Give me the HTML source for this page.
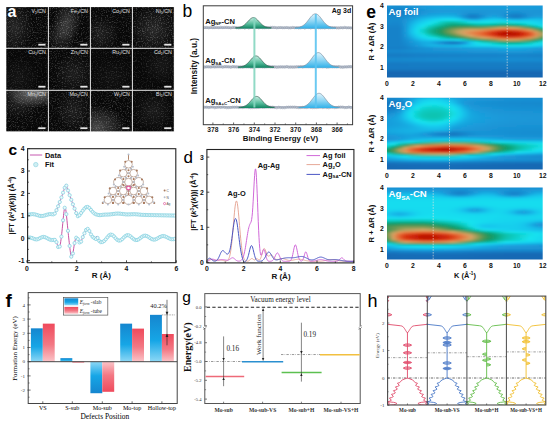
<!DOCTYPE html>
<html><head><meta charset="utf-8"><style>
html,body{margin:0;padding:0;background:#fff;width:550px;height:425px;overflow:hidden}
svg{display:block}
</style></head><body>
<svg width="550" height="425" viewBox="0 0 550 425">
<defs><filter id="nz" x="0" y="0" width="100%" height="100%"><feTurbulence type="fractalNoise" baseFrequency="0.8" numOctaves="2" seed="11"/><feColorMatrix type="matrix" values="0 0 0 0 1  0 0 0 0 1  0 0 0 0 1  3.5 0 0 0 -1.75"/><feGaussianBlur stdDeviation="0.3"/></filter><radialGradient id="hz"><stop offset="0" stop-color="#fff" stop-opacity="1"/><stop offset="1" stop-color="#fff" stop-opacity="0"/></radialGradient><linearGradient id="gg" x1="0" y1="0" x2="0" y2="1"><stop offset="0" stop-color="#c8ece2"/><stop offset="0.55" stop-color="#5cbfa0"/><stop offset="1" stop-color="#0e8460"/></linearGradient><linearGradient id="bg" x1="0" y1="0" x2="0" y2="1"><stop offset="0" stop-color="#e0f4fc"/><stop offset="0.5" stop-color="#8fd6f4"/><stop offset="1" stop-color="#30b0e8"/></linearGradient><clipPath id="cc"><rect x="27.6" y="148.7" width="148.20" height="114.00"/></clipPath><clipPath id="cd"><rect x="206.9" y="149.5" width="147.00" height="113.40"/></clipPath><filter id="eb" x="-5%" y="-5%" width="110%" height="110%"><feGaussianBlur stdDeviation="1.4 1.0"/></filter><clipPath id="ec0"><rect x="387.0" y="5.6" width="155.70" height="71.9"/></clipPath><linearGradient id="e0_0" gradientUnits="userSpaceOnUse" x1="381.8" x2="547.9" y1="0" y2="0"><stop offset="0.000" stop-color="#198fd2"/><stop offset="0.036" stop-color="#198dd1"/><stop offset="0.071" stop-color="#198dd0"/><stop offset="0.107" stop-color="#198cd0"/><stop offset="0.143" stop-color="#198dd1"/><stop offset="0.179" stop-color="#198fd2"/><stop offset="0.214" stop-color="#1991d3"/><stop offset="0.250" stop-color="#1992d4"/><stop offset="0.286" stop-color="#1a93d5"/><stop offset="0.321" stop-color="#1a94d5"/><stop offset="0.357" stop-color="#1a94d6"/><stop offset="0.393" stop-color="#1a94d6"/><stop offset="0.429" stop-color="#1a94d6"/><stop offset="0.464" stop-color="#1a94d5"/><stop offset="0.500" stop-color="#1a93d5"/><stop offset="0.536" stop-color="#1993d5"/><stop offset="0.571" stop-color="#1993d5"/><stop offset="0.607" stop-color="#1992d4"/><stop offset="0.643" stop-color="#1992d4"/><stop offset="0.679" stop-color="#1992d4"/><stop offset="0.714" stop-color="#1992d4"/><stop offset="0.750" stop-color="#1992d4"/><stop offset="0.786" stop-color="#1992d4"/><stop offset="0.821" stop-color="#1992d4"/><stop offset="0.857" stop-color="#1992d4"/><stop offset="0.893" stop-color="#1992d4"/><stop offset="0.929" stop-color="#1992d4"/><stop offset="0.964" stop-color="#1991d4"/><stop offset="1.000" stop-color="#1991d4"/></linearGradient><linearGradient id="e0_1" gradientUnits="userSpaceOnUse" x1="381.8" x2="547.9" y1="0" y2="0"><stop offset="0.000" stop-color="#1a93d5"/><stop offset="0.036" stop-color="#1991d4"/><stop offset="0.071" stop-color="#198fd2"/><stop offset="0.107" stop-color="#198ed2"/><stop offset="0.143" stop-color="#1990d3"/><stop offset="0.179" stop-color="#1a93d5"/><stop offset="0.214" stop-color="#1a96d7"/><stop offset="0.250" stop-color="#1a98d9"/><stop offset="0.286" stop-color="#1a9ada"/><stop offset="0.321" stop-color="#1a9cdb"/><stop offset="0.357" stop-color="#1a9cdb"/><stop offset="0.393" stop-color="#199ddb"/><stop offset="0.429" stop-color="#199ddb"/><stop offset="0.464" stop-color="#1a9cdb"/><stop offset="0.500" stop-color="#1a9bdb"/><stop offset="0.536" stop-color="#1a9bda"/><stop offset="0.571" stop-color="#1a9ada"/><stop offset="0.607" stop-color="#1a9ada"/><stop offset="0.643" stop-color="#1a99da"/><stop offset="0.679" stop-color="#1a99da"/><stop offset="0.714" stop-color="#1a9ada"/><stop offset="0.750" stop-color="#1a9ada"/><stop offset="0.786" stop-color="#1a9ada"/><stop offset="0.821" stop-color="#1a99da"/><stop offset="0.857" stop-color="#1a99d9"/><stop offset="0.893" stop-color="#1a99d9"/><stop offset="0.929" stop-color="#1a99d9"/><stop offset="0.964" stop-color="#1a98d9"/><stop offset="1.000" stop-color="#1a98d9"/></linearGradient><linearGradient id="e0_2" gradientUnits="userSpaceOnUse" x1="381.8" x2="547.9" y1="0" y2="0"><stop offset="0.000" stop-color="#1a94d6"/><stop offset="0.036" stop-color="#1990d3"/><stop offset="0.071" stop-color="#198dd1"/><stop offset="0.107" stop-color="#198cd0"/><stop offset="0.143" stop-color="#198ed2"/><stop offset="0.179" stop-color="#1993d5"/><stop offset="0.214" stop-color="#1a97d8"/><stop offset="0.250" stop-color="#1a9cdb"/><stop offset="0.286" stop-color="#19a0dd"/><stop offset="0.321" stop-color="#18a3de"/><stop offset="0.357" stop-color="#18a4de"/><stop offset="0.393" stop-color="#18a4de"/><stop offset="0.429" stop-color="#18a4de"/><stop offset="0.464" stop-color="#18a4de"/><stop offset="0.500" stop-color="#18a3de"/><stop offset="0.536" stop-color="#18a2dd"/><stop offset="0.571" stop-color="#19a1dd"/><stop offset="0.607" stop-color="#19a1dd"/><stop offset="0.643" stop-color="#19a0dd"/><stop offset="0.679" stop-color="#19a0dd"/><stop offset="0.714" stop-color="#19a1dd"/><stop offset="0.750" stop-color="#19a1dd"/><stop offset="0.786" stop-color="#19a0dd"/><stop offset="0.821" stop-color="#19a0dd"/><stop offset="0.857" stop-color="#19a0dc"/><stop offset="0.893" stop-color="#199fdc"/><stop offset="0.929" stop-color="#199edc"/><stop offset="0.964" stop-color="#199ddb"/><stop offset="1.000" stop-color="#199ddb"/></linearGradient><linearGradient id="e0_3" gradientUnits="userSpaceOnUse" x1="381.8" x2="547.9" y1="0" y2="0"><stop offset="0.000" stop-color="#1989ce"/><stop offset="0.036" stop-color="#1884ca"/><stop offset="0.071" stop-color="#1880c7"/><stop offset="0.107" stop-color="#187ec6"/><stop offset="0.143" stop-color="#1882c9"/><stop offset="0.179" stop-color="#1987cd"/><stop offset="0.214" stop-color="#198ed1"/><stop offset="0.250" stop-color="#1993d5"/><stop offset="0.286" stop-color="#1a96d7"/><stop offset="0.321" stop-color="#1a98d8"/><stop offset="0.357" stop-color="#1a99d9"/><stop offset="0.393" stop-color="#1a99d9"/><stop offset="0.429" stop-color="#1a99d9"/><stop offset="0.464" stop-color="#1a98d9"/><stop offset="0.500" stop-color="#1a98d8"/><stop offset="0.536" stop-color="#1a97d8"/><stop offset="0.571" stop-color="#1a96d7"/><stop offset="0.607" stop-color="#1a96d7"/><stop offset="0.643" stop-color="#1a96d7"/><stop offset="0.679" stop-color="#1a96d7"/><stop offset="0.714" stop-color="#1a96d7"/><stop offset="0.750" stop-color="#1a96d7"/><stop offset="0.786" stop-color="#1a96d7"/><stop offset="0.821" stop-color="#1a95d7"/><stop offset="0.857" stop-color="#1a95d7"/><stop offset="0.893" stop-color="#1a95d6"/><stop offset="0.929" stop-color="#1a94d6"/><stop offset="0.964" stop-color="#1a94d6"/><stop offset="1.000" stop-color="#1a93d5"/></linearGradient><linearGradient id="e0_4" gradientUnits="userSpaceOnUse" x1="381.8" x2="547.9" y1="0" y2="0"><stop offset="0.000" stop-color="#1988cd"/><stop offset="0.036" stop-color="#1883c9"/><stop offset="0.071" stop-color="#187ec6"/><stop offset="0.107" stop-color="#187dc5"/><stop offset="0.143" stop-color="#1880c8"/><stop offset="0.179" stop-color="#1987cc"/><stop offset="0.214" stop-color="#198ed2"/><stop offset="0.250" stop-color="#1a94d6"/><stop offset="0.286" stop-color="#1a98d8"/><stop offset="0.321" stop-color="#1a9ada"/><stop offset="0.357" stop-color="#1a9bdb"/><stop offset="0.393" stop-color="#1a9cdb"/><stop offset="0.429" stop-color="#1a9cdb"/><stop offset="0.464" stop-color="#1a9ada"/><stop offset="0.500" stop-color="#1a97d8"/><stop offset="0.536" stop-color="#1a95d6"/><stop offset="0.571" stop-color="#1a95d6"/><stop offset="0.607" stop-color="#1a96d7"/><stop offset="0.643" stop-color="#1a97d8"/><stop offset="0.679" stop-color="#1a97d8"/><stop offset="0.714" stop-color="#1a97d8"/><stop offset="0.750" stop-color="#1a95d6"/><stop offset="0.786" stop-color="#1992d4"/><stop offset="0.821" stop-color="#1992d4"/><stop offset="0.857" stop-color="#1a93d5"/><stop offset="0.893" stop-color="#1a95d6"/><stop offset="0.929" stop-color="#1a95d6"/><stop offset="0.964" stop-color="#1a94d6"/><stop offset="1.000" stop-color="#1a94d6"/></linearGradient><linearGradient id="e0_5" gradientUnits="userSpaceOnUse" x1="381.8" x2="547.9" y1="0" y2="0"><stop offset="0.000" stop-color="#1989ce"/><stop offset="0.036" stop-color="#1884ca"/><stop offset="0.071" stop-color="#1880c8"/><stop offset="0.107" stop-color="#187fc6"/><stop offset="0.143" stop-color="#1884ca"/><stop offset="0.179" stop-color="#198bcf"/><stop offset="0.214" stop-color="#1992d5"/><stop offset="0.250" stop-color="#1a98d9"/><stop offset="0.286" stop-color="#199edc"/><stop offset="0.321" stop-color="#19a1dd"/><stop offset="0.357" stop-color="#18a3de"/><stop offset="0.393" stop-color="#18a4de"/><stop offset="0.429" stop-color="#18a3de"/><stop offset="0.464" stop-color="#1a9ddb"/><stop offset="0.500" stop-color="#1a93d5"/><stop offset="0.536" stop-color="#198bcf"/><stop offset="0.571" stop-color="#198cd0"/><stop offset="0.607" stop-color="#1a93d5"/><stop offset="0.643" stop-color="#1a98d9"/><stop offset="0.679" stop-color="#1a99d9"/><stop offset="0.714" stop-color="#1a97d8"/><stop offset="0.750" stop-color="#198fd2"/><stop offset="0.786" stop-color="#1986cc"/><stop offset="0.821" stop-color="#1985cb"/><stop offset="0.857" stop-color="#198dd1"/><stop offset="0.893" stop-color="#1a94d6"/><stop offset="0.929" stop-color="#1a96d7"/><stop offset="0.964" stop-color="#1a96d7"/><stop offset="1.000" stop-color="#1a95d7"/></linearGradient><linearGradient id="e0_6" gradientUnits="userSpaceOnUse" x1="381.8" x2="547.9" y1="0" y2="0"><stop offset="0.000" stop-color="#198bcf"/><stop offset="0.036" stop-color="#1988cd"/><stop offset="0.071" stop-color="#1885cb"/><stop offset="0.107" stop-color="#1884ca"/><stop offset="0.143" stop-color="#198ace"/><stop offset="0.179" stop-color="#1992d4"/><stop offset="0.214" stop-color="#1a99d9"/><stop offset="0.250" stop-color="#18a2de"/><stop offset="0.286" stop-color="#17a9e1"/><stop offset="0.321" stop-color="#16aee2"/><stop offset="0.357" stop-color="#16b1e4"/><stop offset="0.393" stop-color="#15b2e4"/><stop offset="0.429" stop-color="#16b0e3"/><stop offset="0.464" stop-color="#18a2de"/><stop offset="0.500" stop-color="#198dd1"/><stop offset="0.536" stop-color="#187cc4"/><stop offset="0.571" stop-color="#187ec6"/><stop offset="0.607" stop-color="#1990d3"/><stop offset="0.643" stop-color="#1a9cdb"/><stop offset="0.679" stop-color="#19a0dc"/><stop offset="0.714" stop-color="#1a98d9"/><stop offset="0.750" stop-color="#198ace"/><stop offset="0.786" stop-color="#177bc3"/><stop offset="0.821" stop-color="#177ac2"/><stop offset="0.857" stop-color="#1986cc"/><stop offset="0.893" stop-color="#1a94d6"/><stop offset="0.929" stop-color="#1a99d9"/><stop offset="0.964" stop-color="#1a99d9"/><stop offset="1.000" stop-color="#1a98d9"/></linearGradient><linearGradient id="e0_7" gradientUnits="userSpaceOnUse" x1="381.8" x2="547.9" y1="0" y2="0"><stop offset="0.000" stop-color="#198dd1"/><stop offset="0.036" stop-color="#198bcf"/><stop offset="0.071" stop-color="#1989ce"/><stop offset="0.107" stop-color="#1989ce"/><stop offset="0.143" stop-color="#1991d3"/><stop offset="0.179" stop-color="#1a99da"/><stop offset="0.214" stop-color="#18a7df"/><stop offset="0.250" stop-color="#15b3e5"/><stop offset="0.286" stop-color="#13bce9"/><stop offset="0.321" stop-color="#12c3ec"/><stop offset="0.357" stop-color="#12c8ec"/><stop offset="0.393" stop-color="#12caed"/><stop offset="0.429" stop-color="#12c9ed"/><stop offset="0.464" stop-color="#14bbe8"/><stop offset="0.500" stop-color="#1a97d8"/><stop offset="0.536" stop-color="#1882c9"/><stop offset="0.571" stop-color="#1884ca"/><stop offset="0.607" stop-color="#1a99d9"/><stop offset="0.643" stop-color="#16afe3"/><stop offset="0.679" stop-color="#15b4e5"/><stop offset="0.714" stop-color="#16ace2"/><stop offset="0.750" stop-color="#1a97d8"/><stop offset="0.786" stop-color="#1987cc"/><stop offset="0.821" stop-color="#1985cb"/><stop offset="0.857" stop-color="#1992d5"/><stop offset="0.893" stop-color="#18a3de"/><stop offset="0.929" stop-color="#17a9e0"/><stop offset="0.964" stop-color="#17a8e0"/><stop offset="1.000" stop-color="#18a5df"/></linearGradient><linearGradient id="e0_8" gradientUnits="userSpaceOnUse" x1="381.8" x2="547.9" y1="0" y2="0"><stop offset="0.000" stop-color="#198cd0"/><stop offset="0.036" stop-color="#198bcf"/><stop offset="0.071" stop-color="#198acf"/><stop offset="0.107" stop-color="#198ace"/><stop offset="0.143" stop-color="#1a94d6"/><stop offset="0.179" stop-color="#18a2dd"/><stop offset="0.214" stop-color="#15b3e5"/><stop offset="0.250" stop-color="#12c3ec"/><stop offset="0.286" stop-color="#12ceed"/><stop offset="0.321" stop-color="#12d7ee"/><stop offset="0.357" stop-color="#12dfef"/><stop offset="0.393" stop-color="#12e3ed"/><stop offset="0.429" stop-color="#12e3ee"/><stop offset="0.464" stop-color="#12dcef"/><stop offset="0.500" stop-color="#12cbed"/><stop offset="0.536" stop-color="#15b4e5"/><stop offset="0.571" stop-color="#15b2e4"/><stop offset="0.607" stop-color="#12c6ec"/><stop offset="0.643" stop-color="#12ceed"/><stop offset="0.679" stop-color="#12d1ee"/><stop offset="0.714" stop-color="#12d0ee"/><stop offset="0.750" stop-color="#12c9ed"/><stop offset="0.786" stop-color="#14bce9"/><stop offset="0.821" stop-color="#14b9e7"/><stop offset="0.857" stop-color="#13c1eb"/><stop offset="0.893" stop-color="#12c7ec"/><stop offset="0.929" stop-color="#12c6ec"/><stop offset="0.964" stop-color="#13c1eb"/><stop offset="1.000" stop-color="#13bce9"/></linearGradient><linearGradient id="e0_9" gradientUnits="userSpaceOnUse" x1="381.8" x2="547.9" y1="0" y2="0"><stop offset="0.000" stop-color="#198ace"/><stop offset="0.036" stop-color="#198ace"/><stop offset="0.071" stop-color="#1989ce"/><stop offset="0.107" stop-color="#1989ce"/><stop offset="0.143" stop-color="#1a96d7"/><stop offset="0.179" stop-color="#17abe1"/><stop offset="0.214" stop-color="#13c0ea"/><stop offset="0.250" stop-color="#12cfed"/><stop offset="0.286" stop-color="#12dcef"/><stop offset="0.321" stop-color="#12e0e9"/><stop offset="0.357" stop-color="#11d0ca"/><stop offset="0.393" stop-color="#11c3b0"/><stop offset="0.429" stop-color="#10c0ab"/><stop offset="0.464" stop-color="#11c7b9"/><stop offset="0.500" stop-color="#11d5d2"/><stop offset="0.536" stop-color="#12e3ef"/><stop offset="0.571" stop-color="#12dfef"/><stop offset="0.607" stop-color="#12e2f0"/><stop offset="0.643" stop-color="#12e4f0"/><stop offset="0.679" stop-color="#12e1ea"/><stop offset="0.714" stop-color="#12dde3"/><stop offset="0.750" stop-color="#12dfe6"/><stop offset="0.786" stop-color="#12e3f0"/><stop offset="0.821" stop-color="#12e0f0"/><stop offset="0.857" stop-color="#12ddef"/><stop offset="0.893" stop-color="#12daef"/><stop offset="0.929" stop-color="#12d3ee"/><stop offset="0.964" stop-color="#12cded"/><stop offset="1.000" stop-color="#12c8ec"/></linearGradient><linearGradient id="e0_10" gradientUnits="userSpaceOnUse" x1="381.8" x2="547.9" y1="0" y2="0"><stop offset="0.000" stop-color="#1988cd"/><stop offset="0.036" stop-color="#1987cd"/><stop offset="0.071" stop-color="#1987cd"/><stop offset="0.107" stop-color="#1987cd"/><stop offset="0.143" stop-color="#1a98d8"/><stop offset="0.179" stop-color="#15b3e5"/><stop offset="0.214" stop-color="#12caed"/><stop offset="0.250" stop-color="#12d9ef"/><stop offset="0.286" stop-color="#12e2ec"/><stop offset="0.321" stop-color="#11d2ce"/><stop offset="0.357" stop-color="#11c3b0"/><stop offset="0.393" stop-color="#10b494"/><stop offset="0.429" stop-color="#10ae8a"/><stop offset="0.464" stop-color="#10b18f"/><stop offset="0.500" stop-color="#10b698"/><stop offset="0.536" stop-color="#10bfa9"/><stop offset="0.571" stop-color="#11c9bc"/><stop offset="0.607" stop-color="#11cbc0"/><stop offset="0.643" stop-color="#11cabe"/><stop offset="0.679" stop-color="#11c5b4"/><stop offset="0.714" stop-color="#10bda6"/><stop offset="0.750" stop-color="#10bba2"/><stop offset="0.786" stop-color="#10c0ac"/><stop offset="0.821" stop-color="#11c7b8"/><stop offset="0.857" stop-color="#11d3cf"/><stop offset="0.893" stop-color="#12dfe7"/><stop offset="0.929" stop-color="#12dbef"/><stop offset="0.964" stop-color="#12d1ee"/><stop offset="1.000" stop-color="#12c8ed"/></linearGradient><linearGradient id="e0_11" gradientUnits="userSpaceOnUse" x1="381.8" x2="547.9" y1="0" y2="0"><stop offset="0.000" stop-color="#1885cb"/><stop offset="0.036" stop-color="#1885cb"/><stop offset="0.071" stop-color="#1885cb"/><stop offset="0.107" stop-color="#1885cb"/><stop offset="0.143" stop-color="#1a98d9"/><stop offset="0.179" stop-color="#14bae8"/><stop offset="0.214" stop-color="#12d2ee"/><stop offset="0.250" stop-color="#12e3f0"/><stop offset="0.286" stop-color="#11d1cc"/><stop offset="0.321" stop-color="#10c0ab"/><stop offset="0.357" stop-color="#10b08d"/><stop offset="0.393" stop-color="#10a173"/><stop offset="0.429" stop-color="#109761"/><stop offset="0.464" stop-color="#139660"/><stop offset="0.500" stop-color="#109660"/><stop offset="0.536" stop-color="#109a67"/><stop offset="0.571" stop-color="#10a173"/><stop offset="0.607" stop-color="#10a173"/><stop offset="0.643" stop-color="#109d6c"/><stop offset="0.679" stop-color="#129660"/><stop offset="0.714" stop-color="#2d965b"/><stop offset="0.750" stop-color="#35965a"/><stop offset="0.786" stop-color="#28965c"/><stop offset="0.821" stop-color="#13965f"/><stop offset="0.857" stop-color="#10a479"/><stop offset="0.893" stop-color="#10b494"/><stop offset="0.929" stop-color="#11cfc8"/><stop offset="0.964" stop-color="#12e2f0"/><stop offset="1.000" stop-color="#12d5ee"/></linearGradient><linearGradient id="e0_12" gradientUnits="userSpaceOnUse" x1="381.8" x2="547.9" y1="0" y2="0"><stop offset="0.000" stop-color="#1882c9"/><stop offset="0.036" stop-color="#1882c9"/><stop offset="0.071" stop-color="#1882c9"/><stop offset="0.107" stop-color="#1882c9"/><stop offset="0.143" stop-color="#1a98d8"/><stop offset="0.179" stop-color="#13bee9"/><stop offset="0.214" stop-color="#12d8ee"/><stop offset="0.250" stop-color="#12dadc"/><stop offset="0.286" stop-color="#11c2ae"/><stop offset="0.321" stop-color="#10af8c"/><stop offset="0.357" stop-color="#109e6e"/><stop offset="0.393" stop-color="#2e965b"/><stop offset="0.429" stop-color="#549654"/><stop offset="0.464" stop-color="#699651"/><stop offset="0.500" stop-color="#769752"/><stop offset="0.536" stop-color="#799853"/><stop offset="0.571" stop-color="#749751"/><stop offset="0.607" stop-color="#809954"/><stop offset="0.643" stop-color="#989d59"/><stop offset="0.679" stop-color="#baa361"/><stop offset="0.714" stop-color="#d9a565"/><stop offset="0.750" stop-color="#db9f60"/><stop offset="0.786" stop-color="#d9a666"/><stop offset="0.821" stop-color="#c3a463"/><stop offset="0.857" stop-color="#8d9b57"/><stop offset="0.893" stop-color="#549654"/><stop offset="0.929" stop-color="#109d6c"/><stop offset="0.964" stop-color="#10ba9f"/><stop offset="1.000" stop-color="#11d6d4"/></linearGradient><linearGradient id="e0_13" gradientUnits="userSpaceOnUse" x1="381.8" x2="547.9" y1="0" y2="0"><stop offset="0.000" stop-color="#1882c9"/><stop offset="0.036" stop-color="#1882c9"/><stop offset="0.071" stop-color="#1882c9"/><stop offset="0.107" stop-color="#1882c9"/><stop offset="0.143" stop-color="#1a99d9"/><stop offset="0.179" stop-color="#12c2eb"/><stop offset="0.214" stop-color="#12dcef"/><stop offset="0.250" stop-color="#11d0ca"/><stop offset="0.286" stop-color="#10b698"/><stop offset="0.321" stop-color="#10a478"/><stop offset="0.357" stop-color="#20965d"/><stop offset="0.393" stop-color="#5b9653"/><stop offset="0.429" stop-color="#899b56"/><stop offset="0.464" stop-color="#ada15e"/><stop offset="0.500" stop-color="#cca665"/><stop offset="0.536" stop-color="#d9a465"/><stop offset="0.571" stop-color="#db9e5f"/><stop offset="0.607" stop-color="#de9356"/><stop offset="0.643" stop-color="#e38247"/><stop offset="0.679" stop-color="#e76d36"/><stop offset="0.714" stop-color="#e05325"/><stop offset="0.750" stop-color="#de491f"/><stop offset="0.786" stop-color="#e05225"/><stop offset="0.821" stop-color="#e4612e"/><stop offset="0.857" stop-color="#e48045"/><stop offset="0.893" stop-color="#db9c5e"/><stop offset="0.929" stop-color="#899b56"/><stop offset="0.964" stop-color="#29965c"/><stop offset="1.000" stop-color="#10ab84"/></linearGradient><linearGradient id="e0_14" gradientUnits="userSpaceOnUse" x1="381.8" x2="547.9" y1="0" y2="0"><stop offset="0.000" stop-color="#1882c9"/><stop offset="0.036" stop-color="#1882c9"/><stop offset="0.071" stop-color="#1882c9"/><stop offset="0.107" stop-color="#1882c9"/><stop offset="0.143" stop-color="#1a99d9"/><stop offset="0.179" stop-color="#12c2eb"/><stop offset="0.214" stop-color="#12dcef"/><stop offset="0.250" stop-color="#11d0c9"/><stop offset="0.286" stop-color="#10b597"/><stop offset="0.321" stop-color="#10a276"/><stop offset="0.357" stop-color="#25965c"/><stop offset="0.393" stop-color="#629652"/><stop offset="0.429" stop-color="#959d59"/><stop offset="0.464" stop-color="#c6a564"/><stop offset="0.500" stop-color="#db9c5e"/><stop offset="0.536" stop-color="#e08b50"/><stop offset="0.571" stop-color="#e47d43"/><stop offset="0.607" stop-color="#e76c35"/><stop offset="0.643" stop-color="#df4f23"/><stop offset="0.679" stop-color="#d7300f"/><stop offset="0.714" stop-color="#c71d07"/><stop offset="0.750" stop-color="#bf1605"/><stop offset="0.786" stop-color="#c31a06"/><stop offset="0.821" stop-color="#cc2309"/><stop offset="0.857" stop-color="#db4119"/><stop offset="0.893" stop-color="#e66833"/><stop offset="0.929" stop-color="#db9c5e"/><stop offset="0.964" stop-color="#889a56"/><stop offset="1.000" stop-color="#2a965c"/></linearGradient><linearGradient id="e0_15" gradientUnits="userSpaceOnUse" x1="381.8" x2="547.9" y1="0" y2="0"><stop offset="0.000" stop-color="#1882c9"/><stop offset="0.036" stop-color="#1882c9"/><stop offset="0.071" stop-color="#1882c9"/><stop offset="0.107" stop-color="#1882c9"/><stop offset="0.143" stop-color="#1a97d8"/><stop offset="0.179" stop-color="#13bde9"/><stop offset="0.214" stop-color="#12d7ee"/><stop offset="0.250" stop-color="#12d9db"/><stop offset="0.286" stop-color="#10c0aa"/><stop offset="0.321" stop-color="#10ac87"/><stop offset="0.357" stop-color="#109965"/><stop offset="0.393" stop-color="#429658"/><stop offset="0.429" stop-color="#749751"/><stop offset="0.464" stop-color="#ada15e"/><stop offset="0.500" stop-color="#daa363"/><stop offset="0.536" stop-color="#e08c50"/><stop offset="0.571" stop-color="#e6773e"/><stop offset="0.607" stop-color="#e4612e"/><stop offset="0.643" stop-color="#dc411a"/><stop offset="0.679" stop-color="#cf250a"/><stop offset="0.714" stop-color="#bb1203"/><stop offset="0.750" stop-color="#b20a01"/><stop offset="0.786" stop-color="#b60d02"/><stop offset="0.821" stop-color="#be1504"/><stop offset="0.857" stop-color="#d3290b"/><stop offset="0.893" stop-color="#df4e22"/><stop offset="0.929" stop-color="#e1894e"/><stop offset="0.964" stop-color="#b2a25f"/><stop offset="1.000" stop-color="#4e9655"/></linearGradient><linearGradient id="e0_16" gradientUnits="userSpaceOnUse" x1="381.8" x2="547.9" y1="0" y2="0"><stop offset="0.000" stop-color="#1882c9"/><stop offset="0.036" stop-color="#1882c9"/><stop offset="0.071" stop-color="#1882c9"/><stop offset="0.107" stop-color="#1882c9"/><stop offset="0.143" stop-color="#1a95d6"/><stop offset="0.179" stop-color="#15b4e5"/><stop offset="0.214" stop-color="#12cfed"/><stop offset="0.250" stop-color="#12e0f0"/><stop offset="0.286" stop-color="#11d4d1"/><stop offset="0.321" stop-color="#10c1ac"/><stop offset="0.357" stop-color="#10ae8a"/><stop offset="0.393" stop-color="#109c6a"/><stop offset="0.429" stop-color="#2d965b"/><stop offset="0.464" stop-color="#679651"/><stop offset="0.500" stop-color="#a19f5c"/><stop offset="0.536" stop-color="#d8a767"/><stop offset="0.571" stop-color="#df8e52"/><stop offset="0.607" stop-color="#e57b42"/><stop offset="0.643" stop-color="#e4602e"/><stop offset="0.679" stop-color="#db3f18"/><stop offset="0.714" stop-color="#cd2409"/><stop offset="0.750" stop-color="#c41a06"/><stop offset="0.786" stop-color="#c61d07"/><stop offset="0.821" stop-color="#cd2309"/><stop offset="0.857" stop-color="#db3d17"/><stop offset="0.893" stop-color="#e4622f"/><stop offset="0.929" stop-color="#dd9658"/><stop offset="0.964" stop-color="#9b9e5a"/><stop offset="1.000" stop-color="#3a9659"/></linearGradient><linearGradient id="e0_17" gradientUnits="userSpaceOnUse" x1="381.8" x2="547.9" y1="0" y2="0"><stop offset="0.000" stop-color="#1882c9"/><stop offset="0.036" stop-color="#1882c9"/><stop offset="0.071" stop-color="#1882c9"/><stop offset="0.107" stop-color="#1882c9"/><stop offset="0.143" stop-color="#1992d4"/><stop offset="0.179" stop-color="#17a9e0"/><stop offset="0.214" stop-color="#12c4ec"/><stop offset="0.250" stop-color="#12d2ee"/><stop offset="0.286" stop-color="#12deef"/><stop offset="0.321" stop-color="#12dee5"/><stop offset="0.357" stop-color="#11cec6"/><stop offset="0.393" stop-color="#10bda6"/><stop offset="0.429" stop-color="#10af8c"/><stop offset="0.464" stop-color="#109c6b"/><stop offset="0.500" stop-color="#35965a"/><stop offset="0.536" stop-color="#6e9650"/><stop offset="0.571" stop-color="#a7a05d"/><stop offset="0.607" stop-color="#cea666"/><stop offset="0.643" stop-color="#dc9a5c"/><stop offset="0.679" stop-color="#e38248"/><stop offset="0.714" stop-color="#e66833"/><stop offset="0.750" stop-color="#e15728"/><stop offset="0.786" stop-color="#e25929"/><stop offset="0.821" stop-color="#e4622f"/><stop offset="0.857" stop-color="#e57b42"/><stop offset="0.893" stop-color="#de9457"/><stop offset="0.929" stop-color="#a49f5c"/><stop offset="0.964" stop-color="#499656"/><stop offset="1.000" stop-color="#10a072"/></linearGradient><linearGradient id="e0_18" gradientUnits="userSpaceOnUse" x1="381.8" x2="547.9" y1="0" y2="0"><stop offset="0.000" stop-color="#1882c9"/><stop offset="0.036" stop-color="#1882c9"/><stop offset="0.071" stop-color="#1882c9"/><stop offset="0.107" stop-color="#1882c9"/><stop offset="0.143" stop-color="#198ed2"/><stop offset="0.179" stop-color="#199ddb"/><stop offset="0.214" stop-color="#15b2e4"/><stop offset="0.250" stop-color="#12c2eb"/><stop offset="0.286" stop-color="#12caed"/><stop offset="0.321" stop-color="#12ceed"/><stop offset="0.357" stop-color="#12d0ed"/><stop offset="0.393" stop-color="#12d1ee"/><stop offset="0.429" stop-color="#12d5ee"/><stop offset="0.464" stop-color="#12e2f0"/><stop offset="0.500" stop-color="#11ccc2"/><stop offset="0.536" stop-color="#10af8b"/><stop offset="0.571" stop-color="#109661"/><stop offset="0.607" stop-color="#32965a"/><stop offset="0.643" stop-color="#549654"/><stop offset="0.679" stop-color="#809954"/><stop offset="0.714" stop-color="#b1a15f"/><stop offset="0.750" stop-color="#cda665"/><stop offset="0.786" stop-color="#cca665"/><stop offset="0.821" stop-color="#c1a463"/><stop offset="0.857" stop-color="#989d5a"/><stop offset="0.893" stop-color="#6c9650"/><stop offset="0.929" stop-color="#1c965e"/><stop offset="0.964" stop-color="#10ac86"/><stop offset="1.000" stop-color="#11c8ba"/></linearGradient><linearGradient id="e0_19" gradientUnits="userSpaceOnUse" x1="381.8" x2="547.9" y1="0" y2="0"><stop offset="0.000" stop-color="#1882c9"/><stop offset="0.036" stop-color="#1882c9"/><stop offset="0.071" stop-color="#1882c9"/><stop offset="0.107" stop-color="#1882c9"/><stop offset="0.143" stop-color="#198bd0"/><stop offset="0.179" stop-color="#1a96d7"/><stop offset="0.214" stop-color="#18a2de"/><stop offset="0.250" stop-color="#17ace2"/><stop offset="0.286" stop-color="#16ade2"/><stop offset="0.321" stop-color="#199edc"/><stop offset="0.357" stop-color="#198bcf"/><stop offset="0.393" stop-color="#1779c2"/><stop offset="0.429" stop-color="#1672bb"/><stop offset="0.464" stop-color="#177bc3"/><stop offset="0.500" stop-color="#1a96d7"/><stop offset="0.536" stop-color="#12c9ed"/><stop offset="0.571" stop-color="#12dee4"/><stop offset="0.607" stop-color="#11c6b7"/><stop offset="0.643" stop-color="#10b89d"/><stop offset="0.679" stop-color="#10ac86"/><stop offset="0.714" stop-color="#109e6d"/><stop offset="0.750" stop-color="#119660"/><stop offset="0.786" stop-color="#129660"/><stop offset="0.821" stop-color="#109863"/><stop offset="0.857" stop-color="#10a276"/><stop offset="0.893" stop-color="#10ae8a"/><stop offset="0.929" stop-color="#11c6b6"/><stop offset="0.964" stop-color="#12dce1"/><stop offset="1.000" stop-color="#12dbef"/></linearGradient><linearGradient id="e0_20" gradientUnits="userSpaceOnUse" x1="381.8" x2="547.9" y1="0" y2="0"><stop offset="0.000" stop-color="#1882c9"/><stop offset="0.036" stop-color="#1882c9"/><stop offset="0.071" stop-color="#1882c9"/><stop offset="0.107" stop-color="#1882c9"/><stop offset="0.143" stop-color="#1989ce"/><stop offset="0.179" stop-color="#1993d5"/><stop offset="0.214" stop-color="#199ddb"/><stop offset="0.250" stop-color="#17a9e0"/><stop offset="0.286" stop-color="#16afe3"/><stop offset="0.321" stop-color="#17a9e0"/><stop offset="0.357" stop-color="#1a98d8"/><stop offset="0.393" stop-color="#198cd0"/><stop offset="0.429" stop-color="#1985cb"/><stop offset="0.464" stop-color="#198dd1"/><stop offset="0.500" stop-color="#18a3de"/><stop offset="0.536" stop-color="#12c6ec"/><stop offset="0.571" stop-color="#12d9ef"/><stop offset="0.607" stop-color="#12e2f0"/><stop offset="0.643" stop-color="#12e0e9"/><stop offset="0.679" stop-color="#11d7d7"/><stop offset="0.714" stop-color="#11ccc1"/><stop offset="0.750" stop-color="#11c5b5"/><stop offset="0.786" stop-color="#11c5b4"/><stop offset="0.821" stop-color="#11c6b7"/><stop offset="0.857" stop-color="#11cec7"/><stop offset="0.893" stop-color="#11d8d8"/><stop offset="0.929" stop-color="#12e1f0"/><stop offset="0.964" stop-color="#12d8ee"/><stop offset="1.000" stop-color="#12cfed"/></linearGradient><linearGradient id="e0_21" gradientUnits="userSpaceOnUse" x1="381.8" x2="547.9" y1="0" y2="0"><stop offset="0.000" stop-color="#1882c9"/><stop offset="0.036" stop-color="#1882c9"/><stop offset="0.071" stop-color="#1882c9"/><stop offset="0.107" stop-color="#1882c9"/><stop offset="0.143" stop-color="#1987cc"/><stop offset="0.179" stop-color="#1990d3"/><stop offset="0.214" stop-color="#1a99d9"/><stop offset="0.250" stop-color="#18a5df"/><stop offset="0.286" stop-color="#16b1e4"/><stop offset="0.321" stop-color="#14b8e7"/><stop offset="0.357" stop-color="#14b9e7"/><stop offset="0.393" stop-color="#14bae8"/><stop offset="0.429" stop-color="#14bbe8"/><stop offset="0.464" stop-color="#13c0ea"/><stop offset="0.500" stop-color="#12c7ec"/><stop offset="0.536" stop-color="#12cced"/><stop offset="0.571" stop-color="#12d1ee"/><stop offset="0.607" stop-color="#12d2ee"/><stop offset="0.643" stop-color="#12d3ee"/><stop offset="0.679" stop-color="#12d6ee"/><stop offset="0.714" stop-color="#12dbef"/><stop offset="0.750" stop-color="#12deef"/><stop offset="0.786" stop-color="#12deef"/><stop offset="0.821" stop-color="#12ddef"/><stop offset="0.857" stop-color="#12daef"/><stop offset="0.893" stop-color="#12d6ee"/><stop offset="0.929" stop-color="#12cfed"/><stop offset="0.964" stop-color="#12c9ed"/><stop offset="1.000" stop-color="#12c3ec"/></linearGradient><linearGradient id="e0_22" gradientUnits="userSpaceOnUse" x1="381.8" x2="547.9" y1="0" y2="0"><stop offset="0.000" stop-color="#187ec6"/><stop offset="0.036" stop-color="#187ec6"/><stop offset="0.071" stop-color="#187ec6"/><stop offset="0.107" stop-color="#187ec6"/><stop offset="0.143" stop-color="#1881c8"/><stop offset="0.179" stop-color="#1986cc"/><stop offset="0.214" stop-color="#198bcf"/><stop offset="0.250" stop-color="#198fd2"/><stop offset="0.286" stop-color="#1993d5"/><stop offset="0.321" stop-color="#1a95d7"/><stop offset="0.357" stop-color="#1a97d8"/><stop offset="0.393" stop-color="#1a98d8"/><stop offset="0.429" stop-color="#1a98d9"/><stop offset="0.464" stop-color="#1a9ada"/><stop offset="0.500" stop-color="#199edc"/><stop offset="0.536" stop-color="#19a1dd"/><stop offset="0.571" stop-color="#18a4de"/><stop offset="0.607" stop-color="#18a5df"/><stop offset="0.643" stop-color="#18a5df"/><stop offset="0.679" stop-color="#17a8e0"/><stop offset="0.714" stop-color="#17ace2"/><stop offset="0.750" stop-color="#16afe3"/><stop offset="0.786" stop-color="#16afe3"/><stop offset="0.821" stop-color="#16aee3"/><stop offset="0.857" stop-color="#17abe1"/><stop offset="0.893" stop-color="#17a7e0"/><stop offset="0.929" stop-color="#19a1dd"/><stop offset="0.964" stop-color="#1a9bda"/><stop offset="1.000" stop-color="#1a97d8"/></linearGradient><linearGradient id="e0_23" gradientUnits="userSpaceOnUse" x1="381.8" x2="547.9" y1="0" y2="0"><stop offset="0.000" stop-color="#1987cd"/><stop offset="0.036" stop-color="#1987cd"/><stop offset="0.071" stop-color="#1987cd"/><stop offset="0.107" stop-color="#1987cd"/><stop offset="0.143" stop-color="#198ace"/><stop offset="0.179" stop-color="#198dd0"/><stop offset="0.214" stop-color="#198fd2"/><stop offset="0.250" stop-color="#1991d3"/><stop offset="0.286" stop-color="#1992d5"/><stop offset="0.321" stop-color="#1a93d5"/><stop offset="0.357" stop-color="#1a94d6"/><stop offset="0.393" stop-color="#1a95d6"/><stop offset="0.429" stop-color="#1a95d7"/><stop offset="0.464" stop-color="#1a97d8"/><stop offset="0.500" stop-color="#1a98d8"/><stop offset="0.536" stop-color="#1a99d9"/><stop offset="0.571" stop-color="#1a9ada"/><stop offset="0.607" stop-color="#1a9ada"/><stop offset="0.643" stop-color="#1a9ada"/><stop offset="0.679" stop-color="#1a9cdb"/><stop offset="0.714" stop-color="#199edc"/><stop offset="0.750" stop-color="#19a0dd"/><stop offset="0.786" stop-color="#19a0dd"/><stop offset="0.821" stop-color="#19a0dc"/><stop offset="0.857" stop-color="#199ddb"/><stop offset="0.893" stop-color="#1a9bda"/><stop offset="0.929" stop-color="#1a98d9"/><stop offset="0.964" stop-color="#1a96d7"/><stop offset="1.000" stop-color="#1a94d6"/></linearGradient><linearGradient id="e0_24" gradientUnits="userSpaceOnUse" x1="381.8" x2="547.9" y1="0" y2="0"><stop offset="0.000" stop-color="#1987cd"/><stop offset="0.036" stop-color="#1987cd"/><stop offset="0.071" stop-color="#1987cd"/><stop offset="0.107" stop-color="#1987cd"/><stop offset="0.143" stop-color="#1989ce"/><stop offset="0.179" stop-color="#198bcf"/><stop offset="0.214" stop-color="#198dd1"/><stop offset="0.250" stop-color="#198ed1"/><stop offset="0.286" stop-color="#198fd2"/><stop offset="0.321" stop-color="#1990d3"/><stop offset="0.357" stop-color="#1990d3"/><stop offset="0.393" stop-color="#1991d3"/><stop offset="0.429" stop-color="#1991d4"/><stop offset="0.464" stop-color="#1992d4"/><stop offset="0.500" stop-color="#1993d5"/><stop offset="0.536" stop-color="#1a93d5"/><stop offset="0.571" stop-color="#1a94d6"/><stop offset="0.607" stop-color="#1a94d6"/><stop offset="0.643" stop-color="#1a94d6"/><stop offset="0.679" stop-color="#1a94d6"/><stop offset="0.714" stop-color="#1a96d7"/><stop offset="0.750" stop-color="#1a96d7"/><stop offset="0.786" stop-color="#1a96d7"/><stop offset="0.821" stop-color="#1a96d7"/><stop offset="0.857" stop-color="#1a95d6"/><stop offset="0.893" stop-color="#1a94d6"/><stop offset="0.929" stop-color="#1992d5"/><stop offset="0.964" stop-color="#1991d3"/><stop offset="1.000" stop-color="#198fd2"/></linearGradient><linearGradient id="e0_25" gradientUnits="userSpaceOnUse" x1="381.8" x2="547.9" y1="0" y2="0"><stop offset="0.000" stop-color="#187ec6"/><stop offset="0.036" stop-color="#187ec6"/><stop offset="0.071" stop-color="#187ec6"/><stop offset="0.107" stop-color="#187ec6"/><stop offset="0.143" stop-color="#187fc7"/><stop offset="0.179" stop-color="#1881c8"/><stop offset="0.214" stop-color="#1882c9"/><stop offset="0.250" stop-color="#1883c9"/><stop offset="0.286" stop-color="#1883ca"/><stop offset="0.321" stop-color="#1884ca"/><stop offset="0.357" stop-color="#1884cb"/><stop offset="0.393" stop-color="#1885cb"/><stop offset="0.429" stop-color="#1985cb"/><stop offset="0.464" stop-color="#1986cb"/><stop offset="0.500" stop-color="#1986cc"/><stop offset="0.536" stop-color="#1986cc"/><stop offset="0.571" stop-color="#1987cc"/><stop offset="0.607" stop-color="#1987cc"/><stop offset="0.643" stop-color="#1987cc"/><stop offset="0.679" stop-color="#1987cd"/><stop offset="0.714" stop-color="#1988cd"/><stop offset="0.750" stop-color="#1988cd"/><stop offset="0.786" stop-color="#1988cd"/><stop offset="0.821" stop-color="#1988cd"/><stop offset="0.857" stop-color="#1988cd"/><stop offset="0.893" stop-color="#1987cc"/><stop offset="0.929" stop-color="#1986cb"/><stop offset="0.964" stop-color="#1885cb"/><stop offset="1.000" stop-color="#1884ca"/></linearGradient><linearGradient id="e0_26" gradientUnits="userSpaceOnUse" x1="381.8" x2="547.9" y1="0" y2="0"><stop offset="0.000" stop-color="#187cc4"/><stop offset="0.036" stop-color="#187cc4"/><stop offset="0.071" stop-color="#187cc4"/><stop offset="0.107" stop-color="#187cc4"/><stop offset="0.143" stop-color="#187dc5"/><stop offset="0.179" stop-color="#187ec6"/><stop offset="0.214" stop-color="#187fc7"/><stop offset="0.250" stop-color="#187fc7"/><stop offset="0.286" stop-color="#1880c7"/><stop offset="0.321" stop-color="#1880c8"/><stop offset="0.357" stop-color="#1881c8"/><stop offset="0.393" stop-color="#1881c8"/><stop offset="0.429" stop-color="#1881c8"/><stop offset="0.464" stop-color="#1881c8"/><stop offset="0.500" stop-color="#1882c9"/><stop offset="0.536" stop-color="#1882c9"/><stop offset="0.571" stop-color="#1882c9"/><stop offset="0.607" stop-color="#1882c9"/><stop offset="0.643" stop-color="#1882c9"/><stop offset="0.679" stop-color="#1882c9"/><stop offset="0.714" stop-color="#1883ca"/><stop offset="0.750" stop-color="#1883ca"/><stop offset="0.786" stop-color="#1883ca"/><stop offset="0.821" stop-color="#1883ca"/><stop offset="0.857" stop-color="#1883c9"/><stop offset="0.893" stop-color="#1882c9"/><stop offset="0.929" stop-color="#1881c8"/><stop offset="0.964" stop-color="#1881c8"/><stop offset="1.000" stop-color="#1880c7"/></linearGradient><linearGradient id="e0_27" gradientUnits="userSpaceOnUse" x1="381.8" x2="547.9" y1="0" y2="0"><stop offset="0.000" stop-color="#1885cb"/><stop offset="0.036" stop-color="#1885cb"/><stop offset="0.071" stop-color="#1885cb"/><stop offset="0.107" stop-color="#1885cb"/><stop offset="0.143" stop-color="#1986cb"/><stop offset="0.179" stop-color="#1986cc"/><stop offset="0.214" stop-color="#1987cd"/><stop offset="0.250" stop-color="#1988cd"/><stop offset="0.286" stop-color="#1988cd"/><stop offset="0.321" stop-color="#1988cd"/><stop offset="0.357" stop-color="#1989ce"/><stop offset="0.393" stop-color="#1989ce"/><stop offset="0.429" stop-color="#1989ce"/><stop offset="0.464" stop-color="#1989ce"/><stop offset="0.500" stop-color="#1989ce"/><stop offset="0.536" stop-color="#198ace"/><stop offset="0.571" stop-color="#198ace"/><stop offset="0.607" stop-color="#198ace"/><stop offset="0.643" stop-color="#1989ce"/><stop offset="0.679" stop-color="#198ace"/><stop offset="0.714" stop-color="#198acf"/><stop offset="0.750" stop-color="#198acf"/><stop offset="0.786" stop-color="#198acf"/><stop offset="0.821" stop-color="#198acf"/><stop offset="0.857" stop-color="#198ace"/><stop offset="0.893" stop-color="#198ace"/><stop offset="0.929" stop-color="#1989ce"/><stop offset="0.964" stop-color="#1988cd"/><stop offset="1.000" stop-color="#1988cd"/></linearGradient><linearGradient id="e0_28" gradientUnits="userSpaceOnUse" x1="381.8" x2="547.9" y1="0" y2="0"><stop offset="0.000" stop-color="#1989ce"/><stop offset="0.036" stop-color="#1989ce"/><stop offset="0.071" stop-color="#1989ce"/><stop offset="0.107" stop-color="#1989ce"/><stop offset="0.143" stop-color="#198ace"/><stop offset="0.179" stop-color="#198acf"/><stop offset="0.214" stop-color="#198bcf"/><stop offset="0.250" stop-color="#198bcf"/><stop offset="0.286" stop-color="#198cd0"/><stop offset="0.321" stop-color="#198cd0"/><stop offset="0.357" stop-color="#198cd0"/><stop offset="0.393" stop-color="#198cd0"/><stop offset="0.429" stop-color="#198cd0"/><stop offset="0.464" stop-color="#198cd0"/><stop offset="0.500" stop-color="#198cd0"/><stop offset="0.536" stop-color="#198cd0"/><stop offset="0.571" stop-color="#198dd0"/><stop offset="0.607" stop-color="#198cd0"/><stop offset="0.643" stop-color="#198cd0"/><stop offset="0.679" stop-color="#198cd0"/><stop offset="0.714" stop-color="#198dd0"/><stop offset="0.750" stop-color="#198dd1"/><stop offset="0.786" stop-color="#198dd1"/><stop offset="0.821" stop-color="#198dd1"/><stop offset="0.857" stop-color="#198dd0"/><stop offset="0.893" stop-color="#198cd0"/><stop offset="0.929" stop-color="#198cd0"/><stop offset="0.964" stop-color="#198bd0"/><stop offset="1.000" stop-color="#198bcf"/></linearGradient><linearGradient id="e0_29" gradientUnits="userSpaceOnUse" x1="381.8" x2="547.9" y1="0" y2="0"><stop offset="0.000" stop-color="#1881c8"/><stop offset="0.036" stop-color="#1881c8"/><stop offset="0.071" stop-color="#1881c8"/><stop offset="0.107" stop-color="#1881c8"/><stop offset="0.143" stop-color="#1881c8"/><stop offset="0.179" stop-color="#1882c9"/><stop offset="0.214" stop-color="#1882c9"/><stop offset="0.250" stop-color="#1883c9"/><stop offset="0.286" stop-color="#1883c9"/><stop offset="0.321" stop-color="#1883ca"/><stop offset="0.357" stop-color="#1883ca"/><stop offset="0.393" stop-color="#1883ca"/><stop offset="0.429" stop-color="#1883ca"/><stop offset="0.464" stop-color="#1883ca"/><stop offset="0.500" stop-color="#1883ca"/><stop offset="0.536" stop-color="#1883ca"/><stop offset="0.571" stop-color="#1883ca"/><stop offset="0.607" stop-color="#1883ca"/><stop offset="0.643" stop-color="#1883ca"/><stop offset="0.679" stop-color="#1883ca"/><stop offset="0.714" stop-color="#1883ca"/><stop offset="0.750" stop-color="#1884ca"/><stop offset="0.786" stop-color="#1884ca"/><stop offset="0.821" stop-color="#1883ca"/><stop offset="0.857" stop-color="#1883ca"/><stop offset="0.893" stop-color="#1883ca"/><stop offset="0.929" stop-color="#1883c9"/><stop offset="0.964" stop-color="#1883c9"/><stop offset="1.000" stop-color="#1882c9"/></linearGradient><linearGradient id="e0_30" gradientUnits="userSpaceOnUse" x1="381.8" x2="547.9" y1="0" y2="0"><stop offset="0.000" stop-color="#1779c2"/><stop offset="0.036" stop-color="#1779c2"/><stop offset="0.071" stop-color="#1779c2"/><stop offset="0.107" stop-color="#1779c2"/><stop offset="0.143" stop-color="#177ac2"/><stop offset="0.179" stop-color="#177ac3"/><stop offset="0.214" stop-color="#177ac3"/><stop offset="0.250" stop-color="#177ac3"/><stop offset="0.286" stop-color="#177bc3"/><stop offset="0.321" stop-color="#177bc3"/><stop offset="0.357" stop-color="#177bc3"/><stop offset="0.393" stop-color="#177bc3"/><stop offset="0.429" stop-color="#177bc3"/><stop offset="0.464" stop-color="#177bc3"/><stop offset="0.500" stop-color="#177bc3"/><stop offset="0.536" stop-color="#177bc3"/><stop offset="0.571" stop-color="#177bc3"/><stop offset="0.607" stop-color="#177bc3"/><stop offset="0.643" stop-color="#177bc3"/><stop offset="0.679" stop-color="#177bc3"/><stop offset="0.714" stop-color="#177bc3"/><stop offset="0.750" stop-color="#177bc3"/><stop offset="0.786" stop-color="#177bc3"/><stop offset="0.821" stop-color="#177bc3"/><stop offset="0.857" stop-color="#177bc3"/><stop offset="0.893" stop-color="#177bc3"/><stop offset="0.929" stop-color="#177ac3"/><stop offset="0.964" stop-color="#177ac3"/><stop offset="1.000" stop-color="#177ac3"/></linearGradient><linearGradient id="e0_31" gradientUnits="userSpaceOnUse" x1="381.8" x2="547.9" y1="0" y2="0"><stop offset="0.000" stop-color="#177ac3"/><stop offset="0.036" stop-color="#177ac3"/><stop offset="0.071" stop-color="#177ac3"/><stop offset="0.107" stop-color="#177ac3"/><stop offset="0.143" stop-color="#177ac3"/><stop offset="0.179" stop-color="#177bc3"/><stop offset="0.214" stop-color="#177bc3"/><stop offset="0.250" stop-color="#177bc3"/><stop offset="0.286" stop-color="#177bc3"/><stop offset="0.321" stop-color="#177bc3"/><stop offset="0.357" stop-color="#177bc3"/><stop offset="0.393" stop-color="#177bc3"/><stop offset="0.429" stop-color="#177bc3"/><stop offset="0.464" stop-color="#177bc3"/><stop offset="0.500" stop-color="#177bc3"/><stop offset="0.536" stop-color="#177bc3"/><stop offset="0.571" stop-color="#177bc3"/><stop offset="0.607" stop-color="#177bc3"/><stop offset="0.643" stop-color="#177bc3"/><stop offset="0.679" stop-color="#177bc3"/><stop offset="0.714" stop-color="#177bc3"/><stop offset="0.750" stop-color="#177bc3"/><stop offset="0.786" stop-color="#177bc3"/><stop offset="0.821" stop-color="#177bc3"/><stop offset="0.857" stop-color="#177bc3"/><stop offset="0.893" stop-color="#177bc3"/><stop offset="0.929" stop-color="#177bc3"/><stop offset="0.964" stop-color="#177bc3"/><stop offset="1.000" stop-color="#177bc3"/></linearGradient><linearGradient id="e0_32" gradientUnits="userSpaceOnUse" x1="381.8" x2="547.9" y1="0" y2="0"><stop offset="0.000" stop-color="#177bc4"/><stop offset="0.036" stop-color="#177bc4"/><stop offset="0.071" stop-color="#177bc4"/><stop offset="0.107" stop-color="#177bc4"/><stop offset="0.143" stop-color="#187cc4"/><stop offset="0.179" stop-color="#187cc4"/><stop offset="0.214" stop-color="#187cc4"/><stop offset="0.250" stop-color="#187cc4"/><stop offset="0.286" stop-color="#187cc4"/><stop offset="0.321" stop-color="#187cc4"/><stop offset="0.357" stop-color="#187cc4"/><stop offset="0.393" stop-color="#187cc4"/><stop offset="0.429" stop-color="#187cc4"/><stop offset="0.464" stop-color="#187cc4"/><stop offset="0.500" stop-color="#187cc4"/><stop offset="0.536" stop-color="#187cc4"/><stop offset="0.571" stop-color="#187cc4"/><stop offset="0.607" stop-color="#187cc4"/><stop offset="0.643" stop-color="#187cc4"/><stop offset="0.679" stop-color="#187cc4"/><stop offset="0.714" stop-color="#187cc4"/><stop offset="0.750" stop-color="#187cc4"/><stop offset="0.786" stop-color="#187cc4"/><stop offset="0.821" stop-color="#187cc4"/><stop offset="0.857" stop-color="#187cc4"/><stop offset="0.893" stop-color="#187cc4"/><stop offset="0.929" stop-color="#187cc4"/><stop offset="0.964" stop-color="#187cc4"/><stop offset="1.000" stop-color="#187cc4"/></linearGradient><linearGradient id="e0_33" gradientUnits="userSpaceOnUse" x1="381.8" x2="547.9" y1="0" y2="0"><stop offset="0.000" stop-color="#1673bd"/><stop offset="0.036" stop-color="#1673bd"/><stop offset="0.071" stop-color="#1673bd"/><stop offset="0.107" stop-color="#1673bd"/><stop offset="0.143" stop-color="#1673bd"/><stop offset="0.179" stop-color="#1673bd"/><stop offset="0.214" stop-color="#1673bd"/><stop offset="0.250" stop-color="#1674bd"/><stop offset="0.286" stop-color="#1674bd"/><stop offset="0.321" stop-color="#1674bd"/><stop offset="0.357" stop-color="#1674bd"/><stop offset="0.393" stop-color="#1674bd"/><stop offset="0.429" stop-color="#1674bd"/><stop offset="0.464" stop-color="#1674bd"/><stop offset="0.500" stop-color="#1674bd"/><stop offset="0.536" stop-color="#1674bd"/><stop offset="0.571" stop-color="#1674bd"/><stop offset="0.607" stop-color="#1673bd"/><stop offset="0.643" stop-color="#1673bd"/><stop offset="0.679" stop-color="#1673bd"/><stop offset="0.714" stop-color="#1673bd"/><stop offset="0.750" stop-color="#1673bd"/><stop offset="0.786" stop-color="#1673bd"/><stop offset="0.821" stop-color="#1673bd"/><stop offset="0.857" stop-color="#1673bd"/><stop offset="0.893" stop-color="#1673bd"/><stop offset="0.929" stop-color="#1673bd"/><stop offset="0.964" stop-color="#1673bd"/><stop offset="1.000" stop-color="#1673bd"/></linearGradient><linearGradient id="e0_34" gradientUnits="userSpaceOnUse" x1="381.8" x2="547.9" y1="0" y2="0"><stop offset="0.000" stop-color="#1468b3"/><stop offset="0.036" stop-color="#1468b3"/><stop offset="0.071" stop-color="#1468b3"/><stop offset="0.107" stop-color="#1468b3"/><stop offset="0.143" stop-color="#1468b3"/><stop offset="0.179" stop-color="#1468b3"/><stop offset="0.214" stop-color="#1469b3"/><stop offset="0.250" stop-color="#1469b3"/><stop offset="0.286" stop-color="#1469b3"/><stop offset="0.321" stop-color="#1469b3"/><stop offset="0.357" stop-color="#1469b3"/><stop offset="0.393" stop-color="#1469b3"/><stop offset="0.429" stop-color="#1469b3"/><stop offset="0.464" stop-color="#1469b3"/><stop offset="0.500" stop-color="#1469b3"/><stop offset="0.536" stop-color="#1469b3"/><stop offset="0.571" stop-color="#1469b3"/><stop offset="0.607" stop-color="#1468b3"/><stop offset="0.643" stop-color="#1468b3"/><stop offset="0.679" stop-color="#1468b3"/><stop offset="0.714" stop-color="#1468b3"/><stop offset="0.750" stop-color="#1468b3"/><stop offset="0.786" stop-color="#1468b3"/><stop offset="0.821" stop-color="#1468b3"/><stop offset="0.857" stop-color="#1468b3"/><stop offset="0.893" stop-color="#1468b3"/><stop offset="0.929" stop-color="#1468b3"/><stop offset="0.964" stop-color="#1468b3"/><stop offset="1.000" stop-color="#1468b3"/></linearGradient><linearGradient id="e0_35" gradientUnits="userSpaceOnUse" x1="381.8" x2="547.9" y1="0" y2="0"><stop offset="0.000" stop-color="#1366b1"/><stop offset="0.036" stop-color="#1366b1"/><stop offset="0.071" stop-color="#1366b1"/><stop offset="0.107" stop-color="#1366b1"/><stop offset="0.143" stop-color="#1366b1"/><stop offset="0.179" stop-color="#1366b2"/><stop offset="0.214" stop-color="#1366b2"/><stop offset="0.250" stop-color="#1366b2"/><stop offset="0.286" stop-color="#1367b2"/><stop offset="0.321" stop-color="#1367b2"/><stop offset="0.357" stop-color="#1367b2"/><stop offset="0.393" stop-color="#1366b2"/><stop offset="0.429" stop-color="#1366b2"/><stop offset="0.464" stop-color="#1366b2"/><stop offset="0.500" stop-color="#1366b2"/><stop offset="0.536" stop-color="#1366b2"/><stop offset="0.571" stop-color="#1366b2"/><stop offset="0.607" stop-color="#1366b2"/><stop offset="0.643" stop-color="#1366b2"/><stop offset="0.679" stop-color="#1366b2"/><stop offset="0.714" stop-color="#1366b2"/><stop offset="0.750" stop-color="#1366b2"/><stop offset="0.786" stop-color="#1366b2"/><stop offset="0.821" stop-color="#1366b2"/><stop offset="0.857" stop-color="#1366b2"/><stop offset="0.893" stop-color="#1366b2"/><stop offset="0.929" stop-color="#1366b2"/><stop offset="0.964" stop-color="#1366b2"/><stop offset="1.000" stop-color="#1366b1"/></linearGradient><linearGradient id="e0_36" gradientUnits="userSpaceOnUse" x1="381.8" x2="547.9" y1="0" y2="0"><stop offset="0.000" stop-color="#1469b4"/><stop offset="0.036" stop-color="#1469b4"/><stop offset="0.071" stop-color="#1469b4"/><stop offset="0.107" stop-color="#1469b4"/><stop offset="0.143" stop-color="#1469b4"/><stop offset="0.179" stop-color="#1469b4"/><stop offset="0.214" stop-color="#1469b4"/><stop offset="0.250" stop-color="#1469b4"/><stop offset="0.286" stop-color="#1469b4"/><stop offset="0.321" stop-color="#1469b4"/><stop offset="0.357" stop-color="#1469b4"/><stop offset="0.393" stop-color="#1469b4"/><stop offset="0.429" stop-color="#1469b4"/><stop offset="0.464" stop-color="#1469b4"/><stop offset="0.500" stop-color="#1469b4"/><stop offset="0.536" stop-color="#1469b4"/><stop offset="0.571" stop-color="#1469b4"/><stop offset="0.607" stop-color="#1469b4"/><stop offset="0.643" stop-color="#1469b4"/><stop offset="0.679" stop-color="#1469b4"/><stop offset="0.714" stop-color="#1469b4"/><stop offset="0.750" stop-color="#1469b4"/><stop offset="0.786" stop-color="#1469b4"/><stop offset="0.821" stop-color="#1469b4"/><stop offset="0.857" stop-color="#1469b4"/><stop offset="0.893" stop-color="#1469b4"/><stop offset="0.929" stop-color="#1469b4"/><stop offset="0.964" stop-color="#1469b4"/><stop offset="1.000" stop-color="#1469b4"/></linearGradient><linearGradient id="e0_37" gradientUnits="userSpaceOnUse" x1="381.8" x2="547.9" y1="0" y2="0"><stop offset="0.000" stop-color="#1364af"/><stop offset="0.036" stop-color="#1364af"/><stop offset="0.071" stop-color="#1364af"/><stop offset="0.107" stop-color="#1364af"/><stop offset="0.143" stop-color="#1364af"/><stop offset="0.179" stop-color="#1364af"/><stop offset="0.214" stop-color="#1364af"/><stop offset="0.250" stop-color="#1364af"/><stop offset="0.286" stop-color="#1364af"/><stop offset="0.321" stop-color="#1364af"/><stop offset="0.357" stop-color="#1364af"/><stop offset="0.393" stop-color="#1364af"/><stop offset="0.429" stop-color="#1364af"/><stop offset="0.464" stop-color="#1364af"/><stop offset="0.500" stop-color="#1364af"/><stop offset="0.536" stop-color="#1364af"/><stop offset="0.571" stop-color="#1364af"/><stop offset="0.607" stop-color="#1364af"/><stop offset="0.643" stop-color="#1364af"/><stop offset="0.679" stop-color="#1364af"/><stop offset="0.714" stop-color="#1364af"/><stop offset="0.750" stop-color="#1364af"/><stop offset="0.786" stop-color="#1364af"/><stop offset="0.821" stop-color="#1364af"/><stop offset="0.857" stop-color="#1364af"/><stop offset="0.893" stop-color="#1364af"/><stop offset="0.929" stop-color="#1364af"/><stop offset="0.964" stop-color="#1364af"/><stop offset="1.000" stop-color="#1364af"/></linearGradient><linearGradient id="e0_38" gradientUnits="userSpaceOnUse" x1="381.8" x2="547.9" y1="0" y2="0"><stop offset="0.000" stop-color="#115ba7"/><stop offset="0.036" stop-color="#115ba7"/><stop offset="0.071" stop-color="#115ba7"/><stop offset="0.107" stop-color="#115ba7"/><stop offset="0.143" stop-color="#115ba7"/><stop offset="0.179" stop-color="#115ba7"/><stop offset="0.214" stop-color="#115ba7"/><stop offset="0.250" stop-color="#115ba7"/><stop offset="0.286" stop-color="#115ba7"/><stop offset="0.321" stop-color="#115ba7"/><stop offset="0.357" stop-color="#115ba7"/><stop offset="0.393" stop-color="#115ba7"/><stop offset="0.429" stop-color="#115ba7"/><stop offset="0.464" stop-color="#115ba7"/><stop offset="0.500" stop-color="#115ba7"/><stop offset="0.536" stop-color="#115ba7"/><stop offset="0.571" stop-color="#115ba7"/><stop offset="0.607" stop-color="#115ba7"/><stop offset="0.643" stop-color="#115ba7"/><stop offset="0.679" stop-color="#115ba7"/><stop offset="0.714" stop-color="#115ba7"/><stop offset="0.750" stop-color="#115ba7"/><stop offset="0.786" stop-color="#115ba7"/><stop offset="0.821" stop-color="#115ba7"/><stop offset="0.857" stop-color="#115ba7"/><stop offset="0.893" stop-color="#115ba7"/><stop offset="0.929" stop-color="#115ba7"/><stop offset="0.964" stop-color="#115ba7"/><stop offset="1.000" stop-color="#115ba7"/></linearGradient><clipPath id="ec1"><rect x="387.0" y="97.7" width="155.70" height="71.9"/></clipPath><linearGradient id="e1_0" gradientUnits="userSpaceOnUse" x1="381.8" x2="547.9" y1="0" y2="0"><stop offset="0.000" stop-color="#1883ca"/><stop offset="0.036" stop-color="#1883ca"/><stop offset="0.071" stop-color="#1885cb"/><stop offset="0.107" stop-color="#1987cd"/><stop offset="0.143" stop-color="#198bcf"/><stop offset="0.179" stop-color="#198ed2"/><stop offset="0.214" stop-color="#1993d5"/><stop offset="0.250" stop-color="#1a97d8"/><stop offset="0.286" stop-color="#1a9ada"/><stop offset="0.321" stop-color="#1a9ada"/><stop offset="0.357" stop-color="#1a98d9"/><stop offset="0.393" stop-color="#1a95d6"/><stop offset="0.429" stop-color="#1991d4"/><stop offset="0.464" stop-color="#198fd2"/><stop offset="0.500" stop-color="#198dd1"/><stop offset="0.536" stop-color="#198cd0"/><stop offset="0.571" stop-color="#198bcf"/><stop offset="0.607" stop-color="#198ace"/><stop offset="0.643" stop-color="#1989ce"/><stop offset="0.679" stop-color="#1988cd"/><stop offset="0.714" stop-color="#1987cc"/><stop offset="0.750" stop-color="#1986cc"/><stop offset="0.786" stop-color="#1986cc"/><stop offset="0.821" stop-color="#1985cb"/><stop offset="0.857" stop-color="#1985cb"/><stop offset="0.893" stop-color="#1885cb"/><stop offset="0.929" stop-color="#1885cb"/><stop offset="0.964" stop-color="#1885cb"/><stop offset="1.000" stop-color="#1885cb"/></linearGradient><linearGradient id="e1_1" gradientUnits="userSpaceOnUse" x1="381.8" x2="547.9" y1="0" y2="0"><stop offset="0.000" stop-color="#1987cc"/><stop offset="0.036" stop-color="#1986cc"/><stop offset="0.071" stop-color="#1988cd"/><stop offset="0.107" stop-color="#198cd0"/><stop offset="0.143" stop-color="#1992d4"/><stop offset="0.179" stop-color="#1a99d9"/><stop offset="0.214" stop-color="#18a7df"/><stop offset="0.250" stop-color="#15b4e5"/><stop offset="0.286" stop-color="#13bce9"/><stop offset="0.321" stop-color="#13bee9"/><stop offset="0.357" stop-color="#14b8e7"/><stop offset="0.393" stop-color="#16ade2"/><stop offset="0.429" stop-color="#19a1dd"/><stop offset="0.464" stop-color="#1a99d9"/><stop offset="0.500" stop-color="#1a96d7"/><stop offset="0.536" stop-color="#1a95d6"/><stop offset="0.571" stop-color="#1a93d5"/><stop offset="0.607" stop-color="#1992d4"/><stop offset="0.643" stop-color="#1991d3"/><stop offset="0.679" stop-color="#1990d3"/><stop offset="0.714" stop-color="#198fd2"/><stop offset="0.750" stop-color="#198ed2"/><stop offset="0.786" stop-color="#198ed1"/><stop offset="0.821" stop-color="#198dd1"/><stop offset="0.857" stop-color="#198dd1"/><stop offset="0.893" stop-color="#198dd1"/><stop offset="0.929" stop-color="#198dd1"/><stop offset="0.964" stop-color="#198dd1"/><stop offset="1.000" stop-color="#198dd0"/></linearGradient><linearGradient id="e1_2" gradientUnits="userSpaceOnUse" x1="381.8" x2="547.9" y1="0" y2="0"><stop offset="0.000" stop-color="#1986cc"/><stop offset="0.036" stop-color="#1885cb"/><stop offset="0.071" stop-color="#1987cc"/><stop offset="0.107" stop-color="#198dd0"/><stop offset="0.143" stop-color="#1a96d7"/><stop offset="0.179" stop-color="#17a8e0"/><stop offset="0.214" stop-color="#13c0ea"/><stop offset="0.250" stop-color="#12cded"/><stop offset="0.286" stop-color="#12d4ee"/><stop offset="0.321" stop-color="#12d5ee"/><stop offset="0.357" stop-color="#12d1ee"/><stop offset="0.393" stop-color="#12c7ec"/><stop offset="0.429" stop-color="#15b7e6"/><stop offset="0.464" stop-color="#18a7df"/><stop offset="0.500" stop-color="#199edc"/><stop offset="0.536" stop-color="#1a9ada"/><stop offset="0.571" stop-color="#1a98d9"/><stop offset="0.607" stop-color="#1a97d8"/><stop offset="0.643" stop-color="#1a95d7"/><stop offset="0.679" stop-color="#1a94d6"/><stop offset="0.714" stop-color="#1a93d5"/><stop offset="0.750" stop-color="#1993d5"/><stop offset="0.786" stop-color="#1992d4"/><stop offset="0.821" stop-color="#1992d4"/><stop offset="0.857" stop-color="#1991d4"/><stop offset="0.893" stop-color="#1991d4"/><stop offset="0.929" stop-color="#1991d4"/><stop offset="0.964" stop-color="#1991d4"/><stop offset="1.000" stop-color="#1991d4"/></linearGradient><linearGradient id="e1_3" gradientUnits="userSpaceOnUse" x1="381.8" x2="547.9" y1="0" y2="0"><stop offset="0.000" stop-color="#177bc3"/><stop offset="0.036" stop-color="#177ac2"/><stop offset="0.071" stop-color="#177bc4"/><stop offset="0.107" stop-color="#1882c9"/><stop offset="0.143" stop-color="#1990d3"/><stop offset="0.179" stop-color="#17a9e0"/><stop offset="0.214" stop-color="#12c6ec"/><stop offset="0.250" stop-color="#12d4ee"/><stop offset="0.286" stop-color="#12daef"/><stop offset="0.321" stop-color="#12dbef"/><stop offset="0.357" stop-color="#12d7ee"/><stop offset="0.393" stop-color="#12ceed"/><stop offset="0.429" stop-color="#14bce9"/><stop offset="0.464" stop-color="#18a5df"/><stop offset="0.500" stop-color="#1a97d8"/><stop offset="0.536" stop-color="#1a94d5"/><stop offset="0.571" stop-color="#1992d4"/><stop offset="0.607" stop-color="#1990d3"/><stop offset="0.643" stop-color="#198fd2"/><stop offset="0.679" stop-color="#198ed1"/><stop offset="0.714" stop-color="#198dd0"/><stop offset="0.750" stop-color="#198cd0"/><stop offset="0.786" stop-color="#198bcf"/><stop offset="0.821" stop-color="#198bcf"/><stop offset="0.857" stop-color="#198acf"/><stop offset="0.893" stop-color="#198acf"/><stop offset="0.929" stop-color="#198acf"/><stop offset="0.964" stop-color="#198acf"/><stop offset="1.000" stop-color="#198acf"/></linearGradient><linearGradient id="e1_4" gradientUnits="userSpaceOnUse" x1="381.8" x2="547.9" y1="0" y2="0"><stop offset="0.000" stop-color="#1778c1"/><stop offset="0.036" stop-color="#1676bf"/><stop offset="0.071" stop-color="#1778c1"/><stop offset="0.107" stop-color="#1881c8"/><stop offset="0.143" stop-color="#1a93d5"/><stop offset="0.179" stop-color="#15b6e6"/><stop offset="0.214" stop-color="#12d1ee"/><stop offset="0.250" stop-color="#12deef"/><stop offset="0.286" stop-color="#12e4f0"/><stop offset="0.321" stop-color="#12e3ef"/><stop offset="0.357" stop-color="#12e1f0"/><stop offset="0.393" stop-color="#12d9ef"/><stop offset="0.429" stop-color="#12caed"/><stop offset="0.464" stop-color="#16b1e4"/><stop offset="0.500" stop-color="#1a9ada"/><stop offset="0.536" stop-color="#1a94d6"/><stop offset="0.571" stop-color="#1992d4"/><stop offset="0.607" stop-color="#1990d3"/><stop offset="0.643" stop-color="#198fd2"/><stop offset="0.679" stop-color="#198ed1"/><stop offset="0.714" stop-color="#198dd0"/><stop offset="0.750" stop-color="#198cd0"/><stop offset="0.786" stop-color="#198bcf"/><stop offset="0.821" stop-color="#198bcf"/><stop offset="0.857" stop-color="#198acf"/><stop offset="0.893" stop-color="#198acf"/><stop offset="0.929" stop-color="#198ace"/><stop offset="0.964" stop-color="#198ace"/><stop offset="1.000" stop-color="#198ace"/></linearGradient><linearGradient id="e1_5" gradientUnits="userSpaceOnUse" x1="381.8" x2="547.9" y1="0" y2="0"><stop offset="0.000" stop-color="#1779c2"/><stop offset="0.036" stop-color="#1777c0"/><stop offset="0.071" stop-color="#1779c2"/><stop offset="0.107" stop-color="#1884ca"/><stop offset="0.143" stop-color="#1a9bda"/><stop offset="0.179" stop-color="#12c6ec"/><stop offset="0.214" stop-color="#12dcef"/><stop offset="0.250" stop-color="#12e0e8"/><stop offset="0.286" stop-color="#12d9db"/><stop offset="0.321" stop-color="#11d8d9"/><stop offset="0.357" stop-color="#12dbdf"/><stop offset="0.393" stop-color="#12e3f0"/><stop offset="0.429" stop-color="#12d6ee"/><stop offset="0.464" stop-color="#13c1eb"/><stop offset="0.500" stop-color="#18a4de"/><stop offset="0.536" stop-color="#1a98d8"/><stop offset="0.571" stop-color="#1a95d6"/><stop offset="0.607" stop-color="#1993d5"/><stop offset="0.643" stop-color="#1991d4"/><stop offset="0.679" stop-color="#1990d3"/><stop offset="0.714" stop-color="#198fd2"/><stop offset="0.750" stop-color="#198ed1"/><stop offset="0.786" stop-color="#198dd1"/><stop offset="0.821" stop-color="#198dd1"/><stop offset="0.857" stop-color="#198cd0"/><stop offset="0.893" stop-color="#198cd0"/><stop offset="0.929" stop-color="#198cd0"/><stop offset="0.964" stop-color="#198cd0"/><stop offset="1.000" stop-color="#198cd0"/></linearGradient><linearGradient id="e1_6" gradientUnits="userSpaceOnUse" x1="381.8" x2="547.9" y1="0" y2="0"><stop offset="0.000" stop-color="#187cc4"/><stop offset="0.036" stop-color="#177ac3"/><stop offset="0.071" stop-color="#187dc5"/><stop offset="0.107" stop-color="#198bcf"/><stop offset="0.143" stop-color="#17aae1"/><stop offset="0.179" stop-color="#12d0ee"/><stop offset="0.214" stop-color="#12e4f0"/><stop offset="0.250" stop-color="#11d6d6"/><stop offset="0.286" stop-color="#11d1cc"/><stop offset="0.321" stop-color="#11d0cb"/><stop offset="0.357" stop-color="#11d2ce"/><stop offset="0.393" stop-color="#12dadc"/><stop offset="0.429" stop-color="#12dfef"/><stop offset="0.464" stop-color="#12cbed"/><stop offset="0.500" stop-color="#16aee3"/><stop offset="0.536" stop-color="#1a9cdb"/><stop offset="0.571" stop-color="#1a97d8"/><stop offset="0.607" stop-color="#1a96d7"/><stop offset="0.643" stop-color="#1a94d6"/><stop offset="0.679" stop-color="#1993d5"/><stop offset="0.714" stop-color="#1991d4"/><stop offset="0.750" stop-color="#1990d3"/><stop offset="0.786" stop-color="#1990d3"/><stop offset="0.821" stop-color="#198fd2"/><stop offset="0.857" stop-color="#198fd2"/><stop offset="0.893" stop-color="#198fd2"/><stop offset="0.929" stop-color="#198ed2"/><stop offset="0.964" stop-color="#198ed2"/><stop offset="1.000" stop-color="#198ed2"/></linearGradient><linearGradient id="e1_7" gradientUnits="userSpaceOnUse" x1="381.8" x2="547.9" y1="0" y2="0"><stop offset="0.000" stop-color="#1882c9"/><stop offset="0.036" stop-color="#1881c8"/><stop offset="0.071" stop-color="#1885cb"/><stop offset="0.107" stop-color="#1993d5"/><stop offset="0.143" stop-color="#14b8e7"/><stop offset="0.179" stop-color="#12d8ef"/><stop offset="0.214" stop-color="#12dbdf"/><stop offset="0.250" stop-color="#11cfc8"/><stop offset="0.286" stop-color="#11ccc1"/><stop offset="0.321" stop-color="#11cbc0"/><stop offset="0.357" stop-color="#11ccc3"/><stop offset="0.393" stop-color="#11d2cd"/><stop offset="0.429" stop-color="#12e2ed"/><stop offset="0.464" stop-color="#12d1ee"/><stop offset="0.500" stop-color="#15b6e6"/><stop offset="0.536" stop-color="#19a1dd"/><stop offset="0.571" stop-color="#1a9ada"/><stop offset="0.607" stop-color="#1a98d9"/><stop offset="0.643" stop-color="#1a96d7"/><stop offset="0.679" stop-color="#1a95d6"/><stop offset="0.714" stop-color="#1a94d6"/><stop offset="0.750" stop-color="#1993d5"/><stop offset="0.786" stop-color="#1992d4"/><stop offset="0.821" stop-color="#1992d4"/><stop offset="0.857" stop-color="#1991d4"/><stop offset="0.893" stop-color="#1991d4"/><stop offset="0.929" stop-color="#1991d3"/><stop offset="0.964" stop-color="#1991d3"/><stop offset="1.000" stop-color="#1991d3"/></linearGradient><linearGradient id="e1_8" gradientUnits="userSpaceOnUse" x1="381.8" x2="547.9" y1="0" y2="0"><stop offset="0.000" stop-color="#198acf"/><stop offset="0.036" stop-color="#1989ce"/><stop offset="0.071" stop-color="#198dd1"/><stop offset="0.107" stop-color="#1a9bda"/><stop offset="0.143" stop-color="#12c4ec"/><stop offset="0.179" stop-color="#12deef"/><stop offset="0.214" stop-color="#11d4d2"/><stop offset="0.250" stop-color="#11cabf"/><stop offset="0.286" stop-color="#11c7b9"/><stop offset="0.321" stop-color="#11c7b8"/><stop offset="0.357" stop-color="#11c8ba"/><stop offset="0.393" stop-color="#11cdc4"/><stop offset="0.429" stop-color="#12dde2"/><stop offset="0.464" stop-color="#12d5ee"/><stop offset="0.500" stop-color="#14bce8"/><stop offset="0.536" stop-color="#18a6df"/><stop offset="0.571" stop-color="#199edc"/><stop offset="0.607" stop-color="#1a9ada"/><stop offset="0.643" stop-color="#1a99d9"/><stop offset="0.679" stop-color="#1a97d8"/><stop offset="0.714" stop-color="#1a96d7"/><stop offset="0.750" stop-color="#1a95d6"/><stop offset="0.786" stop-color="#1a94d6"/><stop offset="0.821" stop-color="#1a94d6"/><stop offset="0.857" stop-color="#1a93d5"/><stop offset="0.893" stop-color="#1a93d5"/><stop offset="0.929" stop-color="#1993d5"/><stop offset="0.964" stop-color="#1993d5"/><stop offset="1.000" stop-color="#1993d5"/></linearGradient><linearGradient id="e1_9" gradientUnits="userSpaceOnUse" x1="381.8" x2="547.9" y1="0" y2="0"><stop offset="0.000" stop-color="#1991d4"/><stop offset="0.036" stop-color="#1991d4"/><stop offset="0.071" stop-color="#1a95d6"/><stop offset="0.107" stop-color="#18a5df"/><stop offset="0.143" stop-color="#12c8ed"/><stop offset="0.179" stop-color="#12e1f0"/><stop offset="0.214" stop-color="#11d1cb"/><stop offset="0.250" stop-color="#11c7b9"/><stop offset="0.286" stop-color="#11c4b3"/><stop offset="0.321" stop-color="#11c4b3"/><stop offset="0.357" stop-color="#11c5b5"/><stop offset="0.393" stop-color="#11cbc0"/><stop offset="0.429" stop-color="#12dbdf"/><stop offset="0.464" stop-color="#12d6ee"/><stop offset="0.500" stop-color="#13bde9"/><stop offset="0.536" stop-color="#17a8e0"/><stop offset="0.571" stop-color="#19a1dd"/><stop offset="0.607" stop-color="#199ddb"/><stop offset="0.643" stop-color="#1a9bda"/><stop offset="0.679" stop-color="#1a99d9"/><stop offset="0.714" stop-color="#1a98d8"/><stop offset="0.750" stop-color="#1a97d8"/><stop offset="0.786" stop-color="#1a96d7"/><stop offset="0.821" stop-color="#1a96d7"/><stop offset="0.857" stop-color="#1a95d7"/><stop offset="0.893" stop-color="#1a95d6"/><stop offset="0.929" stop-color="#1a95d6"/><stop offset="0.964" stop-color="#1a95d6"/><stop offset="1.000" stop-color="#1a94d6"/></linearGradient><linearGradient id="e1_10" gradientUnits="userSpaceOnUse" x1="381.8" x2="547.9" y1="0" y2="0"><stop offset="0.000" stop-color="#1a97d8"/><stop offset="0.036" stop-color="#1a97d8"/><stop offset="0.071" stop-color="#1a9bda"/><stop offset="0.107" stop-color="#17abe1"/><stop offset="0.143" stop-color="#12c9ed"/><stop offset="0.179" stop-color="#12e1f0"/><stop offset="0.214" stop-color="#11d1cc"/><stop offset="0.250" stop-color="#11c7b8"/><stop offset="0.286" stop-color="#11c3b1"/><stop offset="0.321" stop-color="#11c3b0"/><stop offset="0.357" stop-color="#11c5b4"/><stop offset="0.393" stop-color="#11ccc2"/><stop offset="0.429" stop-color="#12dee5"/><stop offset="0.464" stop-color="#12d4ee"/><stop offset="0.500" stop-color="#14bce8"/><stop offset="0.536" stop-color="#17a9e0"/><stop offset="0.571" stop-color="#18a3de"/><stop offset="0.607" stop-color="#199fdc"/><stop offset="0.643" stop-color="#1a9ddb"/><stop offset="0.679" stop-color="#1a9ada"/><stop offset="0.714" stop-color="#1a99d9"/><stop offset="0.750" stop-color="#1a98d9"/><stop offset="0.786" stop-color="#1a97d8"/><stop offset="0.821" stop-color="#1a97d8"/><stop offset="0.857" stop-color="#1a96d7"/><stop offset="0.893" stop-color="#1a96d7"/><stop offset="0.929" stop-color="#1a96d7"/><stop offset="0.964" stop-color="#1a96d7"/><stop offset="1.000" stop-color="#1a96d7"/></linearGradient><linearGradient id="e1_11" gradientUnits="userSpaceOnUse" x1="381.8" x2="547.9" y1="0" y2="0"><stop offset="0.000" stop-color="#1a9ada"/><stop offset="0.036" stop-color="#1a9cdb"/><stop offset="0.071" stop-color="#19a0dd"/><stop offset="0.107" stop-color="#17ace2"/><stop offset="0.143" stop-color="#12c6ec"/><stop offset="0.179" stop-color="#12dcef"/><stop offset="0.214" stop-color="#11d7d8"/><stop offset="0.250" stop-color="#11cabf"/><stop offset="0.286" stop-color="#11c6b6"/><stop offset="0.321" stop-color="#11c5b5"/><stop offset="0.357" stop-color="#11c8bb"/><stop offset="0.393" stop-color="#11d2ce"/><stop offset="0.429" stop-color="#12e2f0"/><stop offset="0.464" stop-color="#12ceed"/><stop offset="0.500" stop-color="#15b7e6"/><stop offset="0.536" stop-color="#17a8e0"/><stop offset="0.571" stop-color="#18a3de"/><stop offset="0.607" stop-color="#19a0dd"/><stop offset="0.643" stop-color="#199ddb"/><stop offset="0.679" stop-color="#1a9bda"/><stop offset="0.714" stop-color="#1a99da"/><stop offset="0.750" stop-color="#1a98d9"/><stop offset="0.786" stop-color="#1a98d8"/><stop offset="0.821" stop-color="#1a97d8"/><stop offset="0.857" stop-color="#1a97d8"/><stop offset="0.893" stop-color="#1a97d8"/><stop offset="0.929" stop-color="#1a96d7"/><stop offset="0.964" stop-color="#1a96d7"/><stop offset="1.000" stop-color="#1a96d7"/></linearGradient><linearGradient id="e1_12" gradientUnits="userSpaceOnUse" x1="381.8" x2="547.9" y1="0" y2="0"><stop offset="0.000" stop-color="#1a9cdb"/><stop offset="0.036" stop-color="#199edc"/><stop offset="0.071" stop-color="#19a2dd"/><stop offset="0.107" stop-color="#17aae1"/><stop offset="0.143" stop-color="#13bee9"/><stop offset="0.179" stop-color="#12d3ee"/><stop offset="0.214" stop-color="#12e4f0"/><stop offset="0.250" stop-color="#11d4d2"/><stop offset="0.286" stop-color="#11cdc5"/><stop offset="0.321" stop-color="#11ccc3"/><stop offset="0.357" stop-color="#11d1cc"/><stop offset="0.393" stop-color="#12dee5"/><stop offset="0.429" stop-color="#12d9ef"/><stop offset="0.464" stop-color="#12c6ec"/><stop offset="0.500" stop-color="#16b0e4"/><stop offset="0.536" stop-color="#18a6df"/><stop offset="0.571" stop-color="#18a2dd"/><stop offset="0.607" stop-color="#199fdc"/><stop offset="0.643" stop-color="#1a9cdb"/><stop offset="0.679" stop-color="#1a9ada"/><stop offset="0.714" stop-color="#1a99d9"/><stop offset="0.750" stop-color="#1a98d9"/><stop offset="0.786" stop-color="#1a97d8"/><stop offset="0.821" stop-color="#1a97d8"/><stop offset="0.857" stop-color="#1a97d8"/><stop offset="0.893" stop-color="#1a96d7"/><stop offset="0.929" stop-color="#1a96d7"/><stop offset="0.964" stop-color="#1a96d7"/><stop offset="1.000" stop-color="#1a96d7"/></linearGradient><linearGradient id="e1_13" gradientUnits="userSpaceOnUse" x1="381.8" x2="547.9" y1="0" y2="0"><stop offset="0.000" stop-color="#1a9bdb"/><stop offset="0.036" stop-color="#199edc"/><stop offset="0.071" stop-color="#19a1dd"/><stop offset="0.107" stop-color="#18a7df"/><stop offset="0.143" stop-color="#15b4e5"/><stop offset="0.179" stop-color="#12c8ed"/><stop offset="0.214" stop-color="#12d8ee"/><stop offset="0.250" stop-color="#12e3f0"/><stop offset="0.286" stop-color="#12dce1"/><stop offset="0.321" stop-color="#12dbdf"/><stop offset="0.357" stop-color="#12e2eb"/><stop offset="0.393" stop-color="#12dcef"/><stop offset="0.429" stop-color="#12cced"/><stop offset="0.464" stop-color="#14b9e7"/><stop offset="0.500" stop-color="#17aae1"/><stop offset="0.536" stop-color="#18a3de"/><stop offset="0.571" stop-color="#19a0dc"/><stop offset="0.607" stop-color="#199ddb"/><stop offset="0.643" stop-color="#1a9ada"/><stop offset="0.679" stop-color="#1a99d9"/><stop offset="0.714" stop-color="#1a98d9"/><stop offset="0.750" stop-color="#1a97d8"/><stop offset="0.786" stop-color="#1a96d7"/><stop offset="0.821" stop-color="#1a96d7"/><stop offset="0.857" stop-color="#1a96d7"/><stop offset="0.893" stop-color="#1a95d7"/><stop offset="0.929" stop-color="#1a95d7"/><stop offset="0.964" stop-color="#1a95d7"/><stop offset="1.000" stop-color="#1a95d6"/></linearGradient><linearGradient id="e1_14" gradientUnits="userSpaceOnUse" x1="381.8" x2="547.9" y1="0" y2="0"><stop offset="0.000" stop-color="#1a9bda"/><stop offset="0.036" stop-color="#199ddb"/><stop offset="0.071" stop-color="#19a0dd"/><stop offset="0.107" stop-color="#18a4de"/><stop offset="0.143" stop-color="#17ace2"/><stop offset="0.179" stop-color="#14bae8"/><stop offset="0.214" stop-color="#12caed"/><stop offset="0.250" stop-color="#12d5ee"/><stop offset="0.286" stop-color="#12dbef"/><stop offset="0.321" stop-color="#12dcef"/><stop offset="0.357" stop-color="#12d7ee"/><stop offset="0.393" stop-color="#12ceed"/><stop offset="0.429" stop-color="#13bde9"/><stop offset="0.464" stop-color="#16ade2"/><stop offset="0.500" stop-color="#18a4de"/><stop offset="0.536" stop-color="#199fdc"/><stop offset="0.571" stop-color="#1a9cdb"/><stop offset="0.607" stop-color="#1a9ada"/><stop offset="0.643" stop-color="#1a99d9"/><stop offset="0.679" stop-color="#1a97d8"/><stop offset="0.714" stop-color="#1a96d7"/><stop offset="0.750" stop-color="#1a96d7"/><stop offset="0.786" stop-color="#1a95d6"/><stop offset="0.821" stop-color="#1a95d6"/><stop offset="0.857" stop-color="#1a94d6"/><stop offset="0.893" stop-color="#1a94d6"/><stop offset="0.929" stop-color="#1a94d6"/><stop offset="0.964" stop-color="#1a94d6"/><stop offset="1.000" stop-color="#1a94d5"/></linearGradient><linearGradient id="e1_15" gradientUnits="userSpaceOnUse" x1="381.8" x2="547.9" y1="0" y2="0"><stop offset="0.000" stop-color="#199ddb"/><stop offset="0.036" stop-color="#199fdc"/><stop offset="0.071" stop-color="#19a2dd"/><stop offset="0.107" stop-color="#18a5df"/><stop offset="0.143" stop-color="#17a9e0"/><stop offset="0.179" stop-color="#16b1e4"/><stop offset="0.214" stop-color="#13bde9"/><stop offset="0.250" stop-color="#12c8ec"/><stop offset="0.286" stop-color="#12cded"/><stop offset="0.321" stop-color="#12cded"/><stop offset="0.357" stop-color="#12caed"/><stop offset="0.393" stop-color="#12c2eb"/><stop offset="0.429" stop-color="#17ace2"/><stop offset="0.464" stop-color="#18a3de"/><stop offset="0.500" stop-color="#199fdc"/><stop offset="0.536" stop-color="#1a9cdb"/><stop offset="0.571" stop-color="#1a99da"/><stop offset="0.607" stop-color="#1a98d9"/><stop offset="0.643" stop-color="#1a97d8"/><stop offset="0.679" stop-color="#1a96d7"/><stop offset="0.714" stop-color="#1a95d6"/><stop offset="0.750" stop-color="#1a94d6"/><stop offset="0.786" stop-color="#1a93d5"/><stop offset="0.821" stop-color="#1993d5"/><stop offset="0.857" stop-color="#1993d5"/><stop offset="0.893" stop-color="#1992d5"/><stop offset="0.929" stop-color="#1992d4"/><stop offset="0.964" stop-color="#1992d4"/><stop offset="1.000" stop-color="#1992d4"/></linearGradient><linearGradient id="e1_16" gradientUnits="userSpaceOnUse" x1="381.8" x2="547.9" y1="0" y2="0"><stop offset="0.000" stop-color="#19a1dd"/><stop offset="0.036" stop-color="#18a3de"/><stop offset="0.071" stop-color="#18a6df"/><stop offset="0.107" stop-color="#17a9e0"/><stop offset="0.143" stop-color="#17ace2"/><stop offset="0.179" stop-color="#16b0e3"/><stop offset="0.214" stop-color="#15b6e6"/><stop offset="0.250" stop-color="#13bde9"/><stop offset="0.286" stop-color="#12c2eb"/><stop offset="0.321" stop-color="#12c3eb"/><stop offset="0.357" stop-color="#13bfea"/><stop offset="0.393" stop-color="#14b9e7"/><stop offset="0.429" stop-color="#19a1dd"/><stop offset="0.464" stop-color="#199ddb"/><stop offset="0.500" stop-color="#1a9ada"/><stop offset="0.536" stop-color="#1a99d9"/><stop offset="0.571" stop-color="#1a97d8"/><stop offset="0.607" stop-color="#1a96d7"/><stop offset="0.643" stop-color="#1a95d6"/><stop offset="0.679" stop-color="#1a94d6"/><stop offset="0.714" stop-color="#1993d5"/><stop offset="0.750" stop-color="#1992d4"/><stop offset="0.786" stop-color="#1992d4"/><stop offset="0.821" stop-color="#1991d4"/><stop offset="0.857" stop-color="#1991d3"/><stop offset="0.893" stop-color="#1991d3"/><stop offset="0.929" stop-color="#1990d3"/><stop offset="0.964" stop-color="#1990d3"/><stop offset="1.000" stop-color="#1990d3"/></linearGradient><linearGradient id="e1_17" gradientUnits="userSpaceOnUse" x1="381.8" x2="547.9" y1="0" y2="0"><stop offset="0.000" stop-color="#18a5df"/><stop offset="0.036" stop-color="#17a8e0"/><stop offset="0.071" stop-color="#17aae1"/><stop offset="0.107" stop-color="#16ade2"/><stop offset="0.143" stop-color="#16b0e3"/><stop offset="0.179" stop-color="#15b2e4"/><stop offset="0.214" stop-color="#15b5e6"/><stop offset="0.250" stop-color="#14b8e7"/><stop offset="0.286" stop-color="#14b9e7"/><stop offset="0.321" stop-color="#14b9e7"/><stop offset="0.357" stop-color="#15b7e6"/><stop offset="0.393" stop-color="#15b4e5"/><stop offset="0.429" stop-color="#1a99d9"/><stop offset="0.464" stop-color="#1a98d9"/><stop offset="0.500" stop-color="#1a97d8"/><stop offset="0.536" stop-color="#1a97d8"/><stop offset="0.571" stop-color="#1a96d7"/><stop offset="0.607" stop-color="#1a95d6"/><stop offset="0.643" stop-color="#1a93d5"/><stop offset="0.679" stop-color="#1992d5"/><stop offset="0.714" stop-color="#1991d4"/><stop offset="0.750" stop-color="#1991d3"/><stop offset="0.786" stop-color="#1990d3"/><stop offset="0.821" stop-color="#1990d3"/><stop offset="0.857" stop-color="#198fd2"/><stop offset="0.893" stop-color="#198fd2"/><stop offset="0.929" stop-color="#198fd2"/><stop offset="0.964" stop-color="#198fd2"/><stop offset="1.000" stop-color="#198fd2"/></linearGradient><linearGradient id="e1_18" gradientUnits="userSpaceOnUse" x1="381.8" x2="547.9" y1="0" y2="0"><stop offset="0.000" stop-color="#18a4de"/><stop offset="0.036" stop-color="#18a6df"/><stop offset="0.071" stop-color="#17a9e0"/><stop offset="0.107" stop-color="#17ace2"/><stop offset="0.143" stop-color="#16aee3"/><stop offset="0.179" stop-color="#16b0e3"/><stop offset="0.214" stop-color="#16afe3"/><stop offset="0.250" stop-color="#17abe1"/><stop offset="0.286" stop-color="#18a5df"/><stop offset="0.321" stop-color="#1a9cdb"/><stop offset="0.357" stop-color="#1a97d8"/><stop offset="0.393" stop-color="#1a95d7"/><stop offset="0.429" stop-color="#1986cc"/><stop offset="0.464" stop-color="#198ace"/><stop offset="0.500" stop-color="#198ed1"/><stop offset="0.536" stop-color="#1991d4"/><stop offset="0.571" stop-color="#1993d5"/><stop offset="0.607" stop-color="#1993d5"/><stop offset="0.643" stop-color="#1992d5"/><stop offset="0.679" stop-color="#1992d4"/><stop offset="0.714" stop-color="#1991d3"/><stop offset="0.750" stop-color="#1990d3"/><stop offset="0.786" stop-color="#198fd2"/><stop offset="0.821" stop-color="#198fd2"/><stop offset="0.857" stop-color="#198ed2"/><stop offset="0.893" stop-color="#198ed1"/><stop offset="0.929" stop-color="#198ed1"/><stop offset="0.964" stop-color="#198ed1"/><stop offset="1.000" stop-color="#198dd1"/></linearGradient><linearGradient id="e1_19" gradientUnits="userSpaceOnUse" x1="381.8" x2="547.9" y1="0" y2="0"><stop offset="0.000" stop-color="#1a9cdb"/><stop offset="0.036" stop-color="#199fdc"/><stop offset="0.071" stop-color="#19a2dd"/><stop offset="0.107" stop-color="#18a4de"/><stop offset="0.143" stop-color="#18a7df"/><stop offset="0.179" stop-color="#18a7e0"/><stop offset="0.214" stop-color="#18a3de"/><stop offset="0.250" stop-color="#1a99d9"/><stop offset="0.286" stop-color="#1990d3"/><stop offset="0.321" stop-color="#1885cb"/><stop offset="0.357" stop-color="#187cc5"/><stop offset="0.393" stop-color="#177ac2"/><stop offset="0.429" stop-color="#1673bc"/><stop offset="0.464" stop-color="#177ac2"/><stop offset="0.500" stop-color="#1883c9"/><stop offset="0.536" stop-color="#198bcf"/><stop offset="0.571" stop-color="#1990d3"/><stop offset="0.607" stop-color="#1992d5"/><stop offset="0.643" stop-color="#1993d5"/><stop offset="0.679" stop-color="#1992d4"/><stop offset="0.714" stop-color="#1991d4"/><stop offset="0.750" stop-color="#1990d3"/><stop offset="0.786" stop-color="#198fd2"/><stop offset="0.821" stop-color="#198fd2"/><stop offset="0.857" stop-color="#198ed2"/><stop offset="0.893" stop-color="#198ed2"/><stop offset="0.929" stop-color="#198ed1"/><stop offset="0.964" stop-color="#198ed1"/><stop offset="1.000" stop-color="#198ed1"/></linearGradient><linearGradient id="e1_20" gradientUnits="userSpaceOnUse" x1="381.8" x2="547.9" y1="0" y2="0"><stop offset="0.000" stop-color="#1a96d7"/><stop offset="0.036" stop-color="#1a98d8"/><stop offset="0.071" stop-color="#1a99da"/><stop offset="0.107" stop-color="#199ddb"/><stop offset="0.143" stop-color="#19a0dd"/><stop offset="0.179" stop-color="#18a3de"/><stop offset="0.214" stop-color="#19a2dd"/><stop offset="0.250" stop-color="#199ddb"/><stop offset="0.286" stop-color="#1a97d8"/><stop offset="0.321" stop-color="#1991d4"/><stop offset="0.357" stop-color="#198cd0"/><stop offset="0.393" stop-color="#198bcf"/><stop offset="0.429" stop-color="#1885cb"/><stop offset="0.464" stop-color="#198ace"/><stop offset="0.500" stop-color="#1990d3"/><stop offset="0.536" stop-color="#1a94d6"/><stop offset="0.571" stop-color="#1a96d7"/><stop offset="0.607" stop-color="#1a97d8"/><stop offset="0.643" stop-color="#1a96d7"/><stop offset="0.679" stop-color="#1a95d7"/><stop offset="0.714" stop-color="#1a94d6"/><stop offset="0.750" stop-color="#1993d5"/><stop offset="0.786" stop-color="#1992d4"/><stop offset="0.821" stop-color="#1991d4"/><stop offset="0.857" stop-color="#1991d3"/><stop offset="0.893" stop-color="#1991d3"/><stop offset="0.929" stop-color="#1990d3"/><stop offset="0.964" stop-color="#1990d3"/><stop offset="1.000" stop-color="#1990d3"/></linearGradient><linearGradient id="e1_21" gradientUnits="userSpaceOnUse" x1="381.8" x2="547.9" y1="0" y2="0"><stop offset="0.000" stop-color="#1a94d5"/><stop offset="0.036" stop-color="#1a96d7"/><stop offset="0.071" stop-color="#1a98d9"/><stop offset="0.107" stop-color="#1a9cdb"/><stop offset="0.143" stop-color="#18a2de"/><stop offset="0.179" stop-color="#17a8e0"/><stop offset="0.214" stop-color="#17ace2"/><stop offset="0.250" stop-color="#16aee3"/><stop offset="0.286" stop-color="#16b0e3"/><stop offset="0.321" stop-color="#16b0e4"/><stop offset="0.357" stop-color="#16b1e4"/><stop offset="0.393" stop-color="#15b2e4"/><stop offset="0.429" stop-color="#17abe1"/><stop offset="0.464" stop-color="#17ace2"/><stop offset="0.500" stop-color="#16ade2"/><stop offset="0.536" stop-color="#17ace2"/><stop offset="0.571" stop-color="#17aae1"/><stop offset="0.607" stop-color="#18a7e0"/><stop offset="0.643" stop-color="#18a4de"/><stop offset="0.679" stop-color="#19a1dd"/><stop offset="0.714" stop-color="#199ddb"/><stop offset="0.750" stop-color="#1a9bda"/><stop offset="0.786" stop-color="#1a99d9"/><stop offset="0.821" stop-color="#1a98d9"/><stop offset="0.857" stop-color="#1a98d8"/><stop offset="0.893" stop-color="#1a97d8"/><stop offset="0.929" stop-color="#1a97d8"/><stop offset="0.964" stop-color="#1a97d8"/><stop offset="1.000" stop-color="#1a96d7"/></linearGradient><linearGradient id="e1_22" gradientUnits="userSpaceOnUse" x1="381.8" x2="547.9" y1="0" y2="0"><stop offset="0.000" stop-color="#1992d4"/><stop offset="0.036" stop-color="#1a95d7"/><stop offset="0.071" stop-color="#1a99d9"/><stop offset="0.107" stop-color="#19a2dd"/><stop offset="0.143" stop-color="#17abe1"/><stop offset="0.179" stop-color="#15b5e6"/><stop offset="0.214" stop-color="#14bce9"/><stop offset="0.250" stop-color="#12c3eb"/><stop offset="0.286" stop-color="#12c6ec"/><stop offset="0.321" stop-color="#12c9ed"/><stop offset="0.357" stop-color="#12cced"/><stop offset="0.393" stop-color="#12ceed"/><stop offset="0.429" stop-color="#12cced"/><stop offset="0.464" stop-color="#12cbed"/><stop offset="0.500" stop-color="#12cbed"/><stop offset="0.536" stop-color="#12c8ed"/><stop offset="0.571" stop-color="#12c6ec"/><stop offset="0.607" stop-color="#12c2eb"/><stop offset="0.643" stop-color="#13bce9"/><stop offset="0.679" stop-color="#14b7e6"/><stop offset="0.714" stop-color="#15b2e4"/><stop offset="0.750" stop-color="#16ade2"/><stop offset="0.786" stop-color="#17aae1"/><stop offset="0.821" stop-color="#18a6df"/><stop offset="0.857" stop-color="#18a5df"/><stop offset="0.893" stop-color="#18a4de"/><stop offset="0.929" stop-color="#18a4de"/><stop offset="0.964" stop-color="#18a2de"/><stop offset="1.000" stop-color="#199fdc"/></linearGradient><linearGradient id="e1_23" gradientUnits="userSpaceOnUse" x1="381.8" x2="547.9" y1="0" y2="0"><stop offset="0.000" stop-color="#16b0e4"/><stop offset="0.036" stop-color="#14b9e7"/><stop offset="0.071" stop-color="#12c5ec"/><stop offset="0.107" stop-color="#12ceed"/><stop offset="0.143" stop-color="#12d9ef"/><stop offset="0.179" stop-color="#12e4f0"/><stop offset="0.214" stop-color="#11d8da"/><stop offset="0.250" stop-color="#11cdc4"/><stop offset="0.286" stop-color="#11c4b3"/><stop offset="0.321" stop-color="#10bda5"/><stop offset="0.357" stop-color="#10b698"/><stop offset="0.393" stop-color="#10b08e"/><stop offset="0.429" stop-color="#10b393"/><stop offset="0.464" stop-color="#10b494"/><stop offset="0.500" stop-color="#10b596"/><stop offset="0.536" stop-color="#10bba2"/><stop offset="0.571" stop-color="#11c3b1"/><stop offset="0.607" stop-color="#11ccc1"/><stop offset="0.643" stop-color="#11d5d3"/><stop offset="0.679" stop-color="#12dee5"/><stop offset="0.714" stop-color="#12e1f0"/><stop offset="0.750" stop-color="#12dcef"/><stop offset="0.786" stop-color="#12d8ef"/><stop offset="0.821" stop-color="#12d4ee"/><stop offset="0.857" stop-color="#12d2ee"/><stop offset="0.893" stop-color="#12d1ee"/><stop offset="0.929" stop-color="#12d0ed"/><stop offset="0.964" stop-color="#12ceed"/><stop offset="1.000" stop-color="#12cbed"/></linearGradient><linearGradient id="e1_24" gradientUnits="userSpaceOnUse" x1="381.8" x2="547.9" y1="0" y2="0"><stop offset="0.000" stop-color="#12ceed"/><stop offset="0.036" stop-color="#12d7ee"/><stop offset="0.071" stop-color="#12e4f0"/><stop offset="0.107" stop-color="#11ccc2"/><stop offset="0.143" stop-color="#10b291"/><stop offset="0.179" stop-color="#109c6a"/><stop offset="0.214" stop-color="#29965c"/><stop offset="0.250" stop-color="#509655"/><stop offset="0.286" stop-color="#6f9650"/><stop offset="0.321" stop-color="#869a55"/><stop offset="0.357" stop-color="#9d9e5b"/><stop offset="0.393" stop-color="#b1a15f"/><stop offset="0.429" stop-color="#a59f5c"/><stop offset="0.464" stop-color="#9f9e5b"/><stop offset="0.500" stop-color="#979d59"/><stop offset="0.536" stop-color="#7c9853"/><stop offset="0.571" stop-color="#5d9653"/><stop offset="0.607" stop-color="#3c9659"/><stop offset="0.643" stop-color="#18965f"/><stop offset="0.679" stop-color="#10a072"/><stop offset="0.714" stop-color="#10ae89"/><stop offset="0.750" stop-color="#10ba9f"/><stop offset="0.786" stop-color="#11c4b3"/><stop offset="0.821" stop-color="#11cfc8"/><stop offset="0.857" stop-color="#11d4d2"/><stop offset="0.893" stop-color="#12d9da"/><stop offset="0.929" stop-color="#12dde3"/><stop offset="0.964" stop-color="#12e2ec"/><stop offset="1.000" stop-color="#12e1f0"/></linearGradient><linearGradient id="e1_25" gradientUnits="userSpaceOnUse" x1="381.8" x2="547.9" y1="0" y2="0"><stop offset="0.000" stop-color="#12dfef"/><stop offset="0.036" stop-color="#11d7d8"/><stop offset="0.071" stop-color="#10bba2"/><stop offset="0.107" stop-color="#109d6c"/><stop offset="0.143" stop-color="#529655"/><stop offset="0.179" stop-color="#a69f5d"/><stop offset="0.214" stop-color="#d8a768"/><stop offset="0.250" stop-color="#de9255"/><stop offset="0.286" stop-color="#e38248"/><stop offset="0.321" stop-color="#e6763e"/><stop offset="0.357" stop-color="#e66934"/><stop offset="0.393" stop-color="#e35d2c"/><stop offset="0.429" stop-color="#e66833"/><stop offset="0.464" stop-color="#e87038"/><stop offset="0.500" stop-color="#e6783f"/><stop offset="0.536" stop-color="#e08b4f"/><stop offset="0.571" stop-color="#db9f60"/><stop offset="0.607" stop-color="#baa361"/><stop offset="0.643" stop-color="#859a55"/><stop offset="0.679" stop-color="#519655"/><stop offset="0.714" stop-color="#1c965e"/><stop offset="0.750" stop-color="#10a275"/><stop offset="0.786" stop-color="#10af8c"/><stop offset="0.821" stop-color="#10bea6"/><stop offset="0.857" stop-color="#11c6b7"/><stop offset="0.893" stop-color="#11cdc5"/><stop offset="0.929" stop-color="#11d5d3"/><stop offset="0.964" stop-color="#12dde2"/><stop offset="1.000" stop-color="#12e3f0"/></linearGradient><linearGradient id="e1_26" gradientUnits="userSpaceOnUse" x1="381.8" x2="547.9" y1="0" y2="0"><stop offset="0.000" stop-color="#11cbc1"/><stop offset="0.036" stop-color="#10b291"/><stop offset="0.071" stop-color="#129660"/><stop offset="0.107" stop-color="#739751"/><stop offset="0.143" stop-color="#d6a867"/><stop offset="0.179" stop-color="#e38046"/><stop offset="0.214" stop-color="#e56631"/><stop offset="0.250" stop-color="#de481e"/><stop offset="0.286" stop-color="#d83311"/><stop offset="0.321" stop-color="#d2280b"/><stop offset="0.357" stop-color="#ca2008"/><stop offset="0.393" stop-color="#c31a06"/><stop offset="0.429" stop-color="#cc2309"/><stop offset="0.464" stop-color="#d62c0c"/><stop offset="0.500" stop-color="#da3c16"/><stop offset="0.536" stop-color="#e35d2b"/><stop offset="0.571" stop-color="#e57b42"/><stop offset="0.607" stop-color="#dd9759"/><stop offset="0.643" stop-color="#bea462"/><stop offset="0.679" stop-color="#7d9953"/><stop offset="0.714" stop-color="#3c9658"/><stop offset="0.750" stop-color="#109a67"/><stop offset="0.786" stop-color="#10aa83"/><stop offset="0.821" stop-color="#10bba1"/><stop offset="0.857" stop-color="#11c6b7"/><stop offset="0.893" stop-color="#11d0c9"/><stop offset="0.929" stop-color="#12d9dc"/><stop offset="0.964" stop-color="#12e3ee"/><stop offset="1.000" stop-color="#12dfef"/></linearGradient><linearGradient id="e1_27" gradientUnits="userSpaceOnUse" x1="381.8" x2="547.9" y1="0" y2="0"><stop offset="0.000" stop-color="#10af8b"/><stop offset="0.036" stop-color="#109762"/><stop offset="0.071" stop-color="#5c9653"/><stop offset="0.107" stop-color="#bea462"/><stop offset="0.143" stop-color="#e1894e"/><stop offset="0.179" stop-color="#e35c2b"/><stop offset="0.214" stop-color="#db4019"/><stop offset="0.250" stop-color="#d2280b"/><stop offset="0.286" stop-color="#c71e07"/><stop offset="0.321" stop-color="#c01805"/><stop offset="0.357" stop-color="#ba1103"/><stop offset="0.393" stop-color="#b50c01"/><stop offset="0.429" stop-color="#c11805"/><stop offset="0.464" stop-color="#cd2409"/><stop offset="0.500" stop-color="#d83311"/><stop offset="0.536" stop-color="#e25829"/><stop offset="0.571" stop-color="#e57b41"/><stop offset="0.607" stop-color="#dc995b"/><stop offset="0.643" stop-color="#b3a260"/><stop offset="0.679" stop-color="#709650"/><stop offset="0.714" stop-color="#2d965b"/><stop offset="0.750" stop-color="#10a072"/><stop offset="0.786" stop-color="#10b08e"/><stop offset="0.821" stop-color="#11c2b0"/><stop offset="0.857" stop-color="#11cec7"/><stop offset="0.893" stop-color="#11d8da"/><stop offset="0.929" stop-color="#12e2ed"/><stop offset="0.964" stop-color="#12dfef"/><stop offset="1.000" stop-color="#12daef"/></linearGradient><linearGradient id="e1_28" gradientUnits="userSpaceOnUse" x1="381.8" x2="547.9" y1="0" y2="0"><stop offset="0.000" stop-color="#10b596"/><stop offset="0.036" stop-color="#10a071"/><stop offset="0.071" stop-color="#3b9659"/><stop offset="0.107" stop-color="#919c58"/><stop offset="0.143" stop-color="#daa263"/><stop offset="0.179" stop-color="#e47f44"/><stop offset="0.214" stop-color="#e76b35"/><stop offset="0.250" stop-color="#e15527"/><stop offset="0.286" stop-color="#dd471e"/><stop offset="0.321" stop-color="#db4019"/><stop offset="0.357" stop-color="#d93914"/><stop offset="0.393" stop-color="#d83311"/><stop offset="0.429" stop-color="#de491f"/><stop offset="0.464" stop-color="#e4612e"/><stop offset="0.500" stop-color="#e6773e"/><stop offset="0.536" stop-color="#de9457"/><stop offset="0.571" stop-color="#c3a563"/><stop offset="0.607" stop-color="#819954"/><stop offset="0.643" stop-color="#409658"/><stop offset="0.679" stop-color="#109b68"/><stop offset="0.714" stop-color="#10b08d"/><stop offset="0.750" stop-color="#11c4b2"/><stop offset="0.786" stop-color="#11d4d2"/><stop offset="0.821" stop-color="#12e4f0"/><stop offset="0.857" stop-color="#12ddef"/><stop offset="0.893" stop-color="#12d8ee"/><stop offset="0.929" stop-color="#12d2ee"/><stop offset="0.964" stop-color="#12cded"/><stop offset="1.000" stop-color="#12caed"/></linearGradient><linearGradient id="e1_29" gradientUnits="userSpaceOnUse" x1="381.8" x2="547.9" y1="0" y2="0"><stop offset="0.000" stop-color="#12e0f0"/><stop offset="0.036" stop-color="#11d6d5"/><stop offset="0.071" stop-color="#10bfa8"/><stop offset="0.107" stop-color="#10a57b"/><stop offset="0.143" stop-color="#28965c"/><stop offset="0.179" stop-color="#679651"/><stop offset="0.214" stop-color="#869a55"/><stop offset="0.250" stop-color="#a39f5c"/><stop offset="0.286" stop-color="#b3a260"/><stop offset="0.321" stop-color="#bba361"/><stop offset="0.357" stop-color="#c1a463"/><stop offset="0.393" stop-color="#c5a564"/><stop offset="0.429" stop-color="#a29f5c"/><stop offset="0.464" stop-color="#789852"/><stop offset="0.500" stop-color="#4f9655"/><stop offset="0.536" stop-color="#16965f"/><stop offset="0.571" stop-color="#10a87f"/><stop offset="0.607" stop-color="#10bca3"/><stop offset="0.643" stop-color="#11d2cd"/><stop offset="0.679" stop-color="#12e3f0"/><stop offset="0.714" stop-color="#12d7ee"/><stop offset="0.750" stop-color="#12cded"/><stop offset="0.786" stop-color="#12c6ec"/><stop offset="0.821" stop-color="#14bce8"/><stop offset="0.857" stop-color="#15b5e5"/><stop offset="0.893" stop-color="#16afe3"/><stop offset="0.929" stop-color="#17a9e0"/><stop offset="0.964" stop-color="#18a4de"/><stop offset="1.000" stop-color="#19a0dd"/></linearGradient><linearGradient id="e1_30" gradientUnits="userSpaceOnUse" x1="381.8" x2="547.9" y1="0" y2="0"><stop offset="0.000" stop-color="#15b6e6"/><stop offset="0.036" stop-color="#12c3ec"/><stop offset="0.071" stop-color="#12cded"/><stop offset="0.107" stop-color="#12d9ef"/><stop offset="0.143" stop-color="#12e3ee"/><stop offset="0.179" stop-color="#11d1cd"/><stop offset="0.214" stop-color="#11c9bc"/><stop offset="0.250" stop-color="#10c1ae"/><stop offset="0.286" stop-color="#10bda6"/><stop offset="0.321" stop-color="#10bca3"/><stop offset="0.357" stop-color="#10bba1"/><stop offset="0.393" stop-color="#10bba1"/><stop offset="0.429" stop-color="#11c6b7"/><stop offset="0.464" stop-color="#11d4d1"/><stop offset="0.500" stop-color="#12e1ea"/><stop offset="0.536" stop-color="#12dbef"/><stop offset="0.571" stop-color="#12d1ee"/><stop offset="0.607" stop-color="#12c7ec"/><stop offset="0.643" stop-color="#14bce8"/><stop offset="0.679" stop-color="#16afe3"/><stop offset="0.714" stop-color="#18a4de"/><stop offset="0.750" stop-color="#1a9bda"/><stop offset="0.786" stop-color="#1a97d8"/><stop offset="0.821" stop-color="#1993d5"/><stop offset="0.857" stop-color="#1990d3"/><stop offset="0.893" stop-color="#198ed2"/><stop offset="0.929" stop-color="#198cd0"/><stop offset="0.964" stop-color="#198bcf"/><stop offset="1.000" stop-color="#1989ce"/></linearGradient><linearGradient id="e1_31" gradientUnits="userSpaceOnUse" x1="381.8" x2="547.9" y1="0" y2="0"><stop offset="0.000" stop-color="#18a5df"/><stop offset="0.036" stop-color="#16ade2"/><stop offset="0.071" stop-color="#15b5e6"/><stop offset="0.107" stop-color="#13bfea"/><stop offset="0.143" stop-color="#12c8ec"/><stop offset="0.179" stop-color="#12ceed"/><stop offset="0.214" stop-color="#12d1ee"/><stop offset="0.250" stop-color="#12d4ee"/><stop offset="0.286" stop-color="#12d5ee"/><stop offset="0.321" stop-color="#12d5ee"/><stop offset="0.357" stop-color="#12d6ee"/><stop offset="0.393" stop-color="#12d6ee"/><stop offset="0.429" stop-color="#12d1ee"/><stop offset="0.464" stop-color="#12cced"/><stop offset="0.500" stop-color="#12c7ec"/><stop offset="0.536" stop-color="#13bfea"/><stop offset="0.571" stop-color="#15b6e6"/><stop offset="0.607" stop-color="#16aee2"/><stop offset="0.643" stop-color="#18a6df"/><stop offset="0.679" stop-color="#199fdc"/><stop offset="0.714" stop-color="#1a99d9"/><stop offset="0.750" stop-color="#1a96d7"/><stop offset="0.786" stop-color="#1a94d6"/><stop offset="0.821" stop-color="#1992d4"/><stop offset="0.857" stop-color="#1991d3"/><stop offset="0.893" stop-color="#198fd2"/><stop offset="0.929" stop-color="#198ed2"/><stop offset="0.964" stop-color="#198dd1"/><stop offset="1.000" stop-color="#198dd1"/></linearGradient><linearGradient id="e1_32" gradientUnits="userSpaceOnUse" x1="381.8" x2="547.9" y1="0" y2="0"><stop offset="0.000" stop-color="#1a98d9"/><stop offset="0.036" stop-color="#1a9bda"/><stop offset="0.071" stop-color="#19a0dc"/><stop offset="0.107" stop-color="#18a5df"/><stop offset="0.143" stop-color="#17abe1"/><stop offset="0.179" stop-color="#16b1e4"/><stop offset="0.214" stop-color="#15b3e5"/><stop offset="0.250" stop-color="#15b6e6"/><stop offset="0.286" stop-color="#15b7e6"/><stop offset="0.321" stop-color="#14b7e6"/><stop offset="0.357" stop-color="#14b7e6"/><stop offset="0.393" stop-color="#14b7e6"/><stop offset="0.429" stop-color="#15b3e5"/><stop offset="0.464" stop-color="#16afe3"/><stop offset="0.500" stop-color="#17abe1"/><stop offset="0.536" stop-color="#18a6df"/><stop offset="0.571" stop-color="#19a1dd"/><stop offset="0.607" stop-color="#1a9cdb"/><stop offset="0.643" stop-color="#1a99d9"/><stop offset="0.679" stop-color="#1a97d8"/><stop offset="0.714" stop-color="#1a95d6"/><stop offset="0.750" stop-color="#1993d5"/><stop offset="0.786" stop-color="#1992d4"/><stop offset="0.821" stop-color="#1991d3"/><stop offset="0.857" stop-color="#1990d3"/><stop offset="0.893" stop-color="#198fd2"/><stop offset="0.929" stop-color="#198fd2"/><stop offset="0.964" stop-color="#198ed1"/><stop offset="1.000" stop-color="#198ed1"/></linearGradient><linearGradient id="e1_33" gradientUnits="userSpaceOnUse" x1="381.8" x2="547.9" y1="0" y2="0"><stop offset="0.000" stop-color="#187cc5"/><stop offset="0.036" stop-color="#187dc5"/><stop offset="0.071" stop-color="#187fc7"/><stop offset="0.107" stop-color="#1881c8"/><stop offset="0.143" stop-color="#1883c9"/><stop offset="0.179" stop-color="#1884cb"/><stop offset="0.214" stop-color="#1985cb"/><stop offset="0.250" stop-color="#1986cc"/><stop offset="0.286" stop-color="#1987cc"/><stop offset="0.321" stop-color="#1987cc"/><stop offset="0.357" stop-color="#1987cc"/><stop offset="0.393" stop-color="#1987cc"/><stop offset="0.429" stop-color="#1986cb"/><stop offset="0.464" stop-color="#1884ca"/><stop offset="0.500" stop-color="#1883ca"/><stop offset="0.536" stop-color="#1881c8"/><stop offset="0.571" stop-color="#1880c7"/><stop offset="0.607" stop-color="#187ec6"/><stop offset="0.643" stop-color="#187dc5"/><stop offset="0.679" stop-color="#187cc4"/><stop offset="0.714" stop-color="#177bc4"/><stop offset="0.750" stop-color="#177ac3"/><stop offset="0.786" stop-color="#177ac2"/><stop offset="0.821" stop-color="#1779c2"/><stop offset="0.857" stop-color="#1779c2"/><stop offset="0.893" stop-color="#1779c1"/><stop offset="0.929" stop-color="#1779c1"/><stop offset="0.964" stop-color="#1778c1"/><stop offset="1.000" stop-color="#1778c1"/></linearGradient><linearGradient id="e1_34" gradientUnits="userSpaceOnUse" x1="381.8" x2="547.9" y1="0" y2="0"><stop offset="0.000" stop-color="#156db7"/><stop offset="0.036" stop-color="#156db8"/><stop offset="0.071" stop-color="#156eb8"/><stop offset="0.107" stop-color="#156fb9"/><stop offset="0.143" stop-color="#1570ba"/><stop offset="0.179" stop-color="#1571bb"/><stop offset="0.214" stop-color="#1571bb"/><stop offset="0.250" stop-color="#1672bb"/><stop offset="0.286" stop-color="#1672bc"/><stop offset="0.321" stop-color="#1672bc"/><stop offset="0.357" stop-color="#1672bc"/><stop offset="0.393" stop-color="#1672bc"/><stop offset="0.429" stop-color="#1672bb"/><stop offset="0.464" stop-color="#1571bb"/><stop offset="0.500" stop-color="#1570ba"/><stop offset="0.536" stop-color="#1570ba"/><stop offset="0.571" stop-color="#156fb9"/><stop offset="0.607" stop-color="#156eb8"/><stop offset="0.643" stop-color="#156eb8"/><stop offset="0.679" stop-color="#156db7"/><stop offset="0.714" stop-color="#146cb7"/><stop offset="0.750" stop-color="#146cb6"/><stop offset="0.786" stop-color="#146cb6"/><stop offset="0.821" stop-color="#146bb6"/><stop offset="0.857" stop-color="#146bb6"/><stop offset="0.893" stop-color="#146bb5"/><stop offset="0.929" stop-color="#146bb5"/><stop offset="0.964" stop-color="#146ab5"/><stop offset="1.000" stop-color="#146ab5"/></linearGradient><linearGradient id="e1_35" gradientUnits="userSpaceOnUse" x1="381.8" x2="547.9" y1="0" y2="0"><stop offset="0.000" stop-color="#1469b4"/><stop offset="0.036" stop-color="#1469b4"/><stop offset="0.071" stop-color="#146ab4"/><stop offset="0.107" stop-color="#146ab5"/><stop offset="0.143" stop-color="#146bb6"/><stop offset="0.179" stop-color="#146cb6"/><stop offset="0.214" stop-color="#146cb6"/><stop offset="0.250" stop-color="#146cb7"/><stop offset="0.286" stop-color="#146cb7"/><stop offset="0.321" stop-color="#146cb7"/><stop offset="0.357" stop-color="#146cb7"/><stop offset="0.393" stop-color="#146cb7"/><stop offset="0.429" stop-color="#146cb6"/><stop offset="0.464" stop-color="#146cb6"/><stop offset="0.500" stop-color="#146bb6"/><stop offset="0.536" stop-color="#146bb5"/><stop offset="0.571" stop-color="#146ab5"/><stop offset="0.607" stop-color="#146ab4"/><stop offset="0.643" stop-color="#1469b4"/><stop offset="0.679" stop-color="#1469b4"/><stop offset="0.714" stop-color="#1469b3"/><stop offset="0.750" stop-color="#1468b3"/><stop offset="0.786" stop-color="#1468b3"/><stop offset="0.821" stop-color="#1468b3"/><stop offset="0.857" stop-color="#1468b3"/><stop offset="0.893" stop-color="#1468b3"/><stop offset="0.929" stop-color="#1367b2"/><stop offset="0.964" stop-color="#1367b2"/><stop offset="1.000" stop-color="#1367b2"/></linearGradient><linearGradient id="e1_36" gradientUnits="userSpaceOnUse" x1="381.8" x2="547.9" y1="0" y2="0"><stop offset="0.000" stop-color="#146bb5"/><stop offset="0.036" stop-color="#146bb5"/><stop offset="0.071" stop-color="#146bb6"/><stop offset="0.107" stop-color="#146cb6"/><stop offset="0.143" stop-color="#146cb6"/><stop offset="0.179" stop-color="#146cb7"/><stop offset="0.214" stop-color="#156db7"/><stop offset="0.250" stop-color="#156db7"/><stop offset="0.286" stop-color="#156db7"/><stop offset="0.321" stop-color="#156db7"/><stop offset="0.357" stop-color="#156db7"/><stop offset="0.393" stop-color="#156db7"/><stop offset="0.429" stop-color="#156db7"/><stop offset="0.464" stop-color="#156db7"/><stop offset="0.500" stop-color="#146cb7"/><stop offset="0.536" stop-color="#146cb6"/><stop offset="0.571" stop-color="#146cb6"/><stop offset="0.607" stop-color="#146bb6"/><stop offset="0.643" stop-color="#146bb5"/><stop offset="0.679" stop-color="#146bb5"/><stop offset="0.714" stop-color="#146ab5"/><stop offset="0.750" stop-color="#146ab5"/><stop offset="0.786" stop-color="#146ab5"/><stop offset="0.821" stop-color="#146ab5"/><stop offset="0.857" stop-color="#146ab5"/><stop offset="0.893" stop-color="#146ab4"/><stop offset="0.929" stop-color="#146ab4"/><stop offset="0.964" stop-color="#146ab4"/><stop offset="1.000" stop-color="#146ab4"/></linearGradient><linearGradient id="e1_37" gradientUnits="userSpaceOnUse" x1="381.8" x2="547.9" y1="0" y2="0"><stop offset="0.000" stop-color="#1365b1"/><stop offset="0.036" stop-color="#1365b1"/><stop offset="0.071" stop-color="#1366b1"/><stop offset="0.107" stop-color="#1366b1"/><stop offset="0.143" stop-color="#1366b1"/><stop offset="0.179" stop-color="#1366b2"/><stop offset="0.214" stop-color="#1367b2"/><stop offset="0.250" stop-color="#1367b2"/><stop offset="0.286" stop-color="#1367b2"/><stop offset="0.321" stop-color="#1367b2"/><stop offset="0.357" stop-color="#1367b2"/><stop offset="0.393" stop-color="#1367b2"/><stop offset="0.429" stop-color="#1367b2"/><stop offset="0.464" stop-color="#1366b2"/><stop offset="0.500" stop-color="#1366b1"/><stop offset="0.536" stop-color="#1366b1"/><stop offset="0.571" stop-color="#1366b1"/><stop offset="0.607" stop-color="#1366b1"/><stop offset="0.643" stop-color="#1365b1"/><stop offset="0.679" stop-color="#1365b1"/><stop offset="0.714" stop-color="#1365b0"/><stop offset="0.750" stop-color="#1365b0"/><stop offset="0.786" stop-color="#1365b0"/><stop offset="0.821" stop-color="#1365b0"/><stop offset="0.857" stop-color="#1365b0"/><stop offset="0.893" stop-color="#1365b0"/><stop offset="0.929" stop-color="#1365b0"/><stop offset="0.964" stop-color="#1365b0"/><stop offset="1.000" stop-color="#1365b0"/></linearGradient><linearGradient id="e1_38" gradientUnits="userSpaceOnUse" x1="381.8" x2="547.9" y1="0" y2="0"><stop offset="0.000" stop-color="#115ca8"/><stop offset="0.036" stop-color="#115ca8"/><stop offset="0.071" stop-color="#115ca8"/><stop offset="0.107" stop-color="#115ca8"/><stop offset="0.143" stop-color="#115ca8"/><stop offset="0.179" stop-color="#115ca8"/><stop offset="0.214" stop-color="#115ca8"/><stop offset="0.250" stop-color="#115da9"/><stop offset="0.286" stop-color="#115da9"/><stop offset="0.321" stop-color="#115da9"/><stop offset="0.357" stop-color="#115da9"/><stop offset="0.393" stop-color="#115da9"/><stop offset="0.429" stop-color="#115da9"/><stop offset="0.464" stop-color="#115ca8"/><stop offset="0.500" stop-color="#115ca8"/><stop offset="0.536" stop-color="#115ca8"/><stop offset="0.571" stop-color="#115ca8"/><stop offset="0.607" stop-color="#115ca8"/><stop offset="0.643" stop-color="#115ca8"/><stop offset="0.679" stop-color="#115ca8"/><stop offset="0.714" stop-color="#115ca8"/><stop offset="0.750" stop-color="#115ca8"/><stop offset="0.786" stop-color="#115ca8"/><stop offset="0.821" stop-color="#115ca8"/><stop offset="0.857" stop-color="#115ca8"/><stop offset="0.893" stop-color="#115ca8"/><stop offset="0.929" stop-color="#115ca8"/><stop offset="0.964" stop-color="#115ca8"/><stop offset="1.000" stop-color="#115ca8"/></linearGradient><clipPath id="ec2"><rect x="387.0" y="187.6" width="155.70" height="71.9"/></clipPath><linearGradient id="e2_0" gradientUnits="userSpaceOnUse" x1="381.8" x2="547.9" y1="0" y2="0"><stop offset="0.000" stop-color="#198bcf"/><stop offset="0.036" stop-color="#198bcf"/><stop offset="0.071" stop-color="#198bcf"/><stop offset="0.107" stop-color="#198bcf"/><stop offset="0.143" stop-color="#198bcf"/><stop offset="0.179" stop-color="#198bcf"/><stop offset="0.214" stop-color="#198bcf"/><stop offset="0.250" stop-color="#198bcf"/><stop offset="0.286" stop-color="#198bcf"/><stop offset="0.321" stop-color="#198bcf"/><stop offset="0.357" stop-color="#198bcf"/><stop offset="0.393" stop-color="#198bcf"/><stop offset="0.429" stop-color="#198bcf"/><stop offset="0.464" stop-color="#198bcf"/><stop offset="0.500" stop-color="#198bcf"/><stop offset="0.536" stop-color="#198bcf"/><stop offset="0.571" stop-color="#198bcf"/><stop offset="0.607" stop-color="#198bcf"/><stop offset="0.643" stop-color="#198bcf"/><stop offset="0.679" stop-color="#198bcf"/><stop offset="0.714" stop-color="#198bcf"/><stop offset="0.750" stop-color="#198bcf"/><stop offset="0.786" stop-color="#198bcf"/><stop offset="0.821" stop-color="#198bcf"/><stop offset="0.857" stop-color="#198bcf"/><stop offset="0.893" stop-color="#198bcf"/><stop offset="0.929" stop-color="#198bcf"/><stop offset="0.964" stop-color="#198bcf"/><stop offset="1.000" stop-color="#198bcf"/></linearGradient><linearGradient id="e2_1" gradientUnits="userSpaceOnUse" x1="381.8" x2="547.9" y1="0" y2="0"><stop offset="0.000" stop-color="#1991d3"/><stop offset="0.036" stop-color="#1991d3"/><stop offset="0.071" stop-color="#1991d3"/><stop offset="0.107" stop-color="#1991d3"/><stop offset="0.143" stop-color="#1991d3"/><stop offset="0.179" stop-color="#1991d3"/><stop offset="0.214" stop-color="#1991d3"/><stop offset="0.250" stop-color="#1991d3"/><stop offset="0.286" stop-color="#1991d3"/><stop offset="0.321" stop-color="#1991d3"/><stop offset="0.357" stop-color="#1991d3"/><stop offset="0.393" stop-color="#1990d3"/><stop offset="0.429" stop-color="#1990d3"/><stop offset="0.464" stop-color="#1990d3"/><stop offset="0.500" stop-color="#1990d3"/><stop offset="0.536" stop-color="#1990d3"/><stop offset="0.571" stop-color="#1991d3"/><stop offset="0.607" stop-color="#1991d3"/><stop offset="0.643" stop-color="#1991d3"/><stop offset="0.679" stop-color="#1991d3"/><stop offset="0.714" stop-color="#1991d3"/><stop offset="0.750" stop-color="#1990d3"/><stop offset="0.786" stop-color="#1990d3"/><stop offset="0.821" stop-color="#1990d3"/><stop offset="0.857" stop-color="#1990d3"/><stop offset="0.893" stop-color="#1991d3"/><stop offset="0.929" stop-color="#1991d3"/><stop offset="0.964" stop-color="#1991d3"/><stop offset="1.000" stop-color="#1991d3"/></linearGradient><linearGradient id="e2_2" gradientUnits="userSpaceOnUse" x1="381.8" x2="547.9" y1="0" y2="0"><stop offset="0.000" stop-color="#1a99d9"/><stop offset="0.036" stop-color="#1a99d9"/><stop offset="0.071" stop-color="#1a99d9"/><stop offset="0.107" stop-color="#1a99d9"/><stop offset="0.143" stop-color="#1a99d9"/><stop offset="0.179" stop-color="#1a99d9"/><stop offset="0.214" stop-color="#1a99d9"/><stop offset="0.250" stop-color="#1a99d9"/><stop offset="0.286" stop-color="#1a99d9"/><stop offset="0.321" stop-color="#1a98d9"/><stop offset="0.357" stop-color="#1a97d8"/><stop offset="0.393" stop-color="#1a94d6"/><stop offset="0.429" stop-color="#1991d3"/><stop offset="0.464" stop-color="#198fd2"/><stop offset="0.500" stop-color="#1990d3"/><stop offset="0.536" stop-color="#1a93d5"/><stop offset="0.571" stop-color="#1a96d7"/><stop offset="0.607" stop-color="#1a98d8"/><stop offset="0.643" stop-color="#1a98d9"/><stop offset="0.679" stop-color="#1a98d8"/><stop offset="0.714" stop-color="#1a96d7"/><stop offset="0.750" stop-color="#1a93d5"/><stop offset="0.786" stop-color="#1992d4"/><stop offset="0.821" stop-color="#1992d4"/><stop offset="0.857" stop-color="#1a94d6"/><stop offset="0.893" stop-color="#1a97d8"/><stop offset="0.929" stop-color="#1a98d9"/><stop offset="0.964" stop-color="#1a98d9"/><stop offset="1.000" stop-color="#1a99d9"/></linearGradient><linearGradient id="e2_3" gradientUnits="userSpaceOnUse" x1="381.8" x2="547.9" y1="0" y2="0"><stop offset="0.000" stop-color="#17a8e0"/><stop offset="0.036" stop-color="#17a8e0"/><stop offset="0.071" stop-color="#17a8e0"/><stop offset="0.107" stop-color="#17a8e0"/><stop offset="0.143" stop-color="#17a8e0"/><stop offset="0.179" stop-color="#17a8e0"/><stop offset="0.214" stop-color="#17a8e0"/><stop offset="0.250" stop-color="#17a8e0"/><stop offset="0.286" stop-color="#17a8e0"/><stop offset="0.321" stop-color="#18a5df"/><stop offset="0.357" stop-color="#199edc"/><stop offset="0.393" stop-color="#1a94d5"/><stop offset="0.429" stop-color="#1989ce"/><stop offset="0.464" stop-color="#1882c9"/><stop offset="0.500" stop-color="#1986cc"/><stop offset="0.536" stop-color="#1991d3"/><stop offset="0.571" stop-color="#1a9bda"/><stop offset="0.607" stop-color="#18a4de"/><stop offset="0.643" stop-color="#18a5df"/><stop offset="0.679" stop-color="#19a1dd"/><stop offset="0.714" stop-color="#1a97d8"/><stop offset="0.750" stop-color="#198ed2"/><stop offset="0.786" stop-color="#1988cd"/><stop offset="0.821" stop-color="#1989ce"/><stop offset="0.857" stop-color="#1992d4"/><stop offset="0.893" stop-color="#1a9bda"/><stop offset="0.929" stop-color="#18a4de"/><stop offset="0.964" stop-color="#17a7e0"/><stop offset="1.000" stop-color="#17a8e0"/></linearGradient><linearGradient id="e2_4" gradientUnits="userSpaceOnUse" x1="381.8" x2="547.9" y1="0" y2="0"><stop offset="0.000" stop-color="#14bae8"/><stop offset="0.036" stop-color="#14bae8"/><stop offset="0.071" stop-color="#14bae8"/><stop offset="0.107" stop-color="#14bae8"/><stop offset="0.143" stop-color="#14bae8"/><stop offset="0.179" stop-color="#14bae8"/><stop offset="0.214" stop-color="#14bae8"/><stop offset="0.250" stop-color="#14bae8"/><stop offset="0.286" stop-color="#14b9e7"/><stop offset="0.321" stop-color="#15b6e6"/><stop offset="0.357" stop-color="#17ace2"/><stop offset="0.393" stop-color="#1a98d9"/><stop offset="0.429" stop-color="#1989ce"/><stop offset="0.464" stop-color="#1881c8"/><stop offset="0.500" stop-color="#1986cc"/><stop offset="0.536" stop-color="#1a95d6"/><stop offset="0.571" stop-color="#17a8e0"/><stop offset="0.607" stop-color="#15b4e5"/><stop offset="0.643" stop-color="#15b6e6"/><stop offset="0.679" stop-color="#16afe3"/><stop offset="0.714" stop-color="#1a9cdb"/><stop offset="0.750" stop-color="#198cd0"/><stop offset="0.786" stop-color="#1881c8"/><stop offset="0.821" stop-color="#1884ca"/><stop offset="0.857" stop-color="#1992d4"/><stop offset="0.893" stop-color="#18a4de"/><stop offset="0.929" stop-color="#15b3e5"/><stop offset="0.964" stop-color="#14b9e7"/><stop offset="1.000" stop-color="#14bae8"/></linearGradient><linearGradient id="e2_5" gradientUnits="userSpaceOnUse" x1="381.8" x2="547.9" y1="0" y2="0"><stop offset="0.000" stop-color="#12c9ed"/><stop offset="0.036" stop-color="#12c9ed"/><stop offset="0.071" stop-color="#12c9ed"/><stop offset="0.107" stop-color="#12c9ed"/><stop offset="0.143" stop-color="#12c9ed"/><stop offset="0.179" stop-color="#12c9ed"/><stop offset="0.214" stop-color="#12c9ed"/><stop offset="0.250" stop-color="#12c9ed"/><stop offset="0.286" stop-color="#12c9ed"/><stop offset="0.321" stop-color="#12c7ec"/><stop offset="0.357" stop-color="#12c3ec"/><stop offset="0.393" stop-color="#14b7e6"/><stop offset="0.429" stop-color="#17a7e0"/><stop offset="0.464" stop-color="#199fdc"/><stop offset="0.500" stop-color="#18a4de"/><stop offset="0.536" stop-color="#15b3e5"/><stop offset="0.571" stop-color="#13c1eb"/><stop offset="0.607" stop-color="#12c7ec"/><stop offset="0.643" stop-color="#12c7ec"/><stop offset="0.679" stop-color="#12c3ec"/><stop offset="0.714" stop-color="#15b6e6"/><stop offset="0.750" stop-color="#18a4de"/><stop offset="0.786" stop-color="#1a98d9"/><stop offset="0.821" stop-color="#1a9ada"/><stop offset="0.857" stop-color="#17abe1"/><stop offset="0.893" stop-color="#13bce9"/><stop offset="0.929" stop-color="#12c6ec"/><stop offset="0.964" stop-color="#12c8ed"/><stop offset="1.000" stop-color="#12c9ed"/></linearGradient><linearGradient id="e2_6" gradientUnits="userSpaceOnUse" x1="381.8" x2="547.9" y1="0" y2="0"><stop offset="0.000" stop-color="#12d2ee"/><stop offset="0.036" stop-color="#12d2ee"/><stop offset="0.071" stop-color="#12d2ee"/><stop offset="0.107" stop-color="#12d2ee"/><stop offset="0.143" stop-color="#12d2ee"/><stop offset="0.179" stop-color="#12d2ee"/><stop offset="0.214" stop-color="#12d2ee"/><stop offset="0.250" stop-color="#12d2ee"/><stop offset="0.286" stop-color="#12d2ee"/><stop offset="0.321" stop-color="#12d2ee"/><stop offset="0.357" stop-color="#12d1ee"/><stop offset="0.393" stop-color="#12cfed"/><stop offset="0.429" stop-color="#12cded"/><stop offset="0.464" stop-color="#12cbed"/><stop offset="0.500" stop-color="#12cced"/><stop offset="0.536" stop-color="#12ceed"/><stop offset="0.571" stop-color="#12d1ee"/><stop offset="0.607" stop-color="#12d2ee"/><stop offset="0.643" stop-color="#12d2ee"/><stop offset="0.679" stop-color="#12d1ee"/><stop offset="0.714" stop-color="#12ceed"/><stop offset="0.750" stop-color="#12cbed"/><stop offset="0.786" stop-color="#12c8ed"/><stop offset="0.821" stop-color="#12c9ed"/><stop offset="0.857" stop-color="#12cced"/><stop offset="0.893" stop-color="#12cfed"/><stop offset="0.929" stop-color="#12d1ee"/><stop offset="0.964" stop-color="#12d2ee"/><stop offset="1.000" stop-color="#12d2ee"/></linearGradient><linearGradient id="e2_7" gradientUnits="userSpaceOnUse" x1="381.8" x2="547.9" y1="0" y2="0"><stop offset="0.000" stop-color="#12d9ef"/><stop offset="0.036" stop-color="#12d9ef"/><stop offset="0.071" stop-color="#12d9ef"/><stop offset="0.107" stop-color="#12d9ef"/><stop offset="0.143" stop-color="#12d9ef"/><stop offset="0.179" stop-color="#12d9ef"/><stop offset="0.214" stop-color="#12d9ef"/><stop offset="0.250" stop-color="#12d9ef"/><stop offset="0.286" stop-color="#12d9ef"/><stop offset="0.321" stop-color="#12d9ef"/><stop offset="0.357" stop-color="#12d9ef"/><stop offset="0.393" stop-color="#12d9ef"/><stop offset="0.429" stop-color="#12d8ef"/><stop offset="0.464" stop-color="#12d8ef"/><stop offset="0.500" stop-color="#12d8ef"/><stop offset="0.536" stop-color="#12d9ef"/><stop offset="0.571" stop-color="#12d9ef"/><stop offset="0.607" stop-color="#12d9ef"/><stop offset="0.643" stop-color="#12d9ef"/><stop offset="0.679" stop-color="#12d9ef"/><stop offset="0.714" stop-color="#12d8ef"/><stop offset="0.750" stop-color="#12d8ee"/><stop offset="0.786" stop-color="#12d8ee"/><stop offset="0.821" stop-color="#12d8ee"/><stop offset="0.857" stop-color="#12d8ef"/><stop offset="0.893" stop-color="#12d9ef"/><stop offset="0.929" stop-color="#12d9ef"/><stop offset="0.964" stop-color="#12d9ef"/><stop offset="1.000" stop-color="#12d9ef"/></linearGradient><linearGradient id="e2_8" gradientUnits="userSpaceOnUse" x1="381.8" x2="547.9" y1="0" y2="0"><stop offset="0.000" stop-color="#12dcef"/><stop offset="0.036" stop-color="#12dcef"/><stop offset="0.071" stop-color="#12dcef"/><stop offset="0.107" stop-color="#12dcef"/><stop offset="0.143" stop-color="#12dcef"/><stop offset="0.179" stop-color="#12dcef"/><stop offset="0.214" stop-color="#12dcef"/><stop offset="0.250" stop-color="#12dcef"/><stop offset="0.286" stop-color="#12dcef"/><stop offset="0.321" stop-color="#12dcef"/><stop offset="0.357" stop-color="#12dcef"/><stop offset="0.393" stop-color="#12dcef"/><stop offset="0.429" stop-color="#12dcef"/><stop offset="0.464" stop-color="#12dcef"/><stop offset="0.500" stop-color="#12dcef"/><stop offset="0.536" stop-color="#12dcef"/><stop offset="0.571" stop-color="#12dcef"/><stop offset="0.607" stop-color="#12dcef"/><stop offset="0.643" stop-color="#12dcef"/><stop offset="0.679" stop-color="#12dcef"/><stop offset="0.714" stop-color="#12dcef"/><stop offset="0.750" stop-color="#12dcef"/><stop offset="0.786" stop-color="#12dcef"/><stop offset="0.821" stop-color="#12dcef"/><stop offset="0.857" stop-color="#12dcef"/><stop offset="0.893" stop-color="#12dcef"/><stop offset="0.929" stop-color="#12dcef"/><stop offset="0.964" stop-color="#12dcef"/><stop offset="1.000" stop-color="#12dcef"/></linearGradient><linearGradient id="e2_9" gradientUnits="userSpaceOnUse" x1="381.8" x2="547.9" y1="0" y2="0"><stop offset="0.000" stop-color="#12ddef"/><stop offset="0.036" stop-color="#12ddef"/><stop offset="0.071" stop-color="#12ddef"/><stop offset="0.107" stop-color="#12ddef"/><stop offset="0.143" stop-color="#12ddef"/><stop offset="0.179" stop-color="#12ddef"/><stop offset="0.214" stop-color="#12ddef"/><stop offset="0.250" stop-color="#12ddef"/><stop offset="0.286" stop-color="#12ddef"/><stop offset="0.321" stop-color="#12ddef"/><stop offset="0.357" stop-color="#12ddef"/><stop offset="0.393" stop-color="#12ddef"/><stop offset="0.429" stop-color="#12ddef"/><stop offset="0.464" stop-color="#12ddef"/><stop offset="0.500" stop-color="#12dcef"/><stop offset="0.536" stop-color="#12dcef"/><stop offset="0.571" stop-color="#12dcef"/><stop offset="0.607" stop-color="#12dcef"/><stop offset="0.643" stop-color="#12ddef"/><stop offset="0.679" stop-color="#12ddef"/><stop offset="0.714" stop-color="#12ddef"/><stop offset="0.750" stop-color="#12ddef"/><stop offset="0.786" stop-color="#12ddef"/><stop offset="0.821" stop-color="#12ddef"/><stop offset="0.857" stop-color="#12ddef"/><stop offset="0.893" stop-color="#12ddef"/><stop offset="0.929" stop-color="#12ddef"/><stop offset="0.964" stop-color="#12ddef"/><stop offset="1.000" stop-color="#12ddef"/></linearGradient><linearGradient id="e2_10" gradientUnits="userSpaceOnUse" x1="381.8" x2="547.9" y1="0" y2="0"><stop offset="0.000" stop-color="#12dcef"/><stop offset="0.036" stop-color="#12dcef"/><stop offset="0.071" stop-color="#12dcef"/><stop offset="0.107" stop-color="#12dcef"/><stop offset="0.143" stop-color="#12dcef"/><stop offset="0.179" stop-color="#12dcef"/><stop offset="0.214" stop-color="#12dcef"/><stop offset="0.250" stop-color="#12dcef"/><stop offset="0.286" stop-color="#12dcef"/><stop offset="0.321" stop-color="#12dcef"/><stop offset="0.357" stop-color="#12dcef"/><stop offset="0.393" stop-color="#12dcef"/><stop offset="0.429" stop-color="#12dcef"/><stop offset="0.464" stop-color="#12daef"/><stop offset="0.500" stop-color="#12d8ee"/><stop offset="0.536" stop-color="#12d5ee"/><stop offset="0.571" stop-color="#12d4ee"/><stop offset="0.607" stop-color="#12d6ee"/><stop offset="0.643" stop-color="#12d9ef"/><stop offset="0.679" stop-color="#12dbef"/><stop offset="0.714" stop-color="#12dcef"/><stop offset="0.750" stop-color="#12dcef"/><stop offset="0.786" stop-color="#12dcef"/><stop offset="0.821" stop-color="#12dbef"/><stop offset="0.857" stop-color="#12dbef"/><stop offset="0.893" stop-color="#12dbef"/><stop offset="0.929" stop-color="#12dcef"/><stop offset="0.964" stop-color="#12dcef"/><stop offset="1.000" stop-color="#12dcef"/></linearGradient><linearGradient id="e2_11" gradientUnits="userSpaceOnUse" x1="381.8" x2="547.9" y1="0" y2="0"><stop offset="0.000" stop-color="#12dbef"/><stop offset="0.036" stop-color="#12dbef"/><stop offset="0.071" stop-color="#12dbef"/><stop offset="0.107" stop-color="#12dbef"/><stop offset="0.143" stop-color="#12dbef"/><stop offset="0.179" stop-color="#12dbef"/><stop offset="0.214" stop-color="#12dbef"/><stop offset="0.250" stop-color="#12dbef"/><stop offset="0.286" stop-color="#12dbef"/><stop offset="0.321" stop-color="#12dbef"/><stop offset="0.357" stop-color="#12dbef"/><stop offset="0.393" stop-color="#12dbef"/><stop offset="0.429" stop-color="#12d9ef"/><stop offset="0.464" stop-color="#12d3ee"/><stop offset="0.500" stop-color="#12c9ed"/><stop offset="0.536" stop-color="#13bde9"/><stop offset="0.571" stop-color="#14b9e7"/><stop offset="0.607" stop-color="#12c3ec"/><stop offset="0.643" stop-color="#12ceed"/><stop offset="0.679" stop-color="#12d6ee"/><stop offset="0.714" stop-color="#12d9ef"/><stop offset="0.750" stop-color="#12d9ef"/><stop offset="0.786" stop-color="#12d7ee"/><stop offset="0.821" stop-color="#12d4ee"/><stop offset="0.857" stop-color="#12d3ee"/><stop offset="0.893" stop-color="#12d5ee"/><stop offset="0.929" stop-color="#12d8ee"/><stop offset="0.964" stop-color="#12daef"/><stop offset="1.000" stop-color="#12dbef"/></linearGradient><linearGradient id="e2_12" gradientUnits="userSpaceOnUse" x1="381.8" x2="547.9" y1="0" y2="0"><stop offset="0.000" stop-color="#12d9ef"/><stop offset="0.036" stop-color="#12d8ee"/><stop offset="0.071" stop-color="#12d6ee"/><stop offset="0.107" stop-color="#12d5ee"/><stop offset="0.143" stop-color="#12d6ee"/><stop offset="0.179" stop-color="#12d8ee"/><stop offset="0.214" stop-color="#12daef"/><stop offset="0.250" stop-color="#12dbef"/><stop offset="0.286" stop-color="#12dbef"/><stop offset="0.321" stop-color="#12dbef"/><stop offset="0.357" stop-color="#12dbef"/><stop offset="0.393" stop-color="#12daef"/><stop offset="0.429" stop-color="#12d7ee"/><stop offset="0.464" stop-color="#12cded"/><stop offset="0.500" stop-color="#14bae8"/><stop offset="0.536" stop-color="#19a1dd"/><stop offset="0.571" stop-color="#1a9bda"/><stop offset="0.607" stop-color="#17ace2"/><stop offset="0.643" stop-color="#12c6ec"/><stop offset="0.679" stop-color="#12d2ee"/><stop offset="0.714" stop-color="#12d6ee"/><stop offset="0.750" stop-color="#12d3ee"/><stop offset="0.786" stop-color="#12caed"/><stop offset="0.821" stop-color="#13bee9"/><stop offset="0.857" stop-color="#14b8e7"/><stop offset="0.893" stop-color="#12c2eb"/><stop offset="0.929" stop-color="#12cded"/><stop offset="0.964" stop-color="#12d5ee"/><stop offset="1.000" stop-color="#12d9ef"/></linearGradient><linearGradient id="e2_13" gradientUnits="userSpaceOnUse" x1="381.8" x2="547.9" y1="0" y2="0"><stop offset="0.000" stop-color="#12d6ee"/><stop offset="0.036" stop-color="#12cfed"/><stop offset="0.071" stop-color="#12c7ec"/><stop offset="0.107" stop-color="#12c3ec"/><stop offset="0.143" stop-color="#12c7ec"/><stop offset="0.179" stop-color="#12cfed"/><stop offset="0.214" stop-color="#12d6ee"/><stop offset="0.250" stop-color="#12daef"/><stop offset="0.286" stop-color="#12dbef"/><stop offset="0.321" stop-color="#12dcef"/><stop offset="0.357" stop-color="#12dbef"/><stop offset="0.393" stop-color="#12dbef"/><stop offset="0.429" stop-color="#12d8ef"/><stop offset="0.464" stop-color="#12d2ee"/><stop offset="0.500" stop-color="#12c6ec"/><stop offset="0.536" stop-color="#15b7e6"/><stop offset="0.571" stop-color="#15b2e4"/><stop offset="0.607" stop-color="#13bee9"/><stop offset="0.643" stop-color="#12cced"/><stop offset="0.679" stop-color="#12d4ee"/><stop offset="0.714" stop-color="#12d5ee"/><stop offset="0.750" stop-color="#12ceed"/><stop offset="0.786" stop-color="#14bce8"/><stop offset="0.821" stop-color="#18a2de"/><stop offset="0.857" stop-color="#1a9ada"/><stop offset="0.893" stop-color="#17a9e1"/><stop offset="0.929" stop-color="#12c4ec"/><stop offset="0.964" stop-color="#12d1ee"/><stop offset="1.000" stop-color="#12d8ee"/></linearGradient><linearGradient id="e2_14" gradientUnits="userSpaceOnUse" x1="381.8" x2="547.9" y1="0" y2="0"><stop offset="0.000" stop-color="#12d3ee"/><stop offset="0.036" stop-color="#12c8ed"/><stop offset="0.071" stop-color="#15b5e6"/><stop offset="0.107" stop-color="#17abe1"/><stop offset="0.143" stop-color="#15b4e5"/><stop offset="0.179" stop-color="#12c7ec"/><stop offset="0.214" stop-color="#12d4ee"/><stop offset="0.250" stop-color="#12daef"/><stop offset="0.286" stop-color="#12dcef"/><stop offset="0.321" stop-color="#12ddef"/><stop offset="0.357" stop-color="#12ddef"/><stop offset="0.393" stop-color="#12dcef"/><stop offset="0.429" stop-color="#12dbef"/><stop offset="0.464" stop-color="#12d9ef"/><stop offset="0.500" stop-color="#12d5ee"/><stop offset="0.536" stop-color="#12d2ee"/><stop offset="0.571" stop-color="#12d1ee"/><stop offset="0.607" stop-color="#12d3ee"/><stop offset="0.643" stop-color="#12d6ee"/><stop offset="0.679" stop-color="#12d8ef"/><stop offset="0.714" stop-color="#12d7ee"/><stop offset="0.750" stop-color="#12d1ee"/><stop offset="0.786" stop-color="#12c6ec"/><stop offset="0.821" stop-color="#15b5e6"/><stop offset="0.857" stop-color="#16afe3"/><stop offset="0.893" stop-color="#14bae8"/><stop offset="0.929" stop-color="#12caed"/><stop offset="0.964" stop-color="#12d3ee"/><stop offset="1.000" stop-color="#12d8ee"/></linearGradient><linearGradient id="e2_15" gradientUnits="userSpaceOnUse" x1="381.8" x2="547.9" y1="0" y2="0"><stop offset="0.000" stop-color="#12d7ee"/><stop offset="0.036" stop-color="#12cfed"/><stop offset="0.071" stop-color="#12c6ec"/><stop offset="0.107" stop-color="#13bfea"/><stop offset="0.143" stop-color="#12c6ec"/><stop offset="0.179" stop-color="#12d0ed"/><stop offset="0.214" stop-color="#12d9ef"/><stop offset="0.250" stop-color="#12ddef"/><stop offset="0.286" stop-color="#12dfef"/><stop offset="0.321" stop-color="#12dfef"/><stop offset="0.357" stop-color="#12deef"/><stop offset="0.393" stop-color="#12deef"/><stop offset="0.429" stop-color="#12ddef"/><stop offset="0.464" stop-color="#12ddef"/><stop offset="0.500" stop-color="#12dbef"/><stop offset="0.536" stop-color="#12dbef"/><stop offset="0.571" stop-color="#12daef"/><stop offset="0.607" stop-color="#12daef"/><stop offset="0.643" stop-color="#12daef"/><stop offset="0.679" stop-color="#12daef"/><stop offset="0.714" stop-color="#12d9ef"/><stop offset="0.750" stop-color="#12d7ee"/><stop offset="0.786" stop-color="#12d3ee"/><stop offset="0.821" stop-color="#12d0ed"/><stop offset="0.857" stop-color="#12ceed"/><stop offset="0.893" stop-color="#12d0ee"/><stop offset="0.929" stop-color="#12d4ee"/><stop offset="0.964" stop-color="#12d7ee"/><stop offset="1.000" stop-color="#12d8ee"/></linearGradient><linearGradient id="e2_16" gradientUnits="userSpaceOnUse" x1="381.8" x2="547.9" y1="0" y2="0"><stop offset="0.000" stop-color="#12e0f0"/><stop offset="0.036" stop-color="#12deef"/><stop offset="0.071" stop-color="#12dcef"/><stop offset="0.107" stop-color="#12dbef"/><stop offset="0.143" stop-color="#12ddef"/><stop offset="0.179" stop-color="#12e0ef"/><stop offset="0.214" stop-color="#12e3f0"/><stop offset="0.250" stop-color="#12e3ef"/><stop offset="0.286" stop-color="#12e3ef"/><stop offset="0.321" stop-color="#12e3f0"/><stop offset="0.357" stop-color="#12e3f0"/><stop offset="0.393" stop-color="#12e1f0"/><stop offset="0.429" stop-color="#12e0f0"/><stop offset="0.464" stop-color="#12dfef"/><stop offset="0.500" stop-color="#12deef"/><stop offset="0.536" stop-color="#12ddef"/><stop offset="0.571" stop-color="#12dcef"/><stop offset="0.607" stop-color="#12dbef"/><stop offset="0.643" stop-color="#12daef"/><stop offset="0.679" stop-color="#12d9ef"/><stop offset="0.714" stop-color="#12d8ef"/><stop offset="0.750" stop-color="#12d7ee"/><stop offset="0.786" stop-color="#12d7ee"/><stop offset="0.821" stop-color="#12d6ee"/><stop offset="0.857" stop-color="#12d5ee"/><stop offset="0.893" stop-color="#12d5ee"/><stop offset="0.929" stop-color="#12d5ee"/><stop offset="0.964" stop-color="#12d5ee"/><stop offset="1.000" stop-color="#12d5ee"/></linearGradient><linearGradient id="e2_17" gradientUnits="userSpaceOnUse" x1="381.8" x2="547.9" y1="0" y2="0"><stop offset="0.000" stop-color="#11d6d5"/><stop offset="0.036" stop-color="#11d5d3"/><stop offset="0.071" stop-color="#11d4d2"/><stop offset="0.107" stop-color="#11d3cf"/><stop offset="0.143" stop-color="#11d2cd"/><stop offset="0.179" stop-color="#11d1cc"/><stop offset="0.214" stop-color="#11d1cb"/><stop offset="0.250" stop-color="#11d0cb"/><stop offset="0.286" stop-color="#11d2ce"/><stop offset="0.321" stop-color="#11d6d4"/><stop offset="0.357" stop-color="#12d9db"/><stop offset="0.393" stop-color="#12dce2"/><stop offset="0.429" stop-color="#12e0e9"/><stop offset="0.464" stop-color="#12e4f0"/><stop offset="0.500" stop-color="#12e1f0"/><stop offset="0.536" stop-color="#12dfef"/><stop offset="0.571" stop-color="#12ddef"/><stop offset="0.607" stop-color="#12dbef"/><stop offset="0.643" stop-color="#12daef"/><stop offset="0.679" stop-color="#12d8ef"/><stop offset="0.714" stop-color="#12d7ee"/><stop offset="0.750" stop-color="#12d6ee"/><stop offset="0.786" stop-color="#12d5ee"/><stop offset="0.821" stop-color="#12d4ee"/><stop offset="0.857" stop-color="#12d3ee"/><stop offset="0.893" stop-color="#12d1ee"/><stop offset="0.929" stop-color="#12cfed"/><stop offset="0.964" stop-color="#12cded"/><stop offset="1.000" stop-color="#12ceed"/></linearGradient><linearGradient id="e2_18" gradientUnits="userSpaceOnUse" x1="381.8" x2="547.9" y1="0" y2="0"><stop offset="0.000" stop-color="#10b99d"/><stop offset="0.036" stop-color="#10b799"/><stop offset="0.071" stop-color="#10b596"/><stop offset="0.107" stop-color="#10b393"/><stop offset="0.143" stop-color="#10b392"/><stop offset="0.179" stop-color="#10b392"/><stop offset="0.214" stop-color="#10b393"/><stop offset="0.250" stop-color="#10b393"/><stop offset="0.286" stop-color="#10b698"/><stop offset="0.321" stop-color="#10bca4"/><stop offset="0.357" stop-color="#11c2b0"/><stop offset="0.393" stop-color="#11c9bc"/><stop offset="0.429" stop-color="#11d0ca"/><stop offset="0.464" stop-color="#11d7d7"/><stop offset="0.500" stop-color="#12dfe7"/><stop offset="0.536" stop-color="#12e3f0"/><stop offset="0.571" stop-color="#12dfef"/><stop offset="0.607" stop-color="#12dbef"/><stop offset="0.643" stop-color="#12d8ee"/><stop offset="0.679" stop-color="#12d6ee"/><stop offset="0.714" stop-color="#12d5ee"/><stop offset="0.750" stop-color="#12d3ee"/><stop offset="0.786" stop-color="#12d2ee"/><stop offset="0.821" stop-color="#12d0ee"/><stop offset="0.857" stop-color="#12cded"/><stop offset="0.893" stop-color="#12c6ec"/><stop offset="0.929" stop-color="#14bae8"/><stop offset="0.964" stop-color="#15b2e4"/><stop offset="1.000" stop-color="#15b6e6"/></linearGradient><linearGradient id="e2_19" gradientUnits="userSpaceOnUse" x1="381.8" x2="547.9" y1="0" y2="0"><stop offset="0.000" stop-color="#109d6c"/><stop offset="0.036" stop-color="#109a67"/><stop offset="0.071" stop-color="#109864"/><stop offset="0.107" stop-color="#129660"/><stop offset="0.143" stop-color="#15965f"/><stop offset="0.179" stop-color="#14965f"/><stop offset="0.214" stop-color="#13965f"/><stop offset="0.250" stop-color="#129660"/><stop offset="0.286" stop-color="#109a66"/><stop offset="0.321" stop-color="#10a174"/><stop offset="0.357" stop-color="#10a981"/><stop offset="0.393" stop-color="#10b18f"/><stop offset="0.429" stop-color="#10bba1"/><stop offset="0.464" stop-color="#11c6b7"/><stop offset="0.500" stop-color="#11d4d2"/><stop offset="0.536" stop-color="#12e2ec"/><stop offset="0.571" stop-color="#12dbef"/><stop offset="0.607" stop-color="#12d2ee"/><stop offset="0.643" stop-color="#12cfed"/><stop offset="0.679" stop-color="#12d0ed"/><stop offset="0.714" stop-color="#12d0ee"/><stop offset="0.750" stop-color="#12d0ee"/><stop offset="0.786" stop-color="#12d0ed"/><stop offset="0.821" stop-color="#12cded"/><stop offset="0.857" stop-color="#12c6ec"/><stop offset="0.893" stop-color="#15b4e5"/><stop offset="0.929" stop-color="#1a9cdb"/><stop offset="0.964" stop-color="#1a93d5"/><stop offset="1.000" stop-color="#1a97d8"/></linearGradient><linearGradient id="e2_20" gradientUnits="userSpaceOnUse" x1="381.8" x2="547.9" y1="0" y2="0"><stop offset="0.000" stop-color="#32965a"/><stop offset="0.036" stop-color="#3e9658"/><stop offset="0.071" stop-color="#499656"/><stop offset="0.107" stop-color="#579654"/><stop offset="0.143" stop-color="#5e9653"/><stop offset="0.179" stop-color="#5e9653"/><stop offset="0.214" stop-color="#5e9653"/><stop offset="0.250" stop-color="#5e9653"/><stop offset="0.286" stop-color="#4f9655"/><stop offset="0.321" stop-color="#35965a"/><stop offset="0.357" stop-color="#1b965e"/><stop offset="0.393" stop-color="#109c6b"/><stop offset="0.429" stop-color="#10a87f"/><stop offset="0.464" stop-color="#10b596"/><stop offset="0.500" stop-color="#11c9bc"/><stop offset="0.536" stop-color="#12dfe7"/><stop offset="0.571" stop-color="#12d6ee"/><stop offset="0.607" stop-color="#12c8ec"/><stop offset="0.643" stop-color="#12c4ec"/><stop offset="0.679" stop-color="#12c8ec"/><stop offset="0.714" stop-color="#12cced"/><stop offset="0.750" stop-color="#12ceed"/><stop offset="0.786" stop-color="#12ceed"/><stop offset="0.821" stop-color="#12cbed"/><stop offset="0.857" stop-color="#12c5ec"/><stop offset="0.893" stop-color="#15b5e5"/><stop offset="0.929" stop-color="#19a0dd"/><stop offset="0.964" stop-color="#1a96d7"/><stop offset="1.000" stop-color="#1a99d9"/></linearGradient><linearGradient id="e2_21" gradientUnits="userSpaceOnUse" x1="381.8" x2="547.9" y1="0" y2="0"><stop offset="0.000" stop-color="#3a9659"/><stop offset="0.036" stop-color="#509655"/><stop offset="0.071" stop-color="#679651"/><stop offset="0.107" stop-color="#829954"/><stop offset="0.143" stop-color="#919c58"/><stop offset="0.179" stop-color="#949c59"/><stop offset="0.214" stop-color="#989d59"/><stop offset="0.250" stop-color="#9b9e5a"/><stop offset="0.286" stop-color="#8d9b57"/><stop offset="0.321" stop-color="#729751"/><stop offset="0.357" stop-color="#569654"/><stop offset="0.393" stop-color="#389659"/><stop offset="0.429" stop-color="#129660"/><stop offset="0.464" stop-color="#10a478"/><stop offset="0.500" stop-color="#10b699"/><stop offset="0.536" stop-color="#11cec6"/><stop offset="0.571" stop-color="#12e1f0"/><stop offset="0.607" stop-color="#12d2ee"/><stop offset="0.643" stop-color="#12cded"/><stop offset="0.679" stop-color="#12ceed"/><stop offset="0.714" stop-color="#12cfed"/><stop offset="0.750" stop-color="#12cfed"/><stop offset="0.786" stop-color="#12ceed"/><stop offset="0.821" stop-color="#12cced"/><stop offset="0.857" stop-color="#12c8ec"/><stop offset="0.893" stop-color="#12c2eb"/><stop offset="0.929" stop-color="#14b8e7"/><stop offset="0.964" stop-color="#16b0e4"/><stop offset="1.000" stop-color="#16b0e4"/></linearGradient><linearGradient id="e2_22" gradientUnits="userSpaceOnUse" x1="381.8" x2="547.9" y1="0" y2="0"><stop offset="0.000" stop-color="#13965f"/><stop offset="0.036" stop-color="#389659"/><stop offset="0.071" stop-color="#649652"/><stop offset="0.107" stop-color="#969d59"/><stop offset="0.143" stop-color="#b3a260"/><stop offset="0.179" stop-color="#bda362"/><stop offset="0.214" stop-color="#c8a564"/><stop offset="0.250" stop-color="#d2a767"/><stop offset="0.286" stop-color="#c7a564"/><stop offset="0.321" stop-color="#ada15e"/><stop offset="0.357" stop-color="#939c58"/><stop offset="0.393" stop-color="#749751"/><stop offset="0.429" stop-color="#4b9656"/><stop offset="0.464" stop-color="#20965d"/><stop offset="0.500" stop-color="#10a377"/><stop offset="0.536" stop-color="#10b495"/><stop offset="0.571" stop-color="#11cabd"/><stop offset="0.607" stop-color="#12dde3"/><stop offset="0.643" stop-color="#12e0ef"/><stop offset="0.679" stop-color="#12dbef"/><stop offset="0.714" stop-color="#12d5ee"/><stop offset="0.750" stop-color="#12d1ee"/><stop offset="0.786" stop-color="#12cfed"/><stop offset="0.821" stop-color="#12cced"/><stop offset="0.857" stop-color="#12c9ed"/><stop offset="0.893" stop-color="#12c5ec"/><stop offset="0.929" stop-color="#13c0ea"/><stop offset="0.964" stop-color="#14bbe8"/><stop offset="1.000" stop-color="#14b8e7"/></linearGradient><linearGradient id="e2_23" gradientUnits="userSpaceOnUse" x1="381.8" x2="547.9" y1="0" y2="0"><stop offset="0.000" stop-color="#26965c"/><stop offset="0.036" stop-color="#619652"/><stop offset="0.071" stop-color="#a8a05d"/><stop offset="0.107" stop-color="#dc9a5c"/><stop offset="0.143" stop-color="#e2864b"/><stop offset="0.179" stop-color="#e47e44"/><stop offset="0.214" stop-color="#e6763d"/><stop offset="0.250" stop-color="#e76e36"/><stop offset="0.286" stop-color="#e87038"/><stop offset="0.321" stop-color="#e57a41"/><stop offset="0.357" stop-color="#e2854a"/><stop offset="0.393" stop-color="#de9155"/><stop offset="0.429" stop-color="#d9a565"/><stop offset="0.464" stop-color="#b0a15f"/><stop offset="0.500" stop-color="#799853"/><stop offset="0.536" stop-color="#459657"/><stop offset="0.571" stop-color="#13965f"/><stop offset="0.607" stop-color="#10a77e"/><stop offset="0.643" stop-color="#10b596"/><stop offset="0.679" stop-color="#11c3b2"/><stop offset="0.714" stop-color="#11d2ce"/><stop offset="0.750" stop-color="#12dde2"/><stop offset="0.786" stop-color="#12e2ed"/><stop offset="0.821" stop-color="#12e1f0"/><stop offset="0.857" stop-color="#12deef"/><stop offset="0.893" stop-color="#12daef"/><stop offset="0.929" stop-color="#12d6ee"/><stop offset="0.964" stop-color="#12d2ee"/><stop offset="1.000" stop-color="#12ceed"/></linearGradient><linearGradient id="e2_24" gradientUnits="userSpaceOnUse" x1="381.8" x2="547.9" y1="0" y2="0"><stop offset="0.000" stop-color="#2c965b"/><stop offset="0.036" stop-color="#7e9954"/><stop offset="0.071" stop-color="#d9a364"/><stop offset="0.107" stop-color="#e7743b"/><stop offset="0.143" stop-color="#e05023"/><stop offset="0.179" stop-color="#dc421a"/><stop offset="0.214" stop-color="#d83311"/><stop offset="0.250" stop-color="#d2280b"/><stop offset="0.286" stop-color="#d2280b"/><stop offset="0.321" stop-color="#d73110"/><stop offset="0.357" stop-color="#db3e17"/><stop offset="0.393" stop-color="#df4e22"/><stop offset="0.429" stop-color="#e66a34"/><stop offset="0.464" stop-color="#e38247"/><stop offset="0.500" stop-color="#db9d5f"/><stop offset="0.536" stop-color="#b2a25f"/><stop offset="0.571" stop-color="#779852"/><stop offset="0.607" stop-color="#3b9659"/><stop offset="0.643" stop-color="#109762"/><stop offset="0.679" stop-color="#10a77d"/><stop offset="0.714" stop-color="#10b698"/><stop offset="0.750" stop-color="#11c4b2"/><stop offset="0.786" stop-color="#11cabf"/><stop offset="0.821" stop-color="#11d1cd"/><stop offset="0.857" stop-color="#11d8da"/><stop offset="0.893" stop-color="#12dfe7"/><stop offset="0.929" stop-color="#12e2f0"/><stop offset="0.964" stop-color="#12ddef"/><stop offset="1.000" stop-color="#12d8ef"/></linearGradient><linearGradient id="e2_25" gradientUnits="userSpaceOnUse" x1="381.8" x2="547.9" y1="0" y2="0"><stop offset="0.000" stop-color="#15965f"/><stop offset="0.036" stop-color="#799853"/><stop offset="0.071" stop-color="#db9c5e"/><stop offset="0.107" stop-color="#e35f2d"/><stop offset="0.143" stop-color="#d83310"/><stop offset="0.179" stop-color="#d0260a"/><stop offset="0.214" stop-color="#c51c07"/><stop offset="0.250" stop-color="#bb1304"/><stop offset="0.286" stop-color="#bb1203"/><stop offset="0.321" stop-color="#c21906"/><stop offset="0.357" stop-color="#c91f08"/><stop offset="0.393" stop-color="#d2290b"/><stop offset="0.429" stop-color="#dd451c"/><stop offset="0.464" stop-color="#e56430"/><stop offset="0.500" stop-color="#e2854a"/><stop offset="0.536" stop-color="#d9a465"/><stop offset="0.571" stop-color="#9d9e5b"/><stop offset="0.607" stop-color="#599654"/><stop offset="0.643" stop-color="#23965d"/><stop offset="0.679" stop-color="#10a072"/><stop offset="0.714" stop-color="#10b291"/><stop offset="0.750" stop-color="#10c1ac"/><stop offset="0.786" stop-color="#11c9bc"/><stop offset="0.821" stop-color="#11d1cb"/><stop offset="0.857" stop-color="#12d9da"/><stop offset="0.893" stop-color="#12e1ea"/><stop offset="0.929" stop-color="#12e0f0"/><stop offset="0.964" stop-color="#12daef"/><stop offset="1.000" stop-color="#12d5ee"/></linearGradient><linearGradient id="e2_26" gradientUnits="userSpaceOnUse" x1="381.8" x2="547.9" y1="0" y2="0"><stop offset="0.000" stop-color="#109d6c"/><stop offset="0.036" stop-color="#669651"/><stop offset="0.071" stop-color="#daa162"/><stop offset="0.107" stop-color="#e4622f"/><stop offset="0.143" stop-color="#d83411"/><stop offset="0.179" stop-color="#d0260a"/><stop offset="0.214" stop-color="#c51c07"/><stop offset="0.250" stop-color="#bb1203"/><stop offset="0.286" stop-color="#ba1103"/><stop offset="0.321" stop-color="#c01805"/><stop offset="0.357" stop-color="#c71e07"/><stop offset="0.393" stop-color="#d1270a"/><stop offset="0.429" stop-color="#dc421a"/><stop offset="0.464" stop-color="#e4622f"/><stop offset="0.500" stop-color="#e28449"/><stop offset="0.536" stop-color="#d9a364"/><stop offset="0.571" stop-color="#9d9e5b"/><stop offset="0.607" stop-color="#579654"/><stop offset="0.643" stop-color="#20965d"/><stop offset="0.679" stop-color="#10a275"/><stop offset="0.714" stop-color="#10b494"/><stop offset="0.750" stop-color="#11c3b1"/><stop offset="0.786" stop-color="#11cbc1"/><stop offset="0.821" stop-color="#11d3d0"/><stop offset="0.857" stop-color="#12dce0"/><stop offset="0.893" stop-color="#12e4f0"/><stop offset="0.929" stop-color="#12deef"/><stop offset="0.964" stop-color="#12d8ef"/><stop offset="1.000" stop-color="#12d2ee"/></linearGradient><linearGradient id="e2_27" gradientUnits="userSpaceOnUse" x1="381.8" x2="547.9" y1="0" y2="0"><stop offset="0.000" stop-color="#10a77d"/><stop offset="0.036" stop-color="#409658"/><stop offset="0.071" stop-color="#b6a260"/><stop offset="0.107" stop-color="#e47f45"/><stop offset="0.143" stop-color="#e25929"/><stop offset="0.179" stop-color="#dd481e"/><stop offset="0.214" stop-color="#d93713"/><stop offset="0.250" stop-color="#d2290b"/><stop offset="0.286" stop-color="#d2280b"/><stop offset="0.321" stop-color="#d72e0e"/><stop offset="0.357" stop-color="#d93914"/><stop offset="0.393" stop-color="#dd481e"/><stop offset="0.429" stop-color="#e56430"/><stop offset="0.464" stop-color="#e47e44"/><stop offset="0.500" stop-color="#dc9a5c"/><stop offset="0.536" stop-color="#b6a260"/><stop offset="0.571" stop-color="#789852"/><stop offset="0.607" stop-color="#389659"/><stop offset="0.643" stop-color="#109966"/><stop offset="0.679" stop-color="#10a982"/><stop offset="0.714" stop-color="#10ba9f"/><stop offset="0.750" stop-color="#11c8ba"/><stop offset="0.786" stop-color="#11cfc8"/><stop offset="0.821" stop-color="#11d6d6"/><stop offset="0.857" stop-color="#12dee4"/><stop offset="0.893" stop-color="#12e3f0"/><stop offset="0.929" stop-color="#12deef"/><stop offset="0.964" stop-color="#12d9ef"/><stop offset="1.000" stop-color="#12d3ee"/></linearGradient><linearGradient id="e2_28" gradientUnits="userSpaceOnUse" x1="381.8" x2="547.9" y1="0" y2="0"><stop offset="0.000" stop-color="#11c9bc"/><stop offset="0.036" stop-color="#10aa83"/><stop offset="0.071" stop-color="#379659"/><stop offset="0.107" stop-color="#a19f5b"/><stop offset="0.143" stop-color="#d9a465"/><stop offset="0.179" stop-color="#dc995b"/><stop offset="0.214" stop-color="#df8e52"/><stop offset="0.250" stop-color="#e38348"/><stop offset="0.286" stop-color="#e38247"/><stop offset="0.321" stop-color="#e1894d"/><stop offset="0.357" stop-color="#df8f53"/><stop offset="0.393" stop-color="#dc995b"/><stop offset="0.429" stop-color="#d1a766"/><stop offset="0.464" stop-color="#a59f5c"/><stop offset="0.500" stop-color="#709650"/><stop offset="0.536" stop-color="#399659"/><stop offset="0.571" stop-color="#109a66"/><stop offset="0.607" stop-color="#10ac87"/><stop offset="0.643" stop-color="#10bba2"/><stop offset="0.679" stop-color="#11cabf"/><stop offset="0.714" stop-color="#12d9db"/><stop offset="0.750" stop-color="#12e4f0"/><stop offset="0.786" stop-color="#12e0f0"/><stop offset="0.821" stop-color="#12ddef"/><stop offset="0.857" stop-color="#12d9ef"/><stop offset="0.893" stop-color="#12d5ee"/><stop offset="0.929" stop-color="#12d1ee"/><stop offset="0.964" stop-color="#12cded"/><stop offset="1.000" stop-color="#12c9ed"/></linearGradient><linearGradient id="e2_29" gradientUnits="userSpaceOnUse" x1="381.8" x2="547.9" y1="0" y2="0"><stop offset="0.000" stop-color="#12ceed"/><stop offset="0.036" stop-color="#12ddef"/><stop offset="0.071" stop-color="#11d2ce"/><stop offset="0.107" stop-color="#10b291"/><stop offset="0.143" stop-color="#10a173"/><stop offset="0.179" stop-color="#109a67"/><stop offset="0.214" stop-color="#18965f"/><stop offset="0.250" stop-color="#2b965b"/><stop offset="0.286" stop-color="#2d965b"/><stop offset="0.321" stop-color="#22965d"/><stop offset="0.357" stop-color="#17965f"/><stop offset="0.393" stop-color="#109a67"/><stop offset="0.429" stop-color="#10a57b"/><stop offset="0.464" stop-color="#10b18f"/><stop offset="0.500" stop-color="#10c1ad"/><stop offset="0.536" stop-color="#11d2cd"/><stop offset="0.571" stop-color="#12e1eb"/><stop offset="0.607" stop-color="#12dcef"/><stop offset="0.643" stop-color="#12d4ee"/><stop offset="0.679" stop-color="#12cded"/><stop offset="0.714" stop-color="#12c7ec"/><stop offset="0.750" stop-color="#13c1eb"/><stop offset="0.786" stop-color="#13bde9"/><stop offset="0.821" stop-color="#14b9e7"/><stop offset="0.857" stop-color="#15b5e6"/><stop offset="0.893" stop-color="#15b2e4"/><stop offset="0.929" stop-color="#16ade2"/><stop offset="0.964" stop-color="#17a9e0"/><stop offset="1.000" stop-color="#18a5df"/></linearGradient><linearGradient id="e2_30" gradientUnits="userSpaceOnUse" x1="381.8" x2="547.9" y1="0" y2="0"><stop offset="0.000" stop-color="#18a7df"/><stop offset="0.036" stop-color="#15b5e5"/><stop offset="0.071" stop-color="#12c6ec"/><stop offset="0.107" stop-color="#12d3ee"/><stop offset="0.143" stop-color="#12dbef"/><stop offset="0.179" stop-color="#12dfef"/><stop offset="0.214" stop-color="#12e2f0"/><stop offset="0.250" stop-color="#12e2ec"/><stop offset="0.286" stop-color="#12e1eb"/><stop offset="0.321" stop-color="#12e4f0"/><stop offset="0.357" stop-color="#12e2f0"/><stop offset="0.393" stop-color="#12dfef"/><stop offset="0.429" stop-color="#12d9ef"/><stop offset="0.464" stop-color="#12d3ee"/><stop offset="0.500" stop-color="#12cded"/><stop offset="0.536" stop-color="#12c6ec"/><stop offset="0.571" stop-color="#13bde9"/><stop offset="0.607" stop-color="#15b4e5"/><stop offset="0.643" stop-color="#16ade2"/><stop offset="0.679" stop-color="#18a6df"/><stop offset="0.714" stop-color="#19a0dd"/><stop offset="0.750" stop-color="#1a9bdb"/><stop offset="0.786" stop-color="#1a99da"/><stop offset="0.821" stop-color="#1a98d9"/><stop offset="0.857" stop-color="#1a97d8"/><stop offset="0.893" stop-color="#1a95d7"/><stop offset="0.929" stop-color="#1a94d6"/><stop offset="0.964" stop-color="#1992d4"/><stop offset="1.000" stop-color="#1991d3"/></linearGradient><linearGradient id="e2_31" gradientUnits="userSpaceOnUse" x1="381.8" x2="547.9" y1="0" y2="0"><stop offset="0.000" stop-color="#19a0dd"/><stop offset="0.036" stop-color="#17a9e0"/><stop offset="0.071" stop-color="#15b3e5"/><stop offset="0.107" stop-color="#13bfea"/><stop offset="0.143" stop-color="#12c6ec"/><stop offset="0.179" stop-color="#12c8ec"/><stop offset="0.214" stop-color="#12caed"/><stop offset="0.250" stop-color="#12cced"/><stop offset="0.286" stop-color="#12cced"/><stop offset="0.321" stop-color="#12cbed"/><stop offset="0.357" stop-color="#12c9ed"/><stop offset="0.393" stop-color="#12c8ec"/><stop offset="0.429" stop-color="#12c4ec"/><stop offset="0.464" stop-color="#13bfea"/><stop offset="0.500" stop-color="#14b9e7"/><stop offset="0.536" stop-color="#15b3e5"/><stop offset="0.571" stop-color="#16aee2"/><stop offset="0.607" stop-color="#17a8e0"/><stop offset="0.643" stop-color="#18a4de"/><stop offset="0.679" stop-color="#19a0dd"/><stop offset="0.714" stop-color="#1a9cdb"/><stop offset="0.750" stop-color="#1a9ada"/><stop offset="0.786" stop-color="#1a99d9"/><stop offset="0.821" stop-color="#1a98d9"/><stop offset="0.857" stop-color="#1a97d8"/><stop offset="0.893" stop-color="#1a97d8"/><stop offset="0.929" stop-color="#1a96d7"/><stop offset="0.964" stop-color="#1a95d6"/><stop offset="1.000" stop-color="#1a94d6"/></linearGradient><linearGradient id="e2_32" gradientUnits="userSpaceOnUse" x1="381.8" x2="547.9" y1="0" y2="0"><stop offset="0.000" stop-color="#198dd1"/><stop offset="0.036" stop-color="#1990d3"/><stop offset="0.071" stop-color="#1a94d5"/><stop offset="0.107" stop-color="#1a98d8"/><stop offset="0.143" stop-color="#1a9ada"/><stop offset="0.179" stop-color="#1a9cdb"/><stop offset="0.214" stop-color="#199edc"/><stop offset="0.250" stop-color="#19a0dd"/><stop offset="0.286" stop-color="#19a0dd"/><stop offset="0.321" stop-color="#199fdc"/><stop offset="0.357" stop-color="#199edc"/><stop offset="0.393" stop-color="#1a9cdb"/><stop offset="0.429" stop-color="#1a9ada"/><stop offset="0.464" stop-color="#1a98d8"/><stop offset="0.500" stop-color="#1a96d7"/><stop offset="0.536" stop-color="#1a94d6"/><stop offset="0.571" stop-color="#1992d4"/><stop offset="0.607" stop-color="#1990d3"/><stop offset="0.643" stop-color="#198fd2"/><stop offset="0.679" stop-color="#198dd1"/><stop offset="0.714" stop-color="#198cd0"/><stop offset="0.750" stop-color="#198bcf"/><stop offset="0.786" stop-color="#198bcf"/><stop offset="0.821" stop-color="#198acf"/><stop offset="0.857" stop-color="#198ace"/><stop offset="0.893" stop-color="#1989ce"/><stop offset="0.929" stop-color="#1989ce"/><stop offset="0.964" stop-color="#1988cd"/><stop offset="1.000" stop-color="#1988cd"/></linearGradient><linearGradient id="e2_33" gradientUnits="userSpaceOnUse" x1="381.8" x2="547.9" y1="0" y2="0"><stop offset="0.000" stop-color="#1779c2"/><stop offset="0.036" stop-color="#177ac3"/><stop offset="0.071" stop-color="#187cc4"/><stop offset="0.107" stop-color="#187ec6"/><stop offset="0.143" stop-color="#1880c7"/><stop offset="0.179" stop-color="#1880c8"/><stop offset="0.214" stop-color="#1881c8"/><stop offset="0.250" stop-color="#1882c9"/><stop offset="0.286" stop-color="#1882c9"/><stop offset="0.321" stop-color="#1881c8"/><stop offset="0.357" stop-color="#1881c8"/><stop offset="0.393" stop-color="#1880c8"/><stop offset="0.429" stop-color="#187fc7"/><stop offset="0.464" stop-color="#187ec6"/><stop offset="0.500" stop-color="#187dc5"/><stop offset="0.536" stop-color="#187cc4"/><stop offset="0.571" stop-color="#177bc4"/><stop offset="0.607" stop-color="#177ac3"/><stop offset="0.643" stop-color="#177ac2"/><stop offset="0.679" stop-color="#1779c2"/><stop offset="0.714" stop-color="#1779c1"/><stop offset="0.750" stop-color="#1778c1"/><stop offset="0.786" stop-color="#1778c1"/><stop offset="0.821" stop-color="#1778c1"/><stop offset="0.857" stop-color="#1777c0"/><stop offset="0.893" stop-color="#1777c0"/><stop offset="0.929" stop-color="#1777c0"/><stop offset="0.964" stop-color="#1777c0"/><stop offset="1.000" stop-color="#1777c0"/></linearGradient><linearGradient id="e2_34" gradientUnits="userSpaceOnUse" x1="381.8" x2="547.9" y1="0" y2="0"><stop offset="0.000" stop-color="#146cb6"/><stop offset="0.036" stop-color="#156db7"/><stop offset="0.071" stop-color="#156eb8"/><stop offset="0.107" stop-color="#156fb9"/><stop offset="0.143" stop-color="#1570ba"/><stop offset="0.179" stop-color="#1570ba"/><stop offset="0.214" stop-color="#1571bb"/><stop offset="0.250" stop-color="#1571bb"/><stop offset="0.286" stop-color="#1571bb"/><stop offset="0.321" stop-color="#1571bb"/><stop offset="0.357" stop-color="#1571ba"/><stop offset="0.393" stop-color="#1570ba"/><stop offset="0.429" stop-color="#1570ba"/><stop offset="0.464" stop-color="#156fb9"/><stop offset="0.500" stop-color="#156fb9"/><stop offset="0.536" stop-color="#156eb8"/><stop offset="0.571" stop-color="#156db8"/><stop offset="0.607" stop-color="#156db7"/><stop offset="0.643" stop-color="#146cb7"/><stop offset="0.679" stop-color="#146cb6"/><stop offset="0.714" stop-color="#146cb6"/><stop offset="0.750" stop-color="#146bb6"/><stop offset="0.786" stop-color="#146bb6"/><stop offset="0.821" stop-color="#146bb6"/><stop offset="0.857" stop-color="#146bb5"/><stop offset="0.893" stop-color="#146bb5"/><stop offset="0.929" stop-color="#146bb5"/><stop offset="0.964" stop-color="#146ab5"/><stop offset="1.000" stop-color="#146ab5"/></linearGradient><linearGradient id="e2_35" gradientUnits="userSpaceOnUse" x1="381.8" x2="547.9" y1="0" y2="0"><stop offset="0.000" stop-color="#1469b4"/><stop offset="0.036" stop-color="#1469b4"/><stop offset="0.071" stop-color="#146ab5"/><stop offset="0.107" stop-color="#146bb6"/><stop offset="0.143" stop-color="#146cb6"/><stop offset="0.179" stop-color="#146cb6"/><stop offset="0.214" stop-color="#146cb6"/><stop offset="0.250" stop-color="#146cb7"/><stop offset="0.286" stop-color="#146cb7"/><stop offset="0.321" stop-color="#146cb7"/><stop offset="0.357" stop-color="#146cb6"/><stop offset="0.393" stop-color="#146cb6"/><stop offset="0.429" stop-color="#146bb6"/><stop offset="0.464" stop-color="#146bb6"/><stop offset="0.500" stop-color="#146bb5"/><stop offset="0.536" stop-color="#146ab5"/><stop offset="0.571" stop-color="#146ab5"/><stop offset="0.607" stop-color="#1469b4"/><stop offset="0.643" stop-color="#1469b4"/><stop offset="0.679" stop-color="#1469b4"/><stop offset="0.714" stop-color="#1469b3"/><stop offset="0.750" stop-color="#1468b3"/><stop offset="0.786" stop-color="#1468b3"/><stop offset="0.821" stop-color="#1468b3"/><stop offset="0.857" stop-color="#1468b3"/><stop offset="0.893" stop-color="#1468b3"/><stop offset="0.929" stop-color="#1468b3"/><stop offset="0.964" stop-color="#1468b3"/><stop offset="1.000" stop-color="#1468b3"/></linearGradient><linearGradient id="e2_36" gradientUnits="userSpaceOnUse" x1="381.8" x2="547.9" y1="0" y2="0"><stop offset="0.000" stop-color="#146bb5"/><stop offset="0.036" stop-color="#146bb6"/><stop offset="0.071" stop-color="#146cb6"/><stop offset="0.107" stop-color="#146cb7"/><stop offset="0.143" stop-color="#156db7"/><stop offset="0.179" stop-color="#156db7"/><stop offset="0.214" stop-color="#156db7"/><stop offset="0.250" stop-color="#156db7"/><stop offset="0.286" stop-color="#156db7"/><stop offset="0.321" stop-color="#156db7"/><stop offset="0.357" stop-color="#156db7"/><stop offset="0.393" stop-color="#156db7"/><stop offset="0.429" stop-color="#146cb7"/><stop offset="0.464" stop-color="#146cb7"/><stop offset="0.500" stop-color="#146cb6"/><stop offset="0.536" stop-color="#146cb6"/><stop offset="0.571" stop-color="#146bb6"/><stop offset="0.607" stop-color="#146bb6"/><stop offset="0.643" stop-color="#146bb5"/><stop offset="0.679" stop-color="#146bb5"/><stop offset="0.714" stop-color="#146ab5"/><stop offset="0.750" stop-color="#146ab5"/><stop offset="0.786" stop-color="#146ab5"/><stop offset="0.821" stop-color="#146ab5"/><stop offset="0.857" stop-color="#146ab5"/><stop offset="0.893" stop-color="#146ab5"/><stop offset="0.929" stop-color="#146ab5"/><stop offset="0.964" stop-color="#146ab5"/><stop offset="1.000" stop-color="#146ab5"/></linearGradient><linearGradient id="e2_37" gradientUnits="userSpaceOnUse" x1="381.8" x2="547.9" y1="0" y2="0"><stop offset="0.000" stop-color="#1365b0"/><stop offset="0.036" stop-color="#1365b0"/><stop offset="0.071" stop-color="#1365b1"/><stop offset="0.107" stop-color="#1366b1"/><stop offset="0.143" stop-color="#1366b1"/><stop offset="0.179" stop-color="#1366b1"/><stop offset="0.214" stop-color="#1366b1"/><stop offset="0.250" stop-color="#1366b2"/><stop offset="0.286" stop-color="#1366b2"/><stop offset="0.321" stop-color="#1366b1"/><stop offset="0.357" stop-color="#1366b1"/><stop offset="0.393" stop-color="#1366b1"/><stop offset="0.429" stop-color="#1366b1"/><stop offset="0.464" stop-color="#1366b1"/><stop offset="0.500" stop-color="#1366b1"/><stop offset="0.536" stop-color="#1365b1"/><stop offset="0.571" stop-color="#1365b1"/><stop offset="0.607" stop-color="#1365b0"/><stop offset="0.643" stop-color="#1365b0"/><stop offset="0.679" stop-color="#1365b0"/><stop offset="0.714" stop-color="#1365b0"/><stop offset="0.750" stop-color="#1365b0"/><stop offset="0.786" stop-color="#1365b0"/><stop offset="0.821" stop-color="#1365b0"/><stop offset="0.857" stop-color="#1364b0"/><stop offset="0.893" stop-color="#1364b0"/><stop offset="0.929" stop-color="#1364b0"/><stop offset="0.964" stop-color="#1364b0"/><stop offset="1.000" stop-color="#1364b0"/></linearGradient><linearGradient id="e2_38" gradientUnits="userSpaceOnUse" x1="381.8" x2="547.9" y1="0" y2="0"><stop offset="0.000" stop-color="#115ca8"/><stop offset="0.036" stop-color="#115ca8"/><stop offset="0.071" stop-color="#115ca8"/><stop offset="0.107" stop-color="#115ca8"/><stop offset="0.143" stop-color="#115ca8"/><stop offset="0.179" stop-color="#115ca8"/><stop offset="0.214" stop-color="#115ca8"/><stop offset="0.250" stop-color="#115ca8"/><stop offset="0.286" stop-color="#115ca8"/><stop offset="0.321" stop-color="#115ca8"/><stop offset="0.357" stop-color="#115ca8"/><stop offset="0.393" stop-color="#115ca8"/><stop offset="0.429" stop-color="#115ca8"/><stop offset="0.464" stop-color="#115ca8"/><stop offset="0.500" stop-color="#115ca8"/><stop offset="0.536" stop-color="#115ca8"/><stop offset="0.571" stop-color="#115ca8"/><stop offset="0.607" stop-color="#115ca8"/><stop offset="0.643" stop-color="#115ca8"/><stop offset="0.679" stop-color="#115ca8"/><stop offset="0.714" stop-color="#115ca8"/><stop offset="0.750" stop-color="#115ca8"/><stop offset="0.786" stop-color="#115ca8"/><stop offset="0.821" stop-color="#115ca8"/><stop offset="0.857" stop-color="#115ca8"/><stop offset="0.893" stop-color="#115ca8"/><stop offset="0.929" stop-color="#115ca8"/><stop offset="0.964" stop-color="#115ca8"/><stop offset="1.000" stop-color="#115ca8"/></linearGradient><linearGradient id="fbp" x1="0" y1="0" x2="0" y2="1"><stop offset="0" stop-color="#1586cf"/><stop offset="0.55" stop-color="#16a6e6"/><stop offset="1" stop-color="#8dd8f6"/></linearGradient><linearGradient id="frp" x1="0" y1="0" x2="0" y2="1"><stop offset="0" stop-color="#ef4a5c"/><stop offset="0.55" stop-color="#f37884"/><stop offset="1" stop-color="#fbc4c8"/></linearGradient><linearGradient id="fbn" x1="0" y1="1" x2="0" y2="0"><stop offset="0" stop-color="#1586cf"/><stop offset="0.55" stop-color="#16a6e6"/><stop offset="1" stop-color="#8dd8f6"/></linearGradient><linearGradient id="frn" x1="0" y1="1" x2="0" y2="0"><stop offset="0" stop-color="#ef4a5c"/><stop offset="0.55" stop-color="#f37884"/><stop offset="1" stop-color="#fbc4c8"/></linearGradient><clipPath id="hc"><rect x="387.6" y="296.1" width="158.20" height="108.90"/></clipPath></defs>
<rect width="550" height="425" fill="#ffffff"/>
<rect x="6.3" y="7.1" width="168.00" height="124.70" fill="#e6e6e6"/>
<rect x="6.30" y="7.10" width="41.60" height="40.70" fill="#080808"/>
<svg x="6.30" y="7.10" width="41.60" height="40.70" overflow="hidden">
<ellipse cx="8.3" cy="20.3" rx="18.7" ry="28.5" fill="url(#hz)" opacity="0.12"/>
</svg>
<rect x="6.30" y="7.10" width="41.60" height="40.70" filter="url(#nz)" opacity="0.2"/>
<text x="45.90" y="12.60" font-family='"Liberation Sans", sans-serif' font-size="5.3" font-weight="normal" fill="#e0e0e0" text-anchor="end" >V<tspan font-size="3.3" dy="1">1</tspan><tspan dy="-1">/CN</tspan></text>
<rect x="38.30" y="43.80" width="7.2" height="1.8" fill="#e4e4e4"/>
<rect x="48.90" y="7.10" width="41.00" height="40.70" fill="#080808"/>
<svg x="48.90" y="7.10" width="41.00" height="40.70" overflow="hidden">
<ellipse cx="18.5" cy="14.2" rx="14.4" ry="20.3" fill="url(#hz)" opacity="0.2"/>
<ellipse cx="12.3" cy="28.5" rx="14.4" ry="16.3" fill="url(#hz)" opacity="0.14"/>
</svg>
<rect x="48.90" y="7.10" width="41.00" height="40.70" filter="url(#nz)" opacity="0.22"/>
<text x="87.90" y="12.60" font-family='"Liberation Sans", sans-serif' font-size="5.3" font-weight="normal" fill="#e0e0e0" text-anchor="end" >Fe<tspan font-size="3.3" dy="1">1</tspan><tspan dy="-1">/CN</tspan></text>
<rect x="80.30" y="43.80" width="7.2" height="1.8" fill="#e4e4e4"/>
<rect x="90.90" y="7.10" width="41.00" height="40.70" fill="#080808"/>
<svg x="90.90" y="7.10" width="41.00" height="40.70" overflow="hidden">
<ellipse cx="10.2" cy="26.5" rx="18.4" ry="18.3" fill="url(#hz)" opacity="0.1"/>
</svg>
<rect x="90.90" y="7.10" width="41.00" height="40.70" filter="url(#nz)" opacity="0.18"/>
<text x="129.90" y="12.60" font-family='"Liberation Sans", sans-serif' font-size="5.3" font-weight="normal" fill="#e0e0e0" text-anchor="end" >Co<tspan font-size="3.3" dy="1">1</tspan><tspan dy="-1">/CN</tspan></text>
<rect x="122.30" y="43.80" width="7.2" height="1.8" fill="#e4e4e4"/>
<rect x="132.90" y="7.10" width="40.90" height="40.70" fill="#080808"/>
<svg x="132.90" y="7.10" width="40.90" height="40.70" overflow="hidden">
<ellipse cx="20.5" cy="22.4" rx="24.5" ry="24.4" fill="url(#hz)" opacity="0.13"/>
</svg>
<rect x="132.90" y="7.10" width="40.90" height="40.70" filter="url(#nz)" opacity="0.22"/>
<text x="171.80" y="12.60" font-family='"Liberation Sans", sans-serif' font-size="5.3" font-weight="normal" fill="#e0e0e0" text-anchor="end" >Ni<tspan font-size="3.3" dy="1">1</tspan><tspan dy="-1">/CN</tspan></text>
<rect x="164.20" y="43.80" width="7.2" height="1.8" fill="#e4e4e4"/>
<rect x="6.30" y="48.80" width="41.60" height="41.00" fill="#080808"/>
<svg x="6.30" y="48.80" width="41.60" height="41.00" overflow="hidden">
<ellipse cx="12.5" cy="28.7" rx="20.8" ry="20.5" fill="url(#hz)" opacity="0.05"/>
</svg>
<rect x="6.30" y="48.80" width="41.60" height="41.00" filter="url(#nz)" opacity="0.12"/>
<text x="45.90" y="54.30" font-family='"Liberation Sans", sans-serif' font-size="5.3" font-weight="normal" fill="#e0e0e0" text-anchor="end" >Cu<tspan font-size="3.3" dy="1">1</tspan><tspan dy="-1">/CN</tspan></text>
<rect x="38.30" y="85.80" width="7.2" height="1.8" fill="#e4e4e4"/>
<rect x="48.90" y="48.80" width="41.00" height="41.00" fill="#080808"/>
<svg x="48.90" y="48.80" width="41.00" height="41.00" overflow="hidden">
<ellipse cx="24.6" cy="24.6" rx="20.5" ry="20.5" fill="url(#hz)" opacity="0.09"/>
</svg>
<rect x="48.90" y="48.80" width="41.00" height="41.00" filter="url(#nz)" opacity="0.18"/>
<text x="87.90" y="54.30" font-family='"Liberation Sans", sans-serif' font-size="5.3" font-weight="normal" fill="#e0e0e0" text-anchor="end" >Zn<tspan font-size="3.3" dy="1">1</tspan><tspan dy="-1">/CN</tspan></text>
<rect x="80.30" y="85.80" width="7.2" height="1.8" fill="#e4e4e4"/>
<rect x="90.90" y="48.80" width="41.00" height="41.00" fill="#080808"/>
<svg x="90.90" y="48.80" width="41.00" height="41.00" overflow="hidden">
<ellipse cx="20.5" cy="28.7" rx="24.6" ry="20.5" fill="url(#hz)" opacity="0.04"/>
</svg>
<rect x="90.90" y="48.80" width="41.00" height="41.00" filter="url(#nz)" opacity="0.12"/>
<text x="129.90" y="54.30" font-family='"Liberation Sans", sans-serif' font-size="5.3" font-weight="normal" fill="#e0e0e0" text-anchor="end" >Ru<tspan font-size="3.3" dy="1">1</tspan><tspan dy="-1">/CN</tspan></text>
<rect x="122.30" y="85.80" width="7.2" height="1.8" fill="#e4e4e4"/>
<rect x="132.90" y="48.80" width="40.90" height="41.00" fill="#080808"/>
<svg x="132.90" y="48.80" width="40.90" height="41.00" overflow="hidden">
<ellipse cx="28.6" cy="16.4" rx="20.5" ry="20.5" fill="url(#hz)" opacity="0.06"/>
</svg>
<rect x="132.90" y="48.80" width="40.90" height="41.00" filter="url(#nz)" opacity="0.12"/>
<text x="171.80" y="54.30" font-family='"Liberation Sans", sans-serif' font-size="5.3" font-weight="normal" fill="#e0e0e0" text-anchor="end" >Cd<tspan font-size="3.3" dy="1">1</tspan><tspan dy="-1">/CN</tspan></text>
<rect x="164.20" y="85.80" width="7.2" height="1.8" fill="#e4e4e4"/>
<rect x="6.30" y="90.80" width="41.60" height="40.50" fill="#080808"/>
<svg x="6.30" y="90.80" width="41.60" height="40.50" overflow="hidden">
<ellipse cx="29.1" cy="0.8" rx="31.2" ry="16.2" fill="url(#hz)" opacity="0.45"/>
<ellipse cx="12.5" cy="12.2" rx="20.8" ry="16.2" fill="url(#hz)" opacity="0.1"/>
</svg>
<rect x="6.30" y="90.80" width="41.60" height="40.50" filter="url(#nz)" opacity="0.2"/>
<text x="45.90" y="96.30" font-family='"Liberation Sans", sans-serif' font-size="5.3" font-weight="normal" fill="#e0e0e0" text-anchor="end" >Mn<tspan font-size="3.3" dy="1">1</tspan><tspan dy="-1">/CN</tspan></text>
<rect x="38.30" y="127.30" width="7.2" height="1.8" fill="#e4e4e4"/>
<rect x="48.90" y="90.80" width="41.00" height="40.50" fill="#080808"/>
<svg x="48.90" y="90.80" width="41.00" height="40.50" overflow="hidden">
<ellipse cx="24.6" cy="20.3" rx="18.5" ry="22.3" fill="url(#hz)" opacity="0.09"/>
</svg>
<rect x="48.90" y="90.80" width="41.00" height="40.50" filter="url(#nz)" opacity="0.2"/>
<text x="87.90" y="96.30" font-family='"Liberation Sans", sans-serif' font-size="5.3" font-weight="normal" fill="#e0e0e0" text-anchor="end" >Mo<tspan font-size="3.3" dy="1">1</tspan><tspan dy="-1">/CN</tspan></text>
<rect x="80.30" y="127.30" width="7.2" height="1.8" fill="#e4e4e4"/>
<rect x="90.90" y="90.80" width="41.00" height="40.50" fill="#080808"/>
<svg x="90.90" y="90.80" width="41.00" height="40.50" overflow="hidden">
<ellipse cx="6.1" cy="36.5" rx="28.7" ry="22.3" fill="url(#hz)" opacity="0.26"/>
</svg>
<rect x="90.90" y="90.80" width="41.00" height="40.50" filter="url(#nz)" opacity="0.2"/>
<text x="129.90" y="96.30" font-family='"Liberation Sans", sans-serif' font-size="5.3" font-weight="normal" fill="#e0e0e0" text-anchor="end" >W<tspan font-size="3.3" dy="1">1</tspan><tspan dy="-1">/CN</tspan></text>
<rect x="122.30" y="127.30" width="7.2" height="1.8" fill="#e4e4e4"/>
<rect x="132.90" y="90.80" width="40.90" height="40.50" fill="#080808"/>
<svg x="132.90" y="90.80" width="40.90" height="40.50" overflow="hidden">
<ellipse cx="20.5" cy="20.3" rx="20.5" ry="20.3" fill="url(#hz)" opacity="0.08"/>
</svg>
<rect x="132.90" y="90.80" width="40.90" height="40.50" filter="url(#nz)" opacity="0.14"/>
<text x="171.80" y="96.30" font-family='"Liberation Sans", sans-serif' font-size="5.3" font-weight="normal" fill="#e0e0e0" text-anchor="end" >Bi<tspan font-size="3.3" dy="1">1</tspan><tspan dy="-1">/CN</tspan></text>
<rect x="164.20" y="127.30" width="7.2" height="1.8" fill="#e4e4e4"/>
<text x="7.40" y="16.90" font-family='"Liberation Sans", sans-serif' font-size="16" font-weight="bold" fill="#ffffff" text-anchor="start" >a</text>
<line x1="203.8" y1="27.70" x2="352.1" y2="27.70" stroke="#bcc3cf" stroke-width="2.6"/>
<circle cx="204.8" cy="27.5" r="1.1" fill="none" stroke="#8e98aa" stroke-width="0.45"/><circle cx="206.8" cy="27.4" r="1.1" fill="none" stroke="#8e98aa" stroke-width="0.45"/><circle cx="208.8" cy="27.9" r="1.1" fill="none" stroke="#8e98aa" stroke-width="0.45"/><circle cx="210.8" cy="27.3" r="1.1" fill="none" stroke="#8e98aa" stroke-width="0.45"/><circle cx="212.8" cy="27.7" r="1.1" fill="none" stroke="#8e98aa" stroke-width="0.45"/><circle cx="214.8" cy="27.6" r="1.1" fill="none" stroke="#8e98aa" stroke-width="0.45"/><circle cx="216.8" cy="27.3" r="1.1" fill="none" stroke="#8e98aa" stroke-width="0.45"/><circle cx="218.8" cy="27.7" r="1.1" fill="none" stroke="#8e98aa" stroke-width="0.45"/><circle cx="220.8" cy="27.2" r="1.1" fill="none" stroke="#8e98aa" stroke-width="0.45"/><circle cx="222.8" cy="27.6" r="1.1" fill="none" stroke="#8e98aa" stroke-width="0.45"/><circle cx="224.8" cy="27.3" r="1.1" fill="none" stroke="#8e98aa" stroke-width="0.45"/><circle cx="226.8" cy="27.3" r="1.1" fill="none" stroke="#8e98aa" stroke-width="0.45"/><circle cx="228.8" cy="27.6" r="1.1" fill="none" stroke="#8e98aa" stroke-width="0.45"/><circle cx="230.8" cy="28.0" r="1.1" fill="none" stroke="#8e98aa" stroke-width="0.45"/><circle cx="232.8" cy="27.3" r="1.1" fill="none" stroke="#8e98aa" stroke-width="0.45"/><circle cx="234.8" cy="27.4" r="1.1" fill="none" stroke="#8e98aa" stroke-width="0.45"/><circle cx="236.8" cy="27.8" r="1.1" fill="none" stroke="#8e98aa" stroke-width="0.45"/><circle cx="238.8" cy="28.1" r="1.1" fill="none" stroke="#8e98aa" stroke-width="0.45"/><circle cx="240.8" cy="27.8" r="1.1" fill="none" stroke="#8e98aa" stroke-width="0.45"/><circle cx="242.8" cy="27.6" r="1.1" fill="none" stroke="#8e98aa" stroke-width="0.45"/><circle cx="244.8" cy="28.2" r="1.1" fill="none" stroke="#8e98aa" stroke-width="0.45"/><circle cx="246.8" cy="27.2" r="1.1" fill="none" stroke="#8e98aa" stroke-width="0.45"/><circle cx="248.8" cy="28.1" r="1.1" fill="none" stroke="#8e98aa" stroke-width="0.45"/><circle cx="250.8" cy="27.5" r="1.1" fill="none" stroke="#8e98aa" stroke-width="0.45"/><circle cx="252.8" cy="27.3" r="1.1" fill="none" stroke="#8e98aa" stroke-width="0.45"/><circle cx="254.8" cy="27.3" r="1.1" fill="none" stroke="#8e98aa" stroke-width="0.45"/><circle cx="256.8" cy="27.5" r="1.1" fill="none" stroke="#8e98aa" stroke-width="0.45"/><circle cx="258.8" cy="28.0" r="1.1" fill="none" stroke="#8e98aa" stroke-width="0.45"/><circle cx="260.8" cy="27.4" r="1.1" fill="none" stroke="#8e98aa" stroke-width="0.45"/><circle cx="262.8" cy="27.8" r="1.1" fill="none" stroke="#8e98aa" stroke-width="0.45"/><circle cx="264.8" cy="27.8" r="1.1" fill="none" stroke="#8e98aa" stroke-width="0.45"/><circle cx="266.8" cy="27.6" r="1.1" fill="none" stroke="#8e98aa" stroke-width="0.45"/><circle cx="268.8" cy="27.7" r="1.1" fill="none" stroke="#8e98aa" stroke-width="0.45"/><circle cx="270.8" cy="27.3" r="1.1" fill="none" stroke="#8e98aa" stroke-width="0.45"/><circle cx="272.8" cy="27.3" r="1.1" fill="none" stroke="#8e98aa" stroke-width="0.45"/><circle cx="274.8" cy="27.4" r="1.1" fill="none" stroke="#8e98aa" stroke-width="0.45"/><circle cx="276.8" cy="27.9" r="1.1" fill="none" stroke="#8e98aa" stroke-width="0.45"/><circle cx="278.8" cy="27.6" r="1.1" fill="none" stroke="#8e98aa" stroke-width="0.45"/><circle cx="280.8" cy="27.5" r="1.1" fill="none" stroke="#8e98aa" stroke-width="0.45"/><circle cx="282.8" cy="27.8" r="1.1" fill="none" stroke="#8e98aa" stroke-width="0.45"/><circle cx="284.8" cy="27.7" r="1.1" fill="none" stroke="#8e98aa" stroke-width="0.45"/><circle cx="286.8" cy="27.5" r="1.1" fill="none" stroke="#8e98aa" stroke-width="0.45"/><circle cx="288.8" cy="28.0" r="1.1" fill="none" stroke="#8e98aa" stroke-width="0.45"/><circle cx="290.8" cy="27.9" r="1.1" fill="none" stroke="#8e98aa" stroke-width="0.45"/><circle cx="292.8" cy="27.4" r="1.1" fill="none" stroke="#8e98aa" stroke-width="0.45"/><circle cx="294.8" cy="27.8" r="1.1" fill="none" stroke="#8e98aa" stroke-width="0.45"/><circle cx="296.8" cy="27.7" r="1.1" fill="none" stroke="#8e98aa" stroke-width="0.45"/><circle cx="298.8" cy="28.1" r="1.1" fill="none" stroke="#8e98aa" stroke-width="0.45"/><circle cx="300.8" cy="27.9" r="1.1" fill="none" stroke="#8e98aa" stroke-width="0.45"/><circle cx="302.8" cy="27.5" r="1.1" fill="none" stroke="#8e98aa" stroke-width="0.45"/><circle cx="304.8" cy="28.2" r="1.1" fill="none" stroke="#8e98aa" stroke-width="0.45"/><circle cx="306.8" cy="27.3" r="1.1" fill="none" stroke="#8e98aa" stroke-width="0.45"/><circle cx="308.8" cy="27.6" r="1.1" fill="none" stroke="#8e98aa" stroke-width="0.45"/><circle cx="310.8" cy="28.0" r="1.1" fill="none" stroke="#8e98aa" stroke-width="0.45"/><circle cx="312.8" cy="27.4" r="1.1" fill="none" stroke="#8e98aa" stroke-width="0.45"/><circle cx="314.8" cy="27.7" r="1.1" fill="none" stroke="#8e98aa" stroke-width="0.45"/><circle cx="316.8" cy="27.2" r="1.1" fill="none" stroke="#8e98aa" stroke-width="0.45"/><circle cx="318.8" cy="27.9" r="1.1" fill="none" stroke="#8e98aa" stroke-width="0.45"/><circle cx="320.8" cy="28.0" r="1.1" fill="none" stroke="#8e98aa" stroke-width="0.45"/><circle cx="322.8" cy="27.8" r="1.1" fill="none" stroke="#8e98aa" stroke-width="0.45"/><circle cx="324.8" cy="28.1" r="1.1" fill="none" stroke="#8e98aa" stroke-width="0.45"/><circle cx="326.8" cy="27.5" r="1.1" fill="none" stroke="#8e98aa" stroke-width="0.45"/><circle cx="328.8" cy="27.9" r="1.1" fill="none" stroke="#8e98aa" stroke-width="0.45"/><circle cx="330.8" cy="27.8" r="1.1" fill="none" stroke="#8e98aa" stroke-width="0.45"/><circle cx="332.8" cy="27.8" r="1.1" fill="none" stroke="#8e98aa" stroke-width="0.45"/><circle cx="334.8" cy="27.7" r="1.1" fill="none" stroke="#8e98aa" stroke-width="0.45"/><circle cx="336.8" cy="28.0" r="1.1" fill="none" stroke="#8e98aa" stroke-width="0.45"/><circle cx="338.8" cy="28.1" r="1.1" fill="none" stroke="#8e98aa" stroke-width="0.45"/><circle cx="340.8" cy="27.7" r="1.1" fill="none" stroke="#8e98aa" stroke-width="0.45"/><circle cx="342.8" cy="27.9" r="1.1" fill="none" stroke="#8e98aa" stroke-width="0.45"/><circle cx="344.8" cy="27.3" r="1.1" fill="none" stroke="#8e98aa" stroke-width="0.45"/><circle cx="346.8" cy="27.9" r="1.1" fill="none" stroke="#8e98aa" stroke-width="0.45"/><circle cx="348.8" cy="27.8" r="1.1" fill="none" stroke="#8e98aa" stroke-width="0.45"/><circle cx="350.8" cy="28.2" r="1.1" fill="none" stroke="#8e98aa" stroke-width="0.45"/>
<polygon points="235.48,27.64 236.08,27.62 236.67,27.58 237.27,27.54 237.87,27.48 238.47,27.41 239.06,27.32 239.66,27.20 240.26,27.06 240.86,26.88 241.45,26.66 242.05,26.40 242.65,26.10 243.25,25.75 243.84,25.35 244.44,24.89 245.04,24.39 245.63,23.84 246.23,23.25 246.83,22.63 247.43,21.98 248.02,21.33 248.62,20.68 249.22,20.06 249.82,19.47 250.41,18.94 251.01,18.48 251.61,18.10 252.21,17.83 252.80,17.66 253.40,17.60 254.00,17.66 254.59,17.83 255.19,18.10 255.79,18.48 256.39,18.94 256.98,19.47 257.58,20.06 258.18,20.68 258.78,21.33 259.37,21.98 259.97,22.63 260.57,23.25 261.17,23.84 261.76,24.39 262.36,24.89 262.96,25.35 263.55,25.75 264.15,26.10 264.75,26.40 265.35,26.66 265.94,26.88 266.54,27.06 267.14,27.20 267.74,27.32 268.33,27.41 268.93,27.48 269.53,27.54 270.13,27.58 270.72,27.62 271.32,27.64 271.32,28.50 235.48,28.50" fill="url(#gg)"/>
<polyline points="235.48,27.64 236.08,27.62 236.67,27.58 237.27,27.54 237.87,27.48 238.47,27.41 239.06,27.32 239.66,27.20 240.26,27.06 240.86,26.88 241.45,26.66 242.05,26.40 242.65,26.10 243.25,25.75 243.84,25.35 244.44,24.89 245.04,24.39 245.63,23.84 246.23,23.25 246.83,22.63 247.43,21.98 248.02,21.33 248.62,20.68 249.22,20.06 249.82,19.47 250.41,18.94 251.01,18.48 251.61,18.10 252.21,17.83 252.80,17.66 253.40,17.60 254.00,17.66 254.59,17.83 255.19,18.10 255.79,18.48 256.39,18.94 256.98,19.47 257.58,20.06 258.18,20.68 258.78,21.33 259.37,21.98 259.97,22.63 260.57,23.25 261.17,23.84 261.76,24.39 262.36,24.89 262.96,25.35 263.55,25.75 264.15,26.10 264.75,26.40 265.35,26.66 265.94,26.88 266.54,27.06 267.14,27.20 267.74,27.32 268.33,27.41 268.93,27.48 269.53,27.54 270.13,27.58 270.72,27.62 271.32,27.64" fill="none" stroke="#2f5a4c" stroke-width="0.7"/>
<polygon points="294.92,27.62 295.60,27.58 296.29,27.54 296.97,27.48 297.65,27.40 298.33,27.30 299.02,27.18 299.70,27.01 300.38,26.81 301.06,26.57 301.75,26.27 302.43,25.92 303.11,25.50 303.79,25.01 304.48,24.46 305.16,23.84 305.84,23.14 306.53,22.39 307.21,21.57 307.89,20.72 308.57,19.83 309.26,18.93 309.94,18.04 310.62,17.18 311.30,16.37 311.99,15.64 312.67,15.01 313.35,14.49 314.03,14.11 314.72,13.88 315.40,13.80 316.08,13.88 316.77,14.11 317.45,14.49 318.13,15.01 318.81,15.64 319.50,16.37 320.18,17.18 320.86,18.04 321.54,18.93 322.23,19.83 322.91,20.72 323.59,21.57 324.27,22.39 324.96,23.14 325.64,23.84 326.32,24.46 327.01,25.01 327.69,25.50 328.37,25.92 329.05,26.27 329.74,26.57 330.42,26.81 331.10,27.01 331.78,27.18 332.47,27.30 333.15,27.40 333.83,27.48 334.51,27.54 335.20,27.58 335.88,27.62 335.88,28.50 294.92,28.50" fill="url(#bg)"/>
<polyline points="294.92,27.62 295.60,27.58 296.29,27.54 296.97,27.48 297.65,27.40 298.33,27.30 299.02,27.18 299.70,27.01 300.38,26.81 301.06,26.57 301.75,26.27 302.43,25.92 303.11,25.50 303.79,25.01 304.48,24.46 305.16,23.84 305.84,23.14 306.53,22.39 307.21,21.57 307.89,20.72 308.57,19.83 309.26,18.93 309.94,18.04 310.62,17.18 311.30,16.37 311.99,15.64 312.67,15.01 313.35,14.49 314.03,14.11 314.72,13.88 315.40,13.80 316.08,13.88 316.77,14.11 317.45,14.49 318.13,15.01 318.81,15.64 319.50,16.37 320.18,17.18 320.86,18.04 321.54,18.93 322.23,19.83 322.91,20.72 323.59,21.57 324.27,22.39 324.96,23.14 325.64,23.84 326.32,24.46 327.01,25.01 327.69,25.50 328.37,25.92 329.05,26.27 329.74,26.57 330.42,26.81 331.10,27.01 331.78,27.18 332.47,27.30 333.15,27.40 333.83,27.48 334.51,27.54 335.20,27.58 335.88,27.62" fill="none" stroke="#7c90a4" stroke-width="0.7"/>
<line x1="203.8" y1="66.90" x2="352.1" y2="66.90" stroke="#bcc3cf" stroke-width="2.6"/>
<circle cx="204.8" cy="67.2" r="1.1" fill="none" stroke="#8e98aa" stroke-width="0.45"/><circle cx="206.8" cy="66.7" r="1.1" fill="none" stroke="#8e98aa" stroke-width="0.45"/><circle cx="208.8" cy="66.8" r="1.1" fill="none" stroke="#8e98aa" stroke-width="0.45"/><circle cx="210.8" cy="67.1" r="1.1" fill="none" stroke="#8e98aa" stroke-width="0.45"/><circle cx="212.8" cy="66.4" r="1.1" fill="none" stroke="#8e98aa" stroke-width="0.45"/><circle cx="214.8" cy="66.9" r="1.1" fill="none" stroke="#8e98aa" stroke-width="0.45"/><circle cx="216.8" cy="66.6" r="1.1" fill="none" stroke="#8e98aa" stroke-width="0.45"/><circle cx="218.8" cy="66.5" r="1.1" fill="none" stroke="#8e98aa" stroke-width="0.45"/><circle cx="220.8" cy="66.5" r="1.1" fill="none" stroke="#8e98aa" stroke-width="0.45"/><circle cx="222.8" cy="67.2" r="1.1" fill="none" stroke="#8e98aa" stroke-width="0.45"/><circle cx="224.8" cy="66.5" r="1.1" fill="none" stroke="#8e98aa" stroke-width="0.45"/><circle cx="226.8" cy="66.6" r="1.1" fill="none" stroke="#8e98aa" stroke-width="0.45"/><circle cx="228.8" cy="66.8" r="1.1" fill="none" stroke="#8e98aa" stroke-width="0.45"/><circle cx="230.8" cy="67.3" r="1.1" fill="none" stroke="#8e98aa" stroke-width="0.45"/><circle cx="232.8" cy="66.5" r="1.1" fill="none" stroke="#8e98aa" stroke-width="0.45"/><circle cx="234.8" cy="66.8" r="1.1" fill="none" stroke="#8e98aa" stroke-width="0.45"/><circle cx="236.8" cy="66.9" r="1.1" fill="none" stroke="#8e98aa" stroke-width="0.45"/><circle cx="238.8" cy="67.3" r="1.1" fill="none" stroke="#8e98aa" stroke-width="0.45"/><circle cx="240.8" cy="67.2" r="1.1" fill="none" stroke="#8e98aa" stroke-width="0.45"/><circle cx="242.8" cy="67.3" r="1.1" fill="none" stroke="#8e98aa" stroke-width="0.45"/><circle cx="244.8" cy="66.7" r="1.1" fill="none" stroke="#8e98aa" stroke-width="0.45"/><circle cx="246.8" cy="66.8" r="1.1" fill="none" stroke="#8e98aa" stroke-width="0.45"/><circle cx="248.8" cy="66.8" r="1.1" fill="none" stroke="#8e98aa" stroke-width="0.45"/><circle cx="250.8" cy="67.3" r="1.1" fill="none" stroke="#8e98aa" stroke-width="0.45"/><circle cx="252.8" cy="67.4" r="1.1" fill="none" stroke="#8e98aa" stroke-width="0.45"/><circle cx="254.8" cy="66.6" r="1.1" fill="none" stroke="#8e98aa" stroke-width="0.45"/><circle cx="256.8" cy="66.6" r="1.1" fill="none" stroke="#8e98aa" stroke-width="0.45"/><circle cx="258.8" cy="66.6" r="1.1" fill="none" stroke="#8e98aa" stroke-width="0.45"/><circle cx="260.8" cy="66.6" r="1.1" fill="none" stroke="#8e98aa" stroke-width="0.45"/><circle cx="262.8" cy="66.9" r="1.1" fill="none" stroke="#8e98aa" stroke-width="0.45"/><circle cx="264.8" cy="67.0" r="1.1" fill="none" stroke="#8e98aa" stroke-width="0.45"/><circle cx="266.8" cy="66.7" r="1.1" fill="none" stroke="#8e98aa" stroke-width="0.45"/><circle cx="268.8" cy="66.4" r="1.1" fill="none" stroke="#8e98aa" stroke-width="0.45"/><circle cx="270.8" cy="66.8" r="1.1" fill="none" stroke="#8e98aa" stroke-width="0.45"/><circle cx="272.8" cy="66.8" r="1.1" fill="none" stroke="#8e98aa" stroke-width="0.45"/><circle cx="274.8" cy="67.0" r="1.1" fill="none" stroke="#8e98aa" stroke-width="0.45"/><circle cx="276.8" cy="67.4" r="1.1" fill="none" stroke="#8e98aa" stroke-width="0.45"/><circle cx="278.8" cy="67.1" r="1.1" fill="none" stroke="#8e98aa" stroke-width="0.45"/><circle cx="280.8" cy="66.9" r="1.1" fill="none" stroke="#8e98aa" stroke-width="0.45"/><circle cx="282.8" cy="67.0" r="1.1" fill="none" stroke="#8e98aa" stroke-width="0.45"/><circle cx="284.8" cy="67.1" r="1.1" fill="none" stroke="#8e98aa" stroke-width="0.45"/><circle cx="286.8" cy="66.5" r="1.1" fill="none" stroke="#8e98aa" stroke-width="0.45"/><circle cx="288.8" cy="67.3" r="1.1" fill="none" stroke="#8e98aa" stroke-width="0.45"/><circle cx="290.8" cy="67.2" r="1.1" fill="none" stroke="#8e98aa" stroke-width="0.45"/><circle cx="292.8" cy="67.3" r="1.1" fill="none" stroke="#8e98aa" stroke-width="0.45"/><circle cx="294.8" cy="67.2" r="1.1" fill="none" stroke="#8e98aa" stroke-width="0.45"/><circle cx="296.8" cy="66.8" r="1.1" fill="none" stroke="#8e98aa" stroke-width="0.45"/><circle cx="298.8" cy="66.8" r="1.1" fill="none" stroke="#8e98aa" stroke-width="0.45"/><circle cx="300.8" cy="66.5" r="1.1" fill="none" stroke="#8e98aa" stroke-width="0.45"/><circle cx="302.8" cy="67.0" r="1.1" fill="none" stroke="#8e98aa" stroke-width="0.45"/><circle cx="304.8" cy="66.5" r="1.1" fill="none" stroke="#8e98aa" stroke-width="0.45"/><circle cx="306.8" cy="66.5" r="1.1" fill="none" stroke="#8e98aa" stroke-width="0.45"/><circle cx="308.8" cy="66.6" r="1.1" fill="none" stroke="#8e98aa" stroke-width="0.45"/><circle cx="310.8" cy="66.6" r="1.1" fill="none" stroke="#8e98aa" stroke-width="0.45"/><circle cx="312.8" cy="66.7" r="1.1" fill="none" stroke="#8e98aa" stroke-width="0.45"/><circle cx="314.8" cy="66.5" r="1.1" fill="none" stroke="#8e98aa" stroke-width="0.45"/><circle cx="316.8" cy="66.4" r="1.1" fill="none" stroke="#8e98aa" stroke-width="0.45"/><circle cx="318.8" cy="66.6" r="1.1" fill="none" stroke="#8e98aa" stroke-width="0.45"/><circle cx="320.8" cy="66.5" r="1.1" fill="none" stroke="#8e98aa" stroke-width="0.45"/><circle cx="322.8" cy="66.8" r="1.1" fill="none" stroke="#8e98aa" stroke-width="0.45"/><circle cx="324.8" cy="66.4" r="1.1" fill="none" stroke="#8e98aa" stroke-width="0.45"/><circle cx="326.8" cy="67.3" r="1.1" fill="none" stroke="#8e98aa" stroke-width="0.45"/><circle cx="328.8" cy="67.0" r="1.1" fill="none" stroke="#8e98aa" stroke-width="0.45"/><circle cx="330.8" cy="66.5" r="1.1" fill="none" stroke="#8e98aa" stroke-width="0.45"/><circle cx="332.8" cy="66.7" r="1.1" fill="none" stroke="#8e98aa" stroke-width="0.45"/><circle cx="334.8" cy="66.7" r="1.1" fill="none" stroke="#8e98aa" stroke-width="0.45"/><circle cx="336.8" cy="66.8" r="1.1" fill="none" stroke="#8e98aa" stroke-width="0.45"/><circle cx="338.8" cy="66.5" r="1.1" fill="none" stroke="#8e98aa" stroke-width="0.45"/><circle cx="340.8" cy="67.2" r="1.1" fill="none" stroke="#8e98aa" stroke-width="0.45"/><circle cx="342.8" cy="67.4" r="1.1" fill="none" stroke="#8e98aa" stroke-width="0.45"/><circle cx="344.8" cy="66.9" r="1.1" fill="none" stroke="#8e98aa" stroke-width="0.45"/><circle cx="346.8" cy="66.9" r="1.1" fill="none" stroke="#8e98aa" stroke-width="0.45"/><circle cx="348.8" cy="66.5" r="1.1" fill="none" stroke="#8e98aa" stroke-width="0.45"/><circle cx="350.8" cy="66.5" r="1.1" fill="none" stroke="#8e98aa" stroke-width="0.45"/>
<polygon points="238.08,66.83 238.68,66.81 239.27,66.77 239.87,66.73 240.47,66.66 241.07,66.59 241.66,66.48 242.26,66.36 242.86,66.20 243.46,66.00 244.05,65.77 244.65,65.49 245.25,65.16 245.85,64.77 246.44,64.34 247.04,63.84 247.64,63.29 248.23,62.69 248.83,62.05 249.43,61.37 250.03,60.67 250.62,59.96 251.22,59.26 251.82,58.58 252.42,57.94 253.01,57.36 253.61,56.86 254.21,56.45 254.81,56.15 255.40,55.96 256.00,55.90 256.60,55.96 257.19,56.15 257.79,56.45 258.39,56.86 258.99,57.36 259.58,57.94 260.18,58.58 260.78,59.26 261.38,59.96 261.97,60.67 262.57,61.37 263.17,62.05 263.77,62.69 264.36,63.29 264.96,63.84 265.56,64.34 266.15,64.77 266.75,65.16 267.35,65.49 267.95,65.77 268.54,66.00 269.14,66.20 269.74,66.36 270.34,66.48 270.93,66.59 271.53,66.66 272.13,66.73 272.73,66.77 273.32,66.81 273.92,66.83 273.92,67.70 238.08,67.70" fill="url(#gg)"/>
<polyline points="238.08,66.83 238.68,66.81 239.27,66.77 239.87,66.73 240.47,66.66 241.07,66.59 241.66,66.48 242.26,66.36 242.86,66.20 243.46,66.00 244.05,65.77 244.65,65.49 245.25,65.16 245.85,64.77 246.44,64.34 247.04,63.84 247.64,63.29 248.23,62.69 248.83,62.05 249.43,61.37 250.03,60.67 250.62,59.96 251.22,59.26 251.82,58.58 252.42,57.94 253.01,57.36 253.61,56.86 254.21,56.45 254.81,56.15 255.40,55.96 256.00,55.90 256.60,55.96 257.19,56.15 257.79,56.45 258.39,56.86 258.99,57.36 259.58,57.94 260.18,58.58 260.78,59.26 261.38,59.96 261.97,60.67 262.57,61.37 263.17,62.05 263.77,62.69 264.36,63.29 264.96,63.84 265.56,64.34 266.15,64.77 266.75,65.16 267.35,65.49 267.95,65.77 268.54,66.00 269.14,66.20 269.74,66.36 270.34,66.48 270.93,66.59 271.53,66.66 272.13,66.73 272.73,66.77 273.32,66.81 273.92,66.83" fill="none" stroke="#2f5a4c" stroke-width="0.7"/>
<polygon points="297.82,66.81 298.50,66.78 299.19,66.73 299.87,66.67 300.55,66.59 301.23,66.49 301.92,66.36 302.60,66.19 303.28,65.99 303.96,65.74 304.65,65.43 305.33,65.07 306.01,64.64 306.69,64.14 307.38,63.57 308.06,62.92 308.74,62.21 309.43,61.43 310.11,60.60 310.79,59.72 311.47,58.80 312.16,57.88 312.84,56.96 313.52,56.08 314.20,55.25 314.89,54.50 315.57,53.84 316.25,53.31 316.93,52.92 317.62,52.68 318.30,52.60 318.98,52.68 319.67,52.92 320.35,53.31 321.03,53.84 321.71,54.50 322.40,55.25 323.08,56.08 323.76,56.96 324.44,57.88 325.13,58.80 325.81,59.72 326.49,60.60 327.17,61.43 327.86,62.21 328.54,62.92 329.22,63.57 329.91,64.14 330.59,64.64 331.27,65.07 331.95,65.43 332.64,65.74 333.32,65.99 334.00,66.19 334.68,66.36 335.37,66.49 336.05,66.59 336.73,66.67 337.41,66.73 338.10,66.78 338.78,66.81 338.78,67.70 297.82,67.70" fill="url(#bg)"/>
<polyline points="297.82,66.81 298.50,66.78 299.19,66.73 299.87,66.67 300.55,66.59 301.23,66.49 301.92,66.36 302.60,66.19 303.28,65.99 303.96,65.74 304.65,65.43 305.33,65.07 306.01,64.64 306.69,64.14 307.38,63.57 308.06,62.92 308.74,62.21 309.43,61.43 310.11,60.60 310.79,59.72 311.47,58.80 312.16,57.88 312.84,56.96 313.52,56.08 314.20,55.25 314.89,54.50 315.57,53.84 316.25,53.31 316.93,52.92 317.62,52.68 318.30,52.60 318.98,52.68 319.67,52.92 320.35,53.31 321.03,53.84 321.71,54.50 322.40,55.25 323.08,56.08 323.76,56.96 324.44,57.88 325.13,58.80 325.81,59.72 326.49,60.60 327.17,61.43 327.86,62.21 328.54,62.92 329.22,63.57 329.91,64.14 330.59,64.64 331.27,65.07 331.95,65.43 332.64,65.74 333.32,65.99 334.00,66.19 334.68,66.36 335.37,66.49 336.05,66.59 336.73,66.67 337.41,66.73 338.10,66.78 338.78,66.81" fill="none" stroke="#7c90a4" stroke-width="0.7"/>
<line x1="203.8" y1="107.30" x2="352.1" y2="107.30" stroke="#bcc3cf" stroke-width="2.6"/>
<circle cx="204.8" cy="107.1" r="1.1" fill="none" stroke="#8e98aa" stroke-width="0.45"/><circle cx="206.8" cy="107.1" r="1.1" fill="none" stroke="#8e98aa" stroke-width="0.45"/><circle cx="208.8" cy="107.6" r="1.1" fill="none" stroke="#8e98aa" stroke-width="0.45"/><circle cx="210.8" cy="107.0" r="1.1" fill="none" stroke="#8e98aa" stroke-width="0.45"/><circle cx="212.8" cy="106.8" r="1.1" fill="none" stroke="#8e98aa" stroke-width="0.45"/><circle cx="214.8" cy="107.8" r="1.1" fill="none" stroke="#8e98aa" stroke-width="0.45"/><circle cx="216.8" cy="107.3" r="1.1" fill="none" stroke="#8e98aa" stroke-width="0.45"/><circle cx="218.8" cy="106.9" r="1.1" fill="none" stroke="#8e98aa" stroke-width="0.45"/><circle cx="220.8" cy="107.3" r="1.1" fill="none" stroke="#8e98aa" stroke-width="0.45"/><circle cx="222.8" cy="106.8" r="1.1" fill="none" stroke="#8e98aa" stroke-width="0.45"/><circle cx="224.8" cy="107.3" r="1.1" fill="none" stroke="#8e98aa" stroke-width="0.45"/><circle cx="226.8" cy="107.8" r="1.1" fill="none" stroke="#8e98aa" stroke-width="0.45"/><circle cx="228.8" cy="107.7" r="1.1" fill="none" stroke="#8e98aa" stroke-width="0.45"/><circle cx="230.8" cy="107.5" r="1.1" fill="none" stroke="#8e98aa" stroke-width="0.45"/><circle cx="232.8" cy="107.1" r="1.1" fill="none" stroke="#8e98aa" stroke-width="0.45"/><circle cx="234.8" cy="107.2" r="1.1" fill="none" stroke="#8e98aa" stroke-width="0.45"/><circle cx="236.8" cy="107.0" r="1.1" fill="none" stroke="#8e98aa" stroke-width="0.45"/><circle cx="238.8" cy="107.6" r="1.1" fill="none" stroke="#8e98aa" stroke-width="0.45"/><circle cx="240.8" cy="107.3" r="1.1" fill="none" stroke="#8e98aa" stroke-width="0.45"/><circle cx="242.8" cy="107.6" r="1.1" fill="none" stroke="#8e98aa" stroke-width="0.45"/><circle cx="244.8" cy="107.1" r="1.1" fill="none" stroke="#8e98aa" stroke-width="0.45"/><circle cx="246.8" cy="107.0" r="1.1" fill="none" stroke="#8e98aa" stroke-width="0.45"/><circle cx="248.8" cy="107.6" r="1.1" fill="none" stroke="#8e98aa" stroke-width="0.45"/><circle cx="250.8" cy="107.8" r="1.1" fill="none" stroke="#8e98aa" stroke-width="0.45"/><circle cx="252.8" cy="107.7" r="1.1" fill="none" stroke="#8e98aa" stroke-width="0.45"/><circle cx="254.8" cy="107.6" r="1.1" fill="none" stroke="#8e98aa" stroke-width="0.45"/><circle cx="256.8" cy="107.6" r="1.1" fill="none" stroke="#8e98aa" stroke-width="0.45"/><circle cx="258.8" cy="107.5" r="1.1" fill="none" stroke="#8e98aa" stroke-width="0.45"/><circle cx="260.8" cy="107.0" r="1.1" fill="none" stroke="#8e98aa" stroke-width="0.45"/><circle cx="262.8" cy="107.3" r="1.1" fill="none" stroke="#8e98aa" stroke-width="0.45"/><circle cx="264.8" cy="107.2" r="1.1" fill="none" stroke="#8e98aa" stroke-width="0.45"/><circle cx="266.8" cy="106.8" r="1.1" fill="none" stroke="#8e98aa" stroke-width="0.45"/><circle cx="268.8" cy="106.8" r="1.1" fill="none" stroke="#8e98aa" stroke-width="0.45"/><circle cx="270.8" cy="107.1" r="1.1" fill="none" stroke="#8e98aa" stroke-width="0.45"/><circle cx="272.8" cy="107.1" r="1.1" fill="none" stroke="#8e98aa" stroke-width="0.45"/><circle cx="274.8" cy="107.5" r="1.1" fill="none" stroke="#8e98aa" stroke-width="0.45"/><circle cx="276.8" cy="107.8" r="1.1" fill="none" stroke="#8e98aa" stroke-width="0.45"/><circle cx="278.8" cy="107.2" r="1.1" fill="none" stroke="#8e98aa" stroke-width="0.45"/><circle cx="280.8" cy="107.7" r="1.1" fill="none" stroke="#8e98aa" stroke-width="0.45"/><circle cx="282.8" cy="107.8" r="1.1" fill="none" stroke="#8e98aa" stroke-width="0.45"/><circle cx="284.8" cy="107.8" r="1.1" fill="none" stroke="#8e98aa" stroke-width="0.45"/><circle cx="286.8" cy="107.2" r="1.1" fill="none" stroke="#8e98aa" stroke-width="0.45"/><circle cx="288.8" cy="107.0" r="1.1" fill="none" stroke="#8e98aa" stroke-width="0.45"/><circle cx="290.8" cy="107.0" r="1.1" fill="none" stroke="#8e98aa" stroke-width="0.45"/><circle cx="292.8" cy="107.0" r="1.1" fill="none" stroke="#8e98aa" stroke-width="0.45"/><circle cx="294.8" cy="107.0" r="1.1" fill="none" stroke="#8e98aa" stroke-width="0.45"/><circle cx="296.8" cy="107.4" r="1.1" fill="none" stroke="#8e98aa" stroke-width="0.45"/><circle cx="298.8" cy="107.7" r="1.1" fill="none" stroke="#8e98aa" stroke-width="0.45"/><circle cx="300.8" cy="107.6" r="1.1" fill="none" stroke="#8e98aa" stroke-width="0.45"/><circle cx="302.8" cy="107.3" r="1.1" fill="none" stroke="#8e98aa" stroke-width="0.45"/><circle cx="304.8" cy="107.5" r="1.1" fill="none" stroke="#8e98aa" stroke-width="0.45"/><circle cx="306.8" cy="107.6" r="1.1" fill="none" stroke="#8e98aa" stroke-width="0.45"/><circle cx="308.8" cy="106.9" r="1.1" fill="none" stroke="#8e98aa" stroke-width="0.45"/><circle cx="310.8" cy="107.5" r="1.1" fill="none" stroke="#8e98aa" stroke-width="0.45"/><circle cx="312.8" cy="107.7" r="1.1" fill="none" stroke="#8e98aa" stroke-width="0.45"/><circle cx="314.8" cy="107.6" r="1.1" fill="none" stroke="#8e98aa" stroke-width="0.45"/><circle cx="316.8" cy="107.6" r="1.1" fill="none" stroke="#8e98aa" stroke-width="0.45"/><circle cx="318.8" cy="107.3" r="1.1" fill="none" stroke="#8e98aa" stroke-width="0.45"/><circle cx="320.8" cy="107.0" r="1.1" fill="none" stroke="#8e98aa" stroke-width="0.45"/><circle cx="322.8" cy="107.6" r="1.1" fill="none" stroke="#8e98aa" stroke-width="0.45"/><circle cx="324.8" cy="107.1" r="1.1" fill="none" stroke="#8e98aa" stroke-width="0.45"/><circle cx="326.8" cy="107.6" r="1.1" fill="none" stroke="#8e98aa" stroke-width="0.45"/><circle cx="328.8" cy="107.8" r="1.1" fill="none" stroke="#8e98aa" stroke-width="0.45"/><circle cx="330.8" cy="107.2" r="1.1" fill="none" stroke="#8e98aa" stroke-width="0.45"/><circle cx="332.8" cy="107.2" r="1.1" fill="none" stroke="#8e98aa" stroke-width="0.45"/><circle cx="334.8" cy="107.7" r="1.1" fill="none" stroke="#8e98aa" stroke-width="0.45"/><circle cx="336.8" cy="107.5" r="1.1" fill="none" stroke="#8e98aa" stroke-width="0.45"/><circle cx="338.8" cy="107.0" r="1.1" fill="none" stroke="#8e98aa" stroke-width="0.45"/><circle cx="340.8" cy="106.9" r="1.1" fill="none" stroke="#8e98aa" stroke-width="0.45"/><circle cx="342.8" cy="107.0" r="1.1" fill="none" stroke="#8e98aa" stroke-width="0.45"/><circle cx="344.8" cy="107.7" r="1.1" fill="none" stroke="#8e98aa" stroke-width="0.45"/><circle cx="346.8" cy="107.6" r="1.1" fill="none" stroke="#8e98aa" stroke-width="0.45"/><circle cx="348.8" cy="106.9" r="1.1" fill="none" stroke="#8e98aa" stroke-width="0.45"/><circle cx="350.8" cy="107.6" r="1.1" fill="none" stroke="#8e98aa" stroke-width="0.45"/>
<polygon points="238.68,107.23 239.28,107.21 239.87,107.17 240.47,107.13 241.07,107.07 241.67,106.99 242.26,106.89 242.86,106.76 243.46,106.61 244.06,106.41 244.65,106.18 245.25,105.90 245.85,105.57 246.45,105.19 247.04,104.76 247.64,104.27 248.24,103.73 248.83,103.13 249.43,102.50 250.03,101.82 250.63,101.13 251.22,100.42 251.82,99.73 252.42,99.05 253.02,98.42 253.61,97.85 254.21,97.35 254.81,96.94 255.41,96.65 256.00,96.46 256.60,96.40 257.20,96.46 257.79,96.65 258.39,96.94 258.99,97.35 259.59,97.85 260.18,98.42 260.78,99.05 261.38,99.73 261.98,100.42 262.57,101.13 263.17,101.82 263.77,102.50 264.37,103.13 264.96,103.73 265.56,104.27 266.16,104.76 266.75,105.19 267.35,105.57 267.95,105.90 268.55,106.18 269.14,106.41 269.74,106.61 270.34,106.76 270.94,106.89 271.53,106.99 272.13,107.07 272.73,107.13 273.33,107.17 273.92,107.21 274.52,107.23 274.52,108.10 238.68,108.10" fill="url(#gg)"/>
<polyline points="238.68,107.23 239.28,107.21 239.87,107.17 240.47,107.13 241.07,107.07 241.67,106.99 242.26,106.89 242.86,106.76 243.46,106.61 244.06,106.41 244.65,106.18 245.25,105.90 245.85,105.57 246.45,105.19 247.04,104.76 247.64,104.27 248.24,103.73 248.83,103.13 249.43,102.50 250.03,101.82 250.63,101.13 251.22,100.42 251.82,99.73 252.42,99.05 253.02,98.42 253.61,97.85 254.21,97.35 254.81,96.94 255.41,96.65 256.00,96.46 256.60,96.40 257.20,96.46 257.79,96.65 258.39,96.94 258.99,97.35 259.59,97.85 260.18,98.42 260.78,99.05 261.38,99.73 261.98,100.42 262.57,101.13 263.17,101.82 263.77,102.50 264.37,103.13 264.96,103.73 265.56,104.27 266.16,104.76 266.75,105.19 267.35,105.57 267.95,105.90 268.55,106.18 269.14,106.41 269.74,106.61 270.34,106.76 270.94,106.89 271.53,106.99 272.13,107.07 272.73,107.13 273.33,107.17 273.92,107.21 274.52,107.23" fill="none" stroke="#2f5a4c" stroke-width="0.7"/>
<polygon points="298.52,107.22 299.20,107.18 299.89,107.14 300.57,107.08 301.25,107.00 301.93,106.90 302.62,106.77 303.30,106.61 303.98,106.41 304.66,106.16 305.35,105.86 306.03,105.50 306.71,105.08 307.39,104.60 308.08,104.04 308.76,103.41 309.44,102.71 310.13,101.95 310.81,101.13 311.49,100.27 312.17,99.37 312.86,98.47 313.54,97.57 314.22,96.71 314.90,95.89 315.59,95.16 316.27,94.52 316.95,94.00 317.63,93.61 318.32,93.38 319.00,93.30 319.68,93.38 320.37,93.61 321.05,94.00 321.73,94.52 322.41,95.16 323.10,95.89 323.78,96.71 324.46,97.57 325.14,98.47 325.83,99.37 326.51,100.27 327.19,101.13 327.87,101.95 328.56,102.71 329.24,103.41 329.92,104.04 330.61,104.60 331.29,105.08 331.97,105.50 332.65,105.86 333.34,106.16 334.02,106.41 334.70,106.61 335.38,106.77 336.07,106.90 336.75,107.00 337.43,107.08 338.11,107.14 338.80,107.18 339.48,107.22 339.48,108.10 298.52,108.10" fill="url(#bg)"/>
<polyline points="298.52,107.22 299.20,107.18 299.89,107.14 300.57,107.08 301.25,107.00 301.93,106.90 302.62,106.77 303.30,106.61 303.98,106.41 304.66,106.16 305.35,105.86 306.03,105.50 306.71,105.08 307.39,104.60 308.08,104.04 308.76,103.41 309.44,102.71 310.13,101.95 310.81,101.13 311.49,100.27 312.17,99.37 312.86,98.47 313.54,97.57 314.22,96.71 314.90,95.89 315.59,95.16 316.27,94.52 316.95,94.00 317.63,93.61 318.32,93.38 319.00,93.30 319.68,93.38 320.37,93.61 321.05,94.00 321.73,94.52 322.41,95.16 323.10,95.89 323.78,96.71 324.46,97.57 325.14,98.47 325.83,99.37 326.51,100.27 327.19,101.13 327.87,101.95 328.56,102.71 329.24,103.41 329.92,104.04 330.61,104.60 331.29,105.08 331.97,105.50 332.65,105.86 333.34,106.16 334.02,106.41 334.70,106.61 335.38,106.77 336.07,106.90 336.75,107.00 337.43,107.08 338.11,107.14 338.80,107.18 339.48,107.22" fill="none" stroke="#7c90a4" stroke-width="0.7"/>
<line x1="254.4" y1="17.5" x2="254.4" y2="107.5" stroke="#86d6c0" stroke-width="2.0" opacity="0.9"/>
<line x1="315.8" y1="14" x2="315.8" y2="107.5" stroke="#5cc4f0" stroke-width="2.0" opacity="0.9"/>
<rect x="203.3" y="5.8" width="149.30" height="118.90" fill="none" stroke="#3a3a3a" stroke-width="1"/>
<line x1="212.90" y1="124.7" x2="212.90" y2="122.5" stroke="#3a3a3a" stroke-width="0.8"/>
<text x="212.90" y="132.20" font-family='"Liberation Sans", sans-serif' font-size="6.7" font-weight="bold" fill="#1a1a1a" text-anchor="middle" >378</text>
<line x1="223.25" y1="124.7" x2="223.25" y2="123.5" stroke="#3a3a3a" stroke-width="0.8"/>
<line x1="233.60" y1="124.7" x2="233.60" y2="122.5" stroke="#3a3a3a" stroke-width="0.8"/>
<text x="233.60" y="132.20" font-family='"Liberation Sans", sans-serif' font-size="6.7" font-weight="bold" fill="#1a1a1a" text-anchor="middle" >376</text>
<line x1="243.95" y1="124.7" x2="243.95" y2="123.5" stroke="#3a3a3a" stroke-width="0.8"/>
<line x1="254.30" y1="124.7" x2="254.30" y2="122.5" stroke="#3a3a3a" stroke-width="0.8"/>
<text x="254.30" y="132.20" font-family='"Liberation Sans", sans-serif' font-size="6.7" font-weight="bold" fill="#1a1a1a" text-anchor="middle" >374</text>
<line x1="264.65" y1="124.7" x2="264.65" y2="123.5" stroke="#3a3a3a" stroke-width="0.8"/>
<line x1="275.00" y1="124.7" x2="275.00" y2="122.5" stroke="#3a3a3a" stroke-width="0.8"/>
<text x="275.00" y="132.20" font-family='"Liberation Sans", sans-serif' font-size="6.7" font-weight="bold" fill="#1a1a1a" text-anchor="middle" >372</text>
<line x1="285.35" y1="124.7" x2="285.35" y2="123.5" stroke="#3a3a3a" stroke-width="0.8"/>
<line x1="295.70" y1="124.7" x2="295.70" y2="122.5" stroke="#3a3a3a" stroke-width="0.8"/>
<text x="295.70" y="132.20" font-family='"Liberation Sans", sans-serif' font-size="6.7" font-weight="bold" fill="#1a1a1a" text-anchor="middle" >370</text>
<line x1="306.05" y1="124.7" x2="306.05" y2="123.5" stroke="#3a3a3a" stroke-width="0.8"/>
<line x1="316.40" y1="124.7" x2="316.40" y2="122.5" stroke="#3a3a3a" stroke-width="0.8"/>
<text x="316.40" y="132.20" font-family='"Liberation Sans", sans-serif' font-size="6.7" font-weight="bold" fill="#1a1a1a" text-anchor="middle" >368</text>
<line x1="326.75" y1="124.7" x2="326.75" y2="123.5" stroke="#3a3a3a" stroke-width="0.8"/>
<line x1="337.10" y1="124.7" x2="337.10" y2="122.5" stroke="#3a3a3a" stroke-width="0.8"/>
<text x="337.10" y="132.20" font-family='"Liberation Sans", sans-serif' font-size="6.7" font-weight="bold" fill="#1a1a1a" text-anchor="middle" >366</text>
<line x1="347.45" y1="124.7" x2="347.45" y2="123.5" stroke="#3a3a3a" stroke-width="0.8"/>
<text x="205.20" y="23.60" font-family='"Liberation Sans", sans-serif' font-size="7.6" font-weight="bold" fill="#111" text-anchor="start" >Ag<tspan font-size="4.4" dy="1.6">NP</tspan><tspan dy="-1.6">-CN</tspan></text>
<text x="205.20" y="63.20" font-family='"Liberation Sans", sans-serif' font-size="7.6" font-weight="bold" fill="#111" text-anchor="start" >Ag<tspan font-size="4.4" dy="1.6">SA</tspan><tspan dy="-1.6">-CN</tspan></text>
<text x="205.20" y="103.20" font-family='"Liberation Sans", sans-serif' font-size="7.6" font-weight="bold" fill="#111" text-anchor="start" >Ag<tspan font-size="4.4" dy="1.6">SA+C</tspan><tspan dy="-1.6">-CN</tspan></text>
<text x="351.20" y="12.60" font-family='"Liberation Sans", sans-serif' font-size="7.0" font-weight="bold" fill="#111" text-anchor="end" >Ag 3d</text>
<text x="280.40" y="141.20" font-family='"Liberation Sans", sans-serif' font-size="7.9" font-weight="bold" fill="#111" text-anchor="middle" >Binding Energy (eV)</text>
<text x="0" y="0" transform="translate(197.4,66.1) rotate(-90)" font-family='"Liberation Sans", sans-serif' font-size="8.3" font-weight="bold" fill="#111" text-anchor="middle">Intensity (a.u.)</text>
<text x="182.60" y="17.30" font-family='"Liberation Sans", sans-serif' font-size="17.5" font-weight="normal" fill="#000" text-anchor="start" >b</text>
<g clip-path="url(#cc)">
<polyline points="26.90,214.90 27.15,214.87 27.40,214.83 27.65,214.80 27.90,214.76 28.14,214.72 28.39,214.67 28.64,214.63 28.89,214.59 29.14,214.55 29.39,214.50 29.64,214.46 29.89,214.42 30.14,214.38 30.39,214.34 30.63,214.31 30.88,214.28 31.13,214.25 31.38,214.22 31.63,214.20 31.88,214.19 32.13,214.17 32.38,214.17 32.63,214.17 32.88,214.17 33.12,214.18 33.37,214.19 33.62,214.22 33.87,214.24 34.12,214.28 34.37,214.31 34.62,214.36 34.87,214.41 35.12,214.46 35.37,214.52 35.61,214.59 35.86,214.66 36.11,214.73 36.36,214.80 36.61,214.88 36.86,214.96 37.11,215.04 37.36,215.13 37.61,215.21 37.86,215.29 38.10,215.37 38.35,215.45 38.60,215.52 38.85,215.60 39.10,215.66 39.35,215.73 39.60,215.79 39.85,215.84 40.10,215.89 40.35,215.93 40.59,215.96 40.84,215.99 41.09,216.01 41.34,216.02 41.59,216.02 41.84,216.02 42.09,216.01 42.34,215.99 42.59,215.96 42.84,215.93 43.08,215.89 43.33,215.84 43.58,215.79 43.83,215.73 44.08,215.66 44.33,215.59 44.58,215.52 44.83,215.44 45.08,215.36 45.33,215.28 45.57,215.20 45.82,215.11 46.07,215.03 46.32,214.95 46.57,214.87 46.82,214.79 47.07,214.71 47.32,214.64 47.57,214.57 47.82,214.50 48.06,214.44 48.31,214.38 48.56,214.33 48.81,214.29 49.06,214.25 49.31,214.21 49.56,214.18 49.81,214.16 50.06,214.15 50.31,214.14 50.55,214.13 50.80,214.13 51.05,214.14 51.30,214.15 51.55,214.17 51.80,214.19 52.05,214.22 52.30,214.25 52.55,214.28 52.80,214.32 53.05,214.36 53.29,214.40 53.54,214.44 53.79,214.49 54.04,214.53 54.29,214.41 54.54,214.04 54.79,213.62 55.04,213.16 55.29,212.69 55.53,212.19 55.78,211.68 56.03,211.16 56.28,210.62 56.53,210.06 56.78,209.50 57.03,208.93 57.28,208.34 57.53,207.74 57.78,207.14 58.02,206.52 58.27,205.90 58.52,205.27 58.77,204.63 59.02,203.98 59.27,203.32 59.52,202.66 59.77,201.99 60.02,201.31 60.27,200.63 60.52,199.94 60.76,199.25 61.01,198.55 61.26,197.85 61.51,197.14 61.76,196.43 62.01,195.71 62.26,194.99 62.51,194.26 62.76,193.54 63.00,192.80 63.25,192.07 63.50,191.33 63.75,190.59 64.00,189.85 64.25,189.11 64.50,188.36 64.75,187.61 65.00,186.86 65.25,186.11 65.50,185.35 65.74,184.60 65.99,184.59 66.24,185.33 66.49,186.07 66.74,186.81 66.99,187.55 67.24,188.28 67.49,189.02 67.74,189.75 67.98,190.48 68.23,191.20 68.48,191.93 68.73,192.65 68.98,193.36 69.23,194.08 69.48,194.79 69.73,195.50 69.98,196.21 70.23,196.91 70.47,197.61 70.72,198.31 70.97,199.00 71.22,199.69 71.47,200.37 71.72,201.05 71.97,201.73 72.22,202.40 72.47,203.07 72.72,203.74 72.97,204.40 73.21,205.06 73.46,205.72 73.71,206.38 73.96,207.04 74.21,207.70 74.46,208.36 74.71,209.03 74.96,209.70 75.21,210.38 75.45,211.06 75.70,211.74 75.95,212.42 76.20,213.10 76.45,213.76 76.70,214.40 76.95,215.00 77.20,215.55 77.45,216.03 77.70,216.22 77.94,216.20 78.19,216.14 78.44,216.04 78.69,215.89 78.94,215.69 79.19,215.46 79.44,215.19 79.69,214.90 79.94,214.58 80.19,214.25 80.44,213.91 80.68,213.57 80.93,213.22 81.18,212.88 81.43,212.53 81.68,212.19 81.93,211.85 82.18,211.51 82.43,211.18 82.68,210.85 82.92,210.51 83.17,210.19 83.42,209.86 83.67,209.54 83.92,209.23 84.17,208.92 84.42,208.63 84.67,208.35 84.92,208.08 85.17,207.84 85.41,207.62 85.66,207.42 85.91,207.25 86.16,207.10 86.41,206.99 86.66,206.91 86.91,206.86 87.16,206.84 87.41,206.86 87.66,206.91 87.91,206.99 88.15,207.10 88.40,207.25 88.65,207.42 88.90,207.62 89.15,207.84 89.40,208.08 89.65,208.34 89.90,208.62 90.15,208.91 90.40,209.21 90.64,209.52 90.89,209.83 91.14,210.15 91.39,210.46 91.64,210.77 91.89,211.07 92.14,211.36 92.39,211.65 92.64,211.92 92.88,212.19 93.13,212.43 93.38,212.67 93.63,212.89 93.88,213.10 94.13,213.29 94.38,213.47 94.63,213.64 94.88,213.79 95.13,213.93 95.38,214.06 95.62,214.18 95.87,214.30 96.12,214.40 96.37,214.49 96.62,214.58 96.87,214.66 97.12,214.73 97.37,214.80 97.62,214.86 97.87,214.92 98.11,214.97 98.36,215.01 98.61,215.05 98.86,215.08 99.11,215.11 99.36,215.13 99.61,215.14 99.86,215.15 100.11,215.15 100.35,215.14 100.60,215.12 100.85,215.10 101.10,215.08 101.35,215.05 101.60,215.01 101.85,214.98 102.10,214.94 102.35,214.90 102.60,214.86 102.84,214.82 103.09,214.78 103.34,214.75 103.59,214.72 103.84,214.69 104.09,214.66 104.34,214.64 104.59,214.62 104.84,214.61 105.09,214.60 105.33,214.59 105.58,214.58 105.83,214.58 106.08,214.57 106.33,214.57 106.58,214.57 106.83,214.57 107.08,214.57 107.33,214.56 107.58,214.56 107.82,214.55 108.07,214.54 108.32,214.53 108.57,214.52 108.82,214.51 109.07,214.49 109.32,214.47 109.57,214.45 109.82,214.43 110.07,214.41 110.31,214.38 110.56,214.35 110.81,214.32 111.06,214.29 111.31,214.26 111.56,214.22 111.81,214.19 112.06,214.15 112.31,214.11 112.56,214.08 112.81,214.04 113.05,214.00 113.30,213.96 113.55,213.93 113.80,213.89 114.05,213.86 114.30,213.82 114.55,213.79 114.80,213.76 115.05,213.73 115.29,213.70 115.54,213.68 115.79,213.65 116.04,213.63 116.29,213.61 116.54,213.60 116.79,213.58 117.04,213.57 117.29,213.57 117.54,213.56 117.78,213.56 118.03,213.56 118.28,213.56 118.53,213.57 118.78,213.58 119.03,213.59 119.28,213.61 119.53,213.63 119.78,213.65 120.03,213.67 120.28,213.70 120.52,213.72 120.77,213.75 121.02,213.78 121.27,213.81 121.52,213.84 121.77,213.88 122.02,213.91 122.27,213.95 122.52,213.98 122.76,214.02 123.01,214.05 123.26,214.08 123.51,214.12 123.76,214.15 124.01,214.18 124.26,214.21 124.51,214.24 124.76,214.27 125.01,214.29 125.25,214.31 125.50,214.34 125.75,214.36 126.00,214.37 126.25,214.39 126.50,214.40 126.75,214.41 127.00,214.42 127.25,214.42 127.50,214.43 127.74,214.43 127.99,214.43 128.24,214.43 128.49,214.42 128.74,214.42 128.99,214.41 129.24,214.40 129.49,214.39 129.74,214.38 129.99,214.36 130.24,214.35 130.48,214.34 130.73,214.32 130.98,214.31 131.23,214.30 131.48,214.28 131.73,214.27 131.98,214.26 132.23,214.25 132.48,214.24 132.72,214.23 132.97,214.23 133.22,214.22 133.47,214.22 133.72,214.22 133.97,214.22 134.22,214.22 134.47,214.23 134.72,214.23 134.97,214.24 135.22,214.25 135.46,214.26 135.71,214.28 135.96,214.29 136.21,214.31 136.46,214.33 136.71,214.35 136.96,214.37 137.21,214.39 137.46,214.41 137.70,214.43 137.95,214.46 138.20,214.48 138.45,214.50 138.70,214.53 138.95,214.55 139.20,214.58 139.45,214.60 139.70,214.63 139.95,214.65 140.19,214.68 140.44,214.70 140.69,214.73 140.94,214.75 141.19,214.77 141.44,214.79 141.69,214.81 141.94,214.83 142.19,214.84 142.44,214.86 142.69,214.88 142.93,214.89 143.18,214.90 143.43,214.92 143.68,214.93 143.93,214.94 144.18,214.95 144.43,214.96 144.68,214.97 144.93,214.98 145.17,214.99 145.42,215.00 145.67,215.01 145.92,215.01 146.17,215.02 146.42,215.03 146.67,215.03 146.92,215.04 147.17,215.04 147.42,215.05 147.66,215.06 147.91,215.06 148.16,215.07 148.41,215.07 148.66,215.08 148.91,215.08 149.16,215.09 149.41,215.09 149.66,215.10 149.91,215.10 150.16,215.10 150.40,215.11 150.65,215.11 150.90,215.12 151.15,215.12 151.40,215.13 151.65,215.13 151.90,215.14 152.15,215.14 152.40,215.15 152.64,215.15 152.89,215.15 153.14,215.16 153.39,215.16 153.64,215.17 153.89,215.17 154.14,215.18 154.39,215.18 154.64,215.19 154.89,215.19 155.14,215.20 155.38,215.20 155.63,215.20 155.88,215.21 156.13,215.21 156.38,215.22 156.63,215.22 156.88,215.23 157.13,215.23 157.38,215.24 157.62,215.24 157.87,215.24 158.12,215.25 158.37,215.25 158.62,215.26 158.87,215.26 159.12,215.27 159.37,215.27 159.62,215.28 159.87,215.28 160.12,215.28 160.36,215.29 160.61,215.29 160.86,215.30 161.11,215.30 161.36,215.31 161.61,215.31 161.86,215.32 162.11,215.32 162.36,215.33 162.60,215.33 162.85,215.33 163.10,215.34 163.35,215.34 163.60,215.35 163.85,215.35 164.10,215.36 164.35,215.36 164.60,215.37 164.85,215.37 165.09,215.37 165.34,215.38 165.59,215.38 165.84,215.39 166.09,215.39 166.34,215.40 166.59,215.40 166.84,215.41 167.09,215.41 167.34,215.41 167.59,215.42 167.83,215.42 168.08,215.43 168.33,215.43 168.58,215.44 168.83,215.44 169.08,215.45 169.33,215.45 169.58,215.46 169.83,215.46 170.07,215.46 170.32,215.47 170.57,215.47 170.82,215.48 171.07,215.48 171.32,215.49 171.57,215.49 171.82,215.50 172.07,215.50 172.32,215.50 172.56,215.51 172.81,215.51 173.06,215.52 173.31,215.52 173.56,215.53 173.81,215.53 174.06,215.54 174.31,215.54 174.56,215.54 174.81,215.55 175.06,215.55 175.30,215.56 175.55,215.56 175.80,215.57 176.05,215.57 176.30,215.58" fill="none" stroke="#c0409a" stroke-width="0.9"/>
<g fill="#eef9fb" stroke="#8cd4e3" stroke-width="0.85"><circle cx="26.90" cy="214.90" r="1.6"/><circle cx="28.54" cy="214.65" r="1.6"/><circle cx="30.19" cy="214.37" r="1.6"/><circle cx="31.83" cy="214.19" r="1.6"/><circle cx="33.47" cy="214.20" r="1.6"/><circle cx="35.12" cy="214.46" r="1.6"/><circle cx="36.76" cy="214.93" r="1.6"/><circle cx="38.40" cy="215.46" r="1.6"/><circle cx="40.05" cy="215.88" r="1.6"/><circle cx="41.69" cy="216.02" r="1.6"/><circle cx="43.33" cy="215.84" r="1.6"/><circle cx="44.98" cy="215.39" r="1.6"/><circle cx="46.62" cy="214.85" r="1.6"/><circle cx="48.26" cy="214.39" r="1.6"/><circle cx="49.91" cy="214.15" r="1.6"/><circle cx="51.55" cy="214.17" r="1.6"/><circle cx="53.19" cy="214.38" r="1.6"/><circle cx="54.84" cy="213.53" r="1.6"/><circle cx="56.48" cy="210.18" r="1.6"/><circle cx="58.12" cy="206.27" r="1.6"/><circle cx="59.77" cy="201.99" r="1.6"/><circle cx="61.41" cy="197.42" r="1.6"/><circle cx="63.05" cy="192.66" r="1.6"/><circle cx="64.70" cy="187.76" r="1.6"/><circle cx="66.34" cy="185.63" r="1.6"/><circle cx="67.99" cy="190.48" r="1.6"/><circle cx="69.63" cy="195.22" r="1.6"/><circle cx="71.27" cy="199.83" r="1.6"/><circle cx="72.92" cy="204.27" r="1.6"/><circle cx="74.56" cy="208.63" r="1.6"/><circle cx="76.20" cy="213.10" r="1.6"/><circle cx="77.85" cy="216.22" r="1.6"/><circle cx="79.49" cy="215.14" r="1.6"/><circle cx="81.13" cy="212.95" r="1.6"/><circle cx="82.78" cy="210.71" r="1.6"/><circle cx="84.42" cy="208.63" r="1.6"/><circle cx="86.06" cy="207.16" r="1.6"/><circle cx="87.71" cy="206.92" r="1.6"/><circle cx="89.35" cy="208.03" r="1.6"/><circle cx="90.99" cy="209.96" r="1.6"/><circle cx="92.64" cy="211.92" r="1.6"/><circle cx="94.28" cy="213.40" r="1.6"/><circle cx="95.92" cy="214.32" r="1.6"/><circle cx="97.57" cy="214.85" r="1.6"/><circle cx="99.21" cy="215.12" r="1.6"/><circle cx="100.85" cy="215.10" r="1.6"/><circle cx="102.50" cy="214.87" r="1.6"/><circle cx="104.14" cy="214.66" r="1.6"/><circle cx="105.78" cy="214.58" r="1.6"/><circle cx="107.43" cy="214.56" r="1.6"/><circle cx="109.07" cy="214.49" r="1.6"/><circle cx="110.71" cy="214.33" r="1.6"/><circle cx="112.36" cy="214.11" r="1.6"/><circle cx="114.00" cy="213.86" r="1.6"/><circle cx="115.64" cy="213.67" r="1.6"/><circle cx="117.29" cy="213.57" r="1.6"/><circle cx="118.93" cy="213.59" r="1.6"/><circle cx="120.57" cy="213.73" r="1.6"/><circle cx="122.22" cy="213.94" r="1.6"/><circle cx="123.86" cy="214.16" r="1.6"/><circle cx="125.50" cy="214.34" r="1.6"/><circle cx="127.15" cy="214.42" r="1.6"/><circle cx="128.79" cy="214.41" r="1.6"/><circle cx="130.43" cy="214.34" r="1.6"/><circle cx="132.08" cy="214.26" r="1.6"/><circle cx="133.72" cy="214.22" r="1.6"/><circle cx="135.36" cy="214.26" r="1.6"/><circle cx="137.01" cy="214.37" r="1.6"/><circle cx="138.65" cy="214.52" r="1.6"/><circle cx="140.29" cy="214.69" r="1.6"/><circle cx="141.94" cy="214.83" r="1.6"/><circle cx="143.58" cy="214.93" r="1.6"/><circle cx="145.22" cy="214.99" r="1.6"/><circle cx="146.87" cy="215.04" r="1.6"/><circle cx="148.51" cy="215.07" r="1.6"/><circle cx="150.15" cy="215.10" r="1.6"/><circle cx="151.80" cy="215.13" r="1.6"/><circle cx="153.44" cy="215.16" r="1.6"/><circle cx="155.09" cy="215.19" r="1.6"/><circle cx="156.73" cy="215.22" r="1.6"/><circle cx="158.37" cy="215.25" r="1.6"/><circle cx="160.02" cy="215.28" r="1.6"/><circle cx="161.66" cy="215.31" r="1.6"/><circle cx="163.30" cy="215.34" r="1.6"/><circle cx="164.95" cy="215.37" r="1.6"/><circle cx="166.59" cy="215.40" r="1.6"/><circle cx="168.23" cy="215.43" r="1.6"/><circle cx="169.88" cy="215.46" r="1.6"/><circle cx="171.52" cy="215.49" r="1.6"/><circle cx="173.16" cy="215.52" r="1.6"/><circle cx="174.81" cy="215.55" r="1.6"/></g>
<polyline points="26.90,237.85 27.15,237.80 27.40,237.75 27.65,237.71 27.90,237.67 28.14,237.63 28.39,237.60 28.64,237.57 28.89,237.55 29.14,237.54 29.39,237.54 29.64,237.54 29.89,237.56 30.14,237.58 30.39,237.61 30.63,237.65 30.88,237.70 31.13,237.76 31.38,237.83 31.63,237.90 31.88,237.99 32.13,238.08 32.38,238.17 32.63,238.27 32.88,238.37 33.12,238.48 33.37,238.59 33.62,238.69 33.87,238.79 34.12,238.90 34.37,238.99 34.62,239.08 34.87,239.16 35.12,239.23 35.37,239.29 35.61,239.34 35.86,239.38 36.11,239.41 36.36,239.42 36.61,239.41 36.86,239.40 37.11,239.36 37.36,239.32 37.61,239.26 37.86,239.18 38.10,239.09 38.35,239.00 38.60,238.89 38.85,238.77 39.10,238.64 39.35,238.51 39.60,238.37 39.85,238.23 40.10,238.09 40.35,237.95 40.59,237.81 40.84,237.68 41.09,237.55 41.34,237.44 41.59,237.33 41.84,237.23 42.09,237.14 42.34,237.07 42.59,237.01 42.84,236.96 43.08,236.93 43.33,236.92 43.58,236.92 43.83,236.94 44.08,236.97 44.33,237.01 44.58,237.07 44.83,237.14 45.08,237.23 45.33,237.32 45.57,237.42 45.82,237.53 46.07,237.65 46.32,237.78 46.57,237.91 46.82,238.04 47.07,238.18 47.32,238.31 47.57,238.45 47.82,238.59 48.06,238.72 48.31,238.86 48.56,238.99 48.81,239.11 49.06,239.24 49.31,239.35 49.56,239.46 49.81,239.57 50.06,239.67 50.31,239.76 50.55,239.83 50.80,239.90 51.05,239.96 51.30,240.01 51.55,240.04 51.80,240.06 52.05,240.07 52.30,240.06 52.55,240.04 52.80,240.01 53.05,239.97 53.29,239.93 53.54,239.88 53.79,239.83 54.04,239.80 54.29,239.78 54.54,239.79 54.79,239.84 55.04,239.95 55.29,240.11 55.53,240.36 55.78,240.69 56.03,241.11 56.28,241.63 56.53,242.24 56.78,242.93 57.03,243.68 57.28,244.47 57.53,245.27 57.78,246.03 58.02,246.71 58.27,247.27 58.52,247.68 58.77,247.90 59.02,247.90 59.27,247.67 59.52,247.20 59.77,246.49 60.02,245.55 60.27,244.39 60.52,243.02 60.76,241.47 61.01,239.73 61.26,237.82 61.51,235.76 61.76,233.54 62.01,231.18 62.26,228.69 62.51,226.11 62.76,223.46 63.00,220.79 63.25,218.18 63.50,215.68 63.75,213.38 64.00,211.35 64.25,209.68 64.50,208.43 64.75,207.65 65.00,207.38 65.25,207.63 65.50,208.39 65.74,209.62 65.99,211.26 66.24,213.25 66.49,215.52 66.74,217.97 66.99,220.54 67.24,223.15 67.49,225.77 67.74,228.34 67.98,230.84 68.23,233.28 68.48,235.65 68.73,237.96 68.98,240.22 69.23,242.45 69.48,244.65 69.73,246.79 69.98,248.87 70.23,250.83 70.47,252.63 70.72,254.22 70.97,255.54 71.22,256.53 71.47,257.15 71.72,257.38 71.97,257.22 72.22,256.67 72.47,255.78 72.72,254.59 72.97,253.18 73.21,251.61 73.46,249.95 73.71,248.27 73.96,246.62 74.21,245.06 74.46,243.60 74.71,242.27 74.96,241.09 75.21,240.06 75.45,239.20 75.70,238.52 75.95,238.02 76.20,237.70 76.45,237.56 76.70,237.58 76.95,237.74 77.20,238.00 77.45,238.36 77.70,238.79 77.94,239.27 78.19,239.79 78.44,240.33 78.69,240.89 78.94,241.44 79.19,241.94 79.44,242.37 79.69,242.69 79.94,242.88 80.19,242.90 80.44,242.76 80.68,242.46 80.93,242.02 81.18,241.45 81.43,240.81 81.68,240.11 81.93,239.40 82.18,238.69 82.43,238.00 82.68,237.34 82.92,236.72 83.17,236.12 83.42,235.54 83.67,234.97 83.92,234.41 84.17,233.85 84.42,233.29 84.67,232.74 84.92,232.19 85.17,231.65 85.41,231.13 85.66,230.64 85.91,230.18 86.16,229.78 86.41,229.44 86.66,229.16 86.91,228.96 87.16,228.83 87.41,228.79 87.66,228.83 87.91,228.96 88.15,229.16 88.40,229.44 88.65,229.78 88.90,230.18 89.15,230.63 89.40,231.12 89.65,231.64 89.90,232.17 90.15,232.71 90.40,233.24 90.64,233.76 90.89,234.26 91.14,234.74 91.39,235.19 91.64,235.60 91.89,235.98 92.14,236.32 92.39,236.63 92.64,236.90 92.88,237.14 93.13,237.35 93.38,237.54 93.63,237.71 93.88,237.86 94.13,238.00 94.38,238.13 94.63,238.26 94.88,238.39 95.13,238.52 95.38,238.66 95.62,238.81 95.87,238.98 96.12,239.15 96.37,239.33 96.62,236.11 96.87,236.56 97.12,237.04 97.37,237.53 97.62,238.03 97.87,238.54 98.11,239.03 98.36,239.51 98.61,239.96 98.86,240.37 99.11,240.75 99.36,241.09 99.61,241.38 99.86,241.63 100.11,241.83 100.35,241.98 100.60,242.10 100.85,242.17 101.10,242.22 101.35,242.23 101.60,242.22 101.85,242.18 102.10,242.12 102.35,242.05 102.60,241.96 102.84,241.84 103.09,241.72 103.34,241.57 103.59,241.41 103.84,241.24 104.09,241.04 104.34,240.83 104.59,240.60 104.84,240.35 105.09,240.09 105.33,239.81 105.58,239.52 105.83,239.22 106.08,238.91 106.33,238.59 106.58,238.26 106.83,237.94 107.08,237.62 107.33,237.30 107.58,236.98 107.82,236.68 108.07,236.39 108.32,236.11 108.57,235.85 108.82,235.61 109.07,235.39 109.32,235.19 109.57,235.01 109.82,234.87 110.07,234.75 110.31,234.66 110.56,234.59 110.81,234.56 111.06,234.55 111.31,234.58 111.56,234.63 111.81,234.71 112.06,234.82 112.31,234.95 112.56,235.11 112.81,235.29 113.05,235.49 113.30,235.71 113.55,235.95 113.80,236.20 114.05,236.46 114.30,236.73 114.55,237.01 114.80,237.30 115.05,237.59 115.29,237.87 115.54,238.16 115.79,238.44 116.04,238.71 116.29,238.97 116.54,239.22 116.79,239.45 117.04,239.67 117.29,239.87 117.54,240.05 117.78,240.20 118.03,240.34 118.28,240.45 118.53,240.54 118.78,240.60 119.03,240.64 119.28,240.65 119.53,240.63 119.78,240.59 120.03,240.53 120.28,240.44 120.52,240.33 120.77,240.20 121.02,240.05 121.27,239.88 121.52,239.69 121.77,239.49 122.02,239.27 122.27,239.04 122.52,238.80 122.76,238.55 123.01,238.30 123.26,238.05 123.51,237.79 123.76,237.54 124.01,237.29 124.26,237.04 124.51,236.81 124.76,236.58 125.01,236.36 125.25,236.16 125.50,235.97 125.75,235.80 126.00,235.64 126.25,235.51 126.50,235.39 126.75,235.30 127.00,235.23 127.25,235.17 127.50,235.14 127.74,235.14 127.99,235.15 128.24,235.19 128.49,235.25 128.74,235.32 128.99,235.42 129.24,235.54 129.49,235.67 129.74,235.83 129.99,235.99 130.24,236.17 130.48,236.36 130.73,236.57 130.98,236.78 131.23,236.99 131.48,237.22 131.73,237.44 131.98,237.67 132.23,237.89 132.48,238.12 132.72,238.34 132.97,238.55 133.22,238.75 133.47,238.95 133.72,239.13 133.97,239.30 134.22,239.46 134.47,239.60 134.72,239.73 134.97,239.84 135.22,239.93 135.46,240.00 135.71,240.06 135.96,240.09 136.21,240.11 136.46,240.11 136.71,240.08 136.96,240.04 137.21,239.98 137.46,239.91 137.70,239.81 137.95,239.71 138.20,239.58 138.45,239.44 138.70,239.29 138.95,239.13 139.20,238.96 139.45,238.78 139.70,238.59 139.95,238.40 140.19,238.20 140.44,238.00 140.69,237.80 140.94,237.60 141.19,237.40 141.44,237.21 141.69,237.02 141.94,236.84 142.19,236.67 142.44,236.51 142.69,236.36 142.93,236.22 143.18,236.09 143.43,235.98 143.68,235.88 143.93,235.80 144.18,235.73 144.43,235.68 144.68,235.65 144.93,235.63 145.17,235.63 145.42,235.65 145.67,235.68 145.92,235.73 146.17,235.79 146.42,235.87 146.67,235.96 146.92,236.07 147.17,236.18 147.42,236.31 147.66,236.45 147.91,236.60 148.16,236.76 148.41,236.92 148.66,237.09 148.91,237.26 149.16,237.44 149.41,237.61 149.66,237.79 149.91,237.96 150.16,238.13 150.40,238.30 150.65,238.47 150.90,238.62 151.15,238.77 151.40,238.91 151.65,239.04 151.90,239.16 152.15,239.27 152.40,239.36 152.64,239.45 152.89,239.52 153.14,239.57 153.39,239.61 153.64,239.64 153.89,239.66 154.14,239.65 154.39,239.64 154.64,239.61 154.89,239.57 155.14,239.51 155.38,239.44 155.63,239.36 155.88,239.27 156.13,239.17 156.38,239.06 156.63,238.93 156.88,238.80 157.13,238.67 157.38,238.53 157.62,238.38 157.87,238.23 158.12,238.08 158.37,237.92 158.62,237.77 158.87,237.61 159.12,237.46 159.37,237.31 159.62,237.17 159.87,237.03 160.12,236.89 160.36,236.77 160.61,236.65 160.86,236.54 161.11,236.44 161.36,236.35 161.61,236.27 161.86,236.21 162.11,236.15 162.36,236.10 162.60,236.07 162.85,236.05 163.10,236.05 163.35,236.05 163.60,236.07 163.85,236.10 164.10,236.14 164.35,236.19 164.60,236.25 164.85,236.32 165.09,236.41 165.34,236.50 165.59,236.60 165.84,236.70 166.09,236.82 166.34,236.94 166.59,237.06 166.84,237.19 167.09,237.32 167.34,237.46 167.59,237.59 167.83,237.73 168.08,237.86 168.33,238.00 168.58,238.13 168.83,238.25 169.08,238.38 169.33,238.49 169.58,238.61 169.83,238.71 170.07,238.81 170.32,238.90 170.57,238.98 170.82,239.05 171.07,239.11 171.32,239.17 171.57,239.21 171.82,239.24 172.07,239.26 172.32,239.28 172.56,239.28 172.81,239.27 173.06,239.25 173.31,239.22 173.56,239.18 173.81,239.13 174.06,239.07 174.31,239.00 174.56,238.93 174.81,238.85 175.06,238.76 175.30,238.66 175.55,238.56 175.80,238.45 176.05,238.35 176.30,238.23" fill="none" stroke="#c0409a" stroke-width="0.9"/>
<g fill="#eef9fb" stroke="#8cd4e3" stroke-width="0.85"><circle cx="26.90" cy="237.85" r="1.6"/><circle cx="28.54" cy="237.58" r="1.6"/><circle cx="30.19" cy="237.58" r="1.6"/><circle cx="31.83" cy="237.97" r="1.6"/><circle cx="33.47" cy="238.63" r="1.6"/><circle cx="35.12" cy="239.23" r="1.6"/><circle cx="36.76" cy="239.41" r="1.6"/><circle cx="38.40" cy="238.97" r="1.6"/><circle cx="40.05" cy="238.12" r="1.6"/><circle cx="41.69" cy="237.29" r="1.6"/><circle cx="43.33" cy="236.92" r="1.6"/><circle cx="44.98" cy="237.19" r="1.6"/><circle cx="46.62" cy="237.93" r="1.6"/><circle cx="48.26" cy="238.83" r="1.6"/><circle cx="49.91" cy="239.61" r="1.6"/><circle cx="51.55" cy="240.04" r="1.6"/><circle cx="53.19" cy="239.95" r="1.6"/><circle cx="54.84" cy="239.86" r="1.6"/><circle cx="56.48" cy="242.11" r="1.6"/><circle cx="58.12" cy="246.95" r="1.6"/><circle cx="59.77" cy="246.49" r="1.6"/><circle cx="61.41" cy="236.60" r="1.6"/><circle cx="63.05" cy="220.27" r="1.6"/><circle cx="64.70" cy="207.77" r="1.6"/><circle cx="66.34" cy="214.13" r="1.6"/><circle cx="67.99" cy="230.84" r="1.6"/><circle cx="69.63" cy="245.94" r="1.6"/><circle cx="71.27" cy="256.68" r="1.6"/><circle cx="72.92" cy="253.48" r="1.6"/><circle cx="74.56" cy="243.05" r="1.6"/><circle cx="76.20" cy="237.70" r="1.6"/><circle cx="77.85" cy="239.07" r="1.6"/><circle cx="79.49" cy="242.45" r="1.6"/><circle cx="81.13" cy="241.57" r="1.6"/><circle cx="82.78" cy="237.09" r="1.6"/><circle cx="84.42" cy="233.29" r="1.6"/><circle cx="86.06" cy="229.94" r="1.6"/><circle cx="87.71" cy="228.85" r="1.6"/><circle cx="89.35" cy="231.02" r="1.6"/><circle cx="90.99" cy="234.46" r="1.6"/><circle cx="92.64" cy="236.90" r="1.6"/><circle cx="94.28" cy="238.08" r="1.6"/><circle cx="95.92" cy="239.01" r="1.6"/><circle cx="97.57" cy="237.93" r="1.6"/><circle cx="99.21" cy="240.89" r="1.6"/><circle cx="100.85" cy="242.17" r="1.6"/><circle cx="102.50" cy="241.99" r="1.6"/><circle cx="104.14" cy="241.00" r="1.6"/><circle cx="105.78" cy="239.28" r="1.6"/><circle cx="107.43" cy="237.17" r="1.6"/><circle cx="109.07" cy="235.39" r="1.6"/><circle cx="110.71" cy="234.57" r="1.6"/><circle cx="112.36" cy="234.98" r="1.6"/><circle cx="114.00" cy="236.41" r="1.6"/><circle cx="115.64" cy="238.27" r="1.6"/><circle cx="117.29" cy="239.87" r="1.6"/><circle cx="118.93" cy="240.62" r="1.6"/><circle cx="120.57" cy="240.31" r="1.6"/><circle cx="122.22" cy="239.09" r="1.6"/><circle cx="123.86" cy="237.44" r="1.6"/><circle cx="125.50" cy="235.97" r="1.6"/><circle cx="127.15" cy="235.19" r="1.6"/><circle cx="128.79" cy="235.34" r="1.6"/><circle cx="130.43" cy="236.32" r="1.6"/><circle cx="132.08" cy="237.76" r="1.6"/><circle cx="133.72" cy="239.13" r="1.6"/><circle cx="135.36" cy="239.98" r="1.6"/><circle cx="137.01" cy="240.03" r="1.6"/><circle cx="138.65" cy="239.32" r="1.6"/><circle cx="140.29" cy="238.12" r="1.6"/><circle cx="141.94" cy="236.84" r="1.6"/><circle cx="143.58" cy="235.92" r="1.6"/><circle cx="145.22" cy="235.63" r="1.6"/><circle cx="146.87" cy="236.05" r="1.6"/><circle cx="148.51" cy="236.99" r="1.6"/><circle cx="150.15" cy="238.13" r="1.6"/><circle cx="151.80" cy="239.11" r="1.6"/><circle cx="153.44" cy="239.62" r="1.6"/><circle cx="155.09" cy="239.52" r="1.6"/><circle cx="156.73" cy="238.88" r="1.6"/><circle cx="158.37" cy="237.92" r="1.6"/><circle cx="160.02" cy="236.95" r="1.6"/><circle cx="161.66" cy="236.26" r="1.6"/><circle cx="163.30" cy="236.05" r="1.6"/><circle cx="164.95" cy="236.36" r="1.6"/><circle cx="166.59" cy="237.06" r="1.6"/><circle cx="168.23" cy="237.94" r="1.6"/><circle cx="169.88" cy="238.73" r="1.6"/><circle cx="171.52" cy="239.20" r="1.6"/><circle cx="173.16" cy="239.24" r="1.6"/><circle cx="174.81" cy="238.85" r="1.6"/></g>
</g>
<rect x="27.6" y="148.7" width="148.20" height="114.00" fill="none" stroke="#222" stroke-width="1.1"/>
<line x1="27.6" y1="260.60" x2="30.0" y2="260.60" stroke="#222" stroke-width="0.8"/>
<text x="24.60" y="263.00" font-family='"Liberation Sans", sans-serif' font-size="6.8" font-weight="bold" fill="#111" text-anchor="end" >-1</text>
<line x1="27.6" y1="238.20" x2="30.0" y2="238.20" stroke="#222" stroke-width="0.8"/>
<text x="24.60" y="240.60" font-family='"Liberation Sans", sans-serif' font-size="6.8" font-weight="bold" fill="#111" text-anchor="end" >0</text>
<line x1="27.6" y1="215.80" x2="30.0" y2="215.80" stroke="#222" stroke-width="0.8"/>
<text x="24.60" y="218.20" font-family='"Liberation Sans", sans-serif' font-size="6.8" font-weight="bold" fill="#111" text-anchor="end" >1</text>
<line x1="27.6" y1="193.40" x2="30.0" y2="193.40" stroke="#222" stroke-width="0.8"/>
<text x="24.60" y="195.80" font-family='"Liberation Sans", sans-serif' font-size="6.8" font-weight="bold" fill="#111" text-anchor="end" >2</text>
<line x1="27.6" y1="171.00" x2="30.0" y2="171.00" stroke="#222" stroke-width="0.8"/>
<text x="24.60" y="173.40" font-family='"Liberation Sans", sans-serif' font-size="6.8" font-weight="bold" fill="#111" text-anchor="end" >3</text>
<line x1="27.6" y1="148.60" x2="30.0" y2="148.60" stroke="#222" stroke-width="0.8"/>
<text x="24.60" y="151.00" font-family='"Liberation Sans", sans-serif' font-size="6.8" font-weight="bold" fill="#111" text-anchor="end" >4</text>
<line x1="27.6" y1="249.40" x2="28.900000000000002" y2="249.40" stroke="#222" stroke-width="0.7"/>
<line x1="27.6" y1="227.00" x2="28.900000000000002" y2="227.00" stroke="#222" stroke-width="0.7"/>
<line x1="27.6" y1="204.60" x2="28.900000000000002" y2="204.60" stroke="#222" stroke-width="0.7"/>
<line x1="27.6" y1="182.20" x2="28.900000000000002" y2="182.20" stroke="#222" stroke-width="0.7"/>
<line x1="27.6" y1="159.80" x2="28.900000000000002" y2="159.80" stroke="#222" stroke-width="0.7"/>
<line x1="26.90" y1="262.7" x2="26.90" y2="260.3" stroke="#222" stroke-width="0.8"/>
<text x="26.90" y="271.00" font-family='"Liberation Sans", sans-serif' font-size="6.8" font-weight="bold" fill="#111" text-anchor="middle" >0</text>
<line x1="51.80" y1="262.7" x2="51.80" y2="261.4" stroke="#222" stroke-width="0.8"/>
<line x1="76.70" y1="262.7" x2="76.70" y2="260.3" stroke="#222" stroke-width="0.8"/>
<text x="76.70" y="271.00" font-family='"Liberation Sans", sans-serif' font-size="6.8" font-weight="bold" fill="#111" text-anchor="middle" >2</text>
<line x1="101.60" y1="262.7" x2="101.60" y2="261.4" stroke="#222" stroke-width="0.8"/>
<line x1="126.50" y1="262.7" x2="126.50" y2="260.3" stroke="#222" stroke-width="0.8"/>
<text x="126.50" y="271.00" font-family='"Liberation Sans", sans-serif' font-size="6.8" font-weight="bold" fill="#111" text-anchor="middle" >4</text>
<line x1="151.40" y1="262.7" x2="151.40" y2="261.4" stroke="#222" stroke-width="0.8"/>
<line x1="176.30" y1="262.7" x2="176.30" y2="260.3" stroke="#222" stroke-width="0.8"/>
<text x="176.30" y="271.00" font-family='"Liberation Sans", sans-serif' font-size="6.8" font-weight="bold" fill="#111" text-anchor="middle" >6</text>
<line x1="29.9" y1="155.0" x2="42.2" y2="155.0" stroke="#c658b0" stroke-width="1.0"/>
<text x="45.00" y="157.60" font-family='"Liberation Sans", sans-serif' font-size="7.4" font-weight="bold" fill="#111" text-anchor="start" >Data</text>
<circle cx="35.8" cy="164.6" r="2.2" fill="#cfeef2" stroke="#9cd8e4" stroke-width="0.8"/>
<text x="45.00" y="167.00" font-family='"Liberation Sans", sans-serif' font-size="7.4" font-weight="bold" fill="#111" text-anchor="start" >Fit</text>
<text x="101.40" y="278.40" font-family='"Liberation Sans", sans-serif' font-size="8.0" font-weight="bold" fill="#111" text-anchor="middle" >R (&#197;)</text>
<text transform="translate(14.4,205.5) rotate(-90)" font-family='"Liberation Sans", sans-serif' font-size="7.6" font-weight="bold" fill="#111" text-anchor="middle">|FT (<tspan font-style="italic">k</tspan><tspan font-size="4.5" dy="-2.5">3</tspan><tspan dy="2.5" font-style="italic">&#967;</tspan>(<tspan font-style="italic">k</tspan>))| (&#197;<tspan font-size="4.5" dy="-2.5">-4</tspan><tspan dy="2.5">)</tspan></text>
<text x="8.40" y="154.70" font-family='"Liberation Sans", sans-serif' font-size="15.5" font-weight="bold" fill="#000" text-anchor="start" >c</text>
<g stroke="#a87a5e" stroke-width="1.4" opacity="0.8"><line x1="128.5" y1="164.3" x2="123.3" y2="173.2"/><line x1="128.5" y1="164.3" x2="133.7" y2="173.2"/><line x1="123.3" y1="173.2" x2="133.7" y2="173.2"/><line x1="123.3" y1="173.2" x2="118.2" y2="182.1"/><line x1="123.3" y1="173.2" x2="128.5" y2="182.1"/><line x1="133.7" y1="173.2" x2="128.5" y2="182.1"/><line x1="133.7" y1="173.2" x2="138.8" y2="182.1"/><line x1="118.2" y1="182.1" x2="128.5" y2="182.1"/><line x1="118.2" y1="182.1" x2="113.0" y2="191.0"/><line x1="118.2" y1="182.1" x2="123.3" y2="191.0"/><line x1="128.5" y1="182.1" x2="138.8" y2="182.1"/><line x1="128.5" y1="182.1" x2="123.3" y2="191.0"/><line x1="128.5" y1="182.1" x2="133.7" y2="191.0"/><line x1="138.8" y1="182.1" x2="133.7" y2="191.0"/><line x1="138.8" y1="182.1" x2="143.9" y2="191.0"/><line x1="113.0" y1="191.0" x2="123.3" y2="191.0"/><line x1="113.0" y1="191.0" x2="107.9" y2="199.9"/><line x1="113.0" y1="191.0" x2="118.2" y2="199.9"/><line x1="123.3" y1="191.0" x2="133.7" y2="191.0"/><line x1="123.3" y1="191.0" x2="118.2" y2="199.9"/><line x1="123.3" y1="191.0" x2="128.5" y2="199.9"/><line x1="133.7" y1="191.0" x2="143.9" y2="191.0"/><line x1="133.7" y1="191.0" x2="128.5" y2="199.9"/><line x1="133.7" y1="191.0" x2="138.8" y2="199.9"/><line x1="143.9" y1="191.0" x2="138.8" y2="199.9"/><line x1="143.9" y1="191.0" x2="149.1" y2="199.9"/><line x1="107.9" y1="199.9" x2="118.2" y2="199.9"/><line x1="118.2" y1="199.9" x2="128.5" y2="199.9"/><line x1="128.5" y1="199.9" x2="138.8" y2="199.9"/><line x1="138.8" y1="199.9" x2="149.1" y2="199.9"/></g>
<circle cx="128.5" cy="164.3" r="3.8" fill="#fff" stroke="#b8a090" stroke-width="0.8"/><circle cx="123.3" cy="173.2" r="3.8" fill="#fff" stroke="#b8a090" stroke-width="0.8"/><circle cx="133.7" cy="173.2" r="3.8" fill="#fff" stroke="#b8a090" stroke-width="0.8"/><circle cx="118.2" cy="182.1" r="4.6" fill="#fff" stroke="#b8a090" stroke-width="0.8"/><circle cx="128.5" cy="182.1" r="3.8" fill="#fff" stroke="#b8a090" stroke-width="0.8"/><circle cx="138.8" cy="182.1" r="4.6" fill="#fff" stroke="#b8a090" stroke-width="0.8"/><circle cx="113.0" cy="191.0" r="3.8" fill="#fff" stroke="#b8a090" stroke-width="0.8"/><circle cx="123.3" cy="191.0" r="3.8" fill="#fff" stroke="#b8a090" stroke-width="0.8"/><circle cx="133.7" cy="191.0" r="3.8" fill="#fff" stroke="#b8a090" stroke-width="0.8"/><circle cx="143.9" cy="191.0" r="3.8" fill="#fff" stroke="#b8a090" stroke-width="0.8"/><circle cx="107.9" cy="199.9" r="3.8" fill="#fff" stroke="#b8a090" stroke-width="0.8"/><circle cx="118.2" cy="199.9" r="3.8" fill="#fff" stroke="#b8a090" stroke-width="0.8"/><circle cx="128.5" cy="199.9" r="4.6" fill="#fff" stroke="#b8a090" stroke-width="0.8"/><circle cx="138.8" cy="199.9" r="3.8" fill="#fff" stroke="#b8a090" stroke-width="0.8"/><circle cx="149.1" cy="199.9" r="3.8" fill="#fff" stroke="#b8a090" stroke-width="0.8"/>
<g fill="#a87a5e"><circle cx="128.5" cy="170.2" r="1.05"/><circle cx="123.4" cy="179.1" r="1.05"/><circle cx="128.5" cy="176.2" r="1.05"/><circle cx="133.7" cy="179.1" r="1.05"/><circle cx="118.2" cy="188.0" r="1.05"/><circle cx="123.4" cy="185.1" r="1.05"/><circle cx="128.5" cy="188.0" r="1.05"/><circle cx="133.7" cy="185.1" r="1.05"/><circle cx="138.8" cy="188.0" r="1.05"/><circle cx="113.0" cy="196.9" r="1.05"/><circle cx="118.2" cy="194.0" r="1.05"/><circle cx="123.4" cy="196.9" r="1.05"/><circle cx="128.5" cy="194.0" r="1.05"/><circle cx="133.7" cy="196.9" r="1.05"/><circle cx="138.8" cy="194.0" r="1.05"/><circle cx="144.0" cy="196.9" r="1.05"/><circle cx="125.3" cy="161.7" r="1.05"/><circle cx="131.7" cy="161.7" r="1.05"/><circle cx="120.1" cy="170.6" r="1.05"/><circle cx="136.8" cy="170.6" r="1.05"/><circle cx="115.0" cy="179.5" r="1.05"/><circle cx="142.0" cy="179.5" r="1.05"/><circle cx="109.8" cy="188.4" r="1.05"/><circle cx="147.1" cy="188.4" r="1.05"/><circle cx="104.7" cy="197.3" r="1.05"/><circle cx="102.8" cy="202.9" r="1.05"/><circle cx="113.0" cy="202.9" r="1.05"/><circle cx="113.1" cy="202.9" r="1.05"/><circle cx="123.3" cy="202.9" r="1.05"/><circle cx="123.4" cy="202.9" r="1.05"/><circle cx="133.6" cy="202.9" r="1.05"/><circle cx="133.7" cy="202.9" r="1.05"/><circle cx="143.9" cy="202.9" r="1.05"/><circle cx="152.3" cy="197.3" r="1.05"/><circle cx="144.0" cy="202.9" r="1.05"/><circle cx="154.2" cy="202.9" r="1.05"/></g>
<g fill="#b6bfce"><circle cx="125.9" cy="168.8" r="1.0"/><circle cx="131.1" cy="168.8" r="1.0"/><circle cx="128.5" cy="173.2" r="1.0"/><circle cx="120.8" cy="177.7" r="1.0"/><circle cx="125.9" cy="177.7" r="1.0"/><circle cx="131.1" cy="177.7" r="1.0"/><circle cx="136.2" cy="177.7" r="1.0"/><circle cx="123.3" cy="182.1" r="1.0"/><circle cx="115.6" cy="186.6" r="1.0"/><circle cx="120.8" cy="186.6" r="1.0"/><circle cx="133.7" cy="182.1" r="1.0"/><circle cx="125.9" cy="186.6" r="1.0"/><circle cx="131.1" cy="186.6" r="1.0"/><circle cx="136.2" cy="186.6" r="1.0"/><circle cx="141.4" cy="186.6" r="1.0"/><circle cx="118.2" cy="191.0" r="1.0"/><circle cx="110.5" cy="195.4" r="1.0"/><circle cx="115.6" cy="195.4" r="1.0"/><circle cx="128.5" cy="191.0" r="1.0"/><circle cx="120.8" cy="195.4" r="1.0"/><circle cx="125.9" cy="195.4" r="1.0"/><circle cx="138.8" cy="191.0" r="1.0"/><circle cx="131.1" cy="195.4" r="1.0"/><circle cx="136.2" cy="195.4" r="1.0"/><circle cx="141.4" cy="195.4" r="1.0"/><circle cx="146.5" cy="195.4" r="1.0"/><circle cx="113.1" cy="199.9" r="1.0"/><circle cx="123.3" cy="199.9" r="1.0"/><circle cx="133.7" cy="199.9" r="1.0"/><circle cx="144.0" cy="199.9" r="1.0"/><circle cx="124.1" cy="166.7" r="1.0"/><circle cx="132.9" cy="166.7" r="1.0"/><circle cx="118.9" cy="175.6" r="1.0"/><circle cx="138.1" cy="175.6" r="1.0"/><circle cx="113.8" cy="184.5" r="1.0"/><circle cx="143.2" cy="184.5" r="1.0"/><circle cx="108.6" cy="193.4" r="1.0"/><circle cx="148.3" cy="193.4" r="1.0"/><circle cx="103.5" cy="202.3" r="1.0"/><circle cx="107.9" cy="204.5" r="1.0"/><circle cx="118.2" cy="204.5" r="1.0"/><circle cx="128.5" cy="204.5" r="1.0"/><circle cx="138.8" cy="204.5" r="1.0"/><circle cx="153.5" cy="202.3" r="1.0"/><circle cx="149.1" cy="204.5" r="1.0"/></g>
<circle cx="128.5" cy="154.4" r="1.0" fill="#b6bfce"/><line x1="128.5" y1="155.2" x2="128.5" y2="159.8" stroke="#a87a5e" stroke-width="0.9"/>
<g stroke="#b07868" stroke-width="0.7"><line x1="128.5" y1="188.0" x2="121.5" y2="184.0"/><line x1="128.5" y1="188.0" x2="135.5" y2="184.0"/><line x1="128.5" y1="188.0" x2="128.5" y2="195"/></g>
<circle cx="128.5" cy="188.0" r="1.9" fill="#fff" stroke="#e0509c" stroke-width="1.1"/>
<circle cx="164.6" cy="190.6" r="1.0" fill="#a87a5e"/><circle cx="164.6" cy="197.2" r="1.0" fill="#b6bfce"/><circle cx="164.6" cy="203.6" r="1.1" fill="#fff" stroke="#e0509c" stroke-width="0.7"/>
<text x="166.40" y="192.00" font-family='"Liberation Sans", sans-serif' font-size="3.2" font-weight="normal" fill="#555" text-anchor="start" >C</text>
<text x="166.40" y="198.60" font-family='"Liberation Sans", sans-serif' font-size="3.2" font-weight="normal" fill="#555" text-anchor="start" >N</text>
<text x="166.40" y="205.00" font-family='"Liberation Sans", sans-serif' font-size="3.2" font-weight="normal" fill="#555" text-anchor="start" >Ag</text>
<g clip-path="url(#cd)" fill="none" stroke-width="1.0">
<polyline points="206.90,260.57 207.27,260.41 207.63,260.24 208.00,260.05 208.37,259.87 208.74,259.70 209.10,259.55 209.47,259.41 209.84,259.31 210.20,259.24 210.57,259.22 210.94,259.23 211.30,259.28 211.67,259.36 212.04,259.47 212.41,259.60 212.77,259.74 213.14,259.88 213.51,260.02 213.87,260.14 214.24,260.24 214.61,260.32 214.97,260.37 215.34,260.40 215.71,260.40 216.08,260.38 216.44,260.35 216.81,260.30 217.18,260.24 217.54,260.17 217.91,260.11 218.28,260.05 218.64,260.00 219.01,259.97 219.38,259.95 219.75,259.94 220.11,259.95 220.48,259.98 220.85,260.02 221.21,260.08 221.58,260.15 221.95,260.23 222.31,260.32 222.68,260.41 223.05,260.51 223.42,260.60 223.78,260.69 224.15,260.77 224.52,260.84 224.88,260.90 225.25,260.94 225.62,260.96 225.98,260.96 226.35,260.92 226.72,260.83 227.09,260.69 227.45,260.48 227.82,260.18 228.19,259.76 228.55,259.19 228.92,258.44 229.29,257.49 229.65,256.27 230.02,254.77 230.39,252.94 230.75,250.75 231.12,248.18 231.49,245.22 231.86,241.88 232.22,238.18 232.59,234.18 232.96,229.95 233.32,225.57 233.69,221.18 234.06,216.89 234.43,212.85 234.79,209.21 235.16,206.10 235.53,203.65 235.89,201.95 236.26,201.08 236.63,201.08 236.99,201.95 237.36,203.65 237.73,206.10 238.09,209.21 238.46,212.85 238.83,216.89 239.20,221.18 239.56,225.57 239.93,229.95 240.30,234.18 240.66,238.18 241.03,241.88 241.40,245.22 241.77,248.18 242.13,250.75 242.50,252.94 242.87,254.78 243.23,256.29 243.60,257.50 243.97,258.47 244.33,259.22 244.70,259.80 245.07,260.24 245.44,260.56 245.80,260.80 246.17,260.96 246.54,261.08 246.90,261.14 247.27,261.17 247.64,261.15 248.00,261.09 248.37,260.99 248.74,260.82 249.11,260.59 249.47,260.31 249.84,259.97 250.21,259.61 250.57,259.24 250.94,258.92 251.31,258.68 251.67,258.55 252.04,258.55 252.41,258.68 252.78,258.90 253.14,259.19 253.51,259.50 253.88,259.76 254.24,259.92 254.61,259.94 254.98,259.81 255.34,259.53 255.71,259.18 256.08,258.82 256.44,258.57 256.81,258.48 257.18,258.58 257.55,258.86 257.91,259.25 258.28,259.63 258.65,259.94 259.01,260.09 259.38,260.05 259.75,259.80 260.12,259.33 260.48,258.65 260.85,257.76 261.22,256.69 261.58,255.46 261.95,254.13 262.32,252.78 262.68,251.47 263.05,250.32 263.42,249.40 263.79,248.79 264.15,248.54 264.52,248.66 264.89,249.13 265.25,249.88 265.62,250.84 265.99,251.91 266.35,252.98 266.72,253.97 267.09,254.81 267.46,255.46 267.82,255.88 268.19,256.10 268.56,256.14 268.92,256.03 269.29,255.82 269.66,255.57 270.02,255.32 270.39,255.11 270.76,254.97 271.12,254.93 271.49,255.00 271.86,255.18 272.23,255.46 272.59,255.82 272.96,256.25 273.33,256.72 273.69,257.21 274.06,257.69 274.43,258.14 274.80,258.55 275.16,258.90 275.53,259.18 275.90,259.40 276.26,259.56 276.63,259.65 277.00,259.68 277.36,259.67 277.73,259.62 278.10,259.54 278.47,259.43 278.83,259.31 279.20,259.18 279.57,259.05 279.93,258.93 280.30,258.82 280.67,258.72 281.03,258.64 281.40,258.58 281.77,258.54 282.13,258.52 282.50,258.53 282.87,258.57 283.24,258.62 283.60,258.70 283.97,258.80 284.34,258.91 284.70,259.03 285.07,259.17 285.44,259.31 285.81,259.45 286.17,259.59 286.54,259.73 286.91,259.86 287.27,259.98 287.64,260.09 288.01,260.19 288.37,260.27 288.74,260.34 289.11,260.39 289.48,260.43 289.84,260.45 290.21,260.46 290.58,260.45 290.94,260.43 291.31,260.40 291.68,260.35 292.04,260.30 292.41,260.24 292.78,260.17 293.14,260.10 293.51,260.02 293.88,259.94 294.25,259.86 294.61,259.77 294.98,259.69 295.35,259.62 295.71,259.55 296.08,259.48 296.45,259.42 296.82,259.37 297.18,259.32 297.55,259.29 297.92,259.26 298.28,259.25 298.65,259.24 299.02,259.25 299.38,259.26 299.75,259.29 300.12,259.32 300.49,259.37 300.85,259.42 301.22,259.48 301.59,259.55 301.95,259.63 302.32,259.71 302.69,259.79 303.05,259.88 303.42,259.97 303.79,260.06 304.16,260.15 304.52,260.24 304.89,260.32 305.26,260.41 305.62,260.49 305.99,260.57 306.36,260.65 306.72,260.72 307.09,260.79 307.46,260.85 307.83,260.91 308.19,260.96 308.56,261.01 308.93,261.05 309.29,261.09 309.66,261.12 310.03,261.16 310.39,261.18 310.76,261.21 311.13,261.23 311.50,261.25 311.86,261.26 312.23,261.28 312.60,261.29 312.96,261.30 313.33,261.31 313.70,261.31 314.06,261.32 314.43,261.32 314.80,261.32 315.17,261.32 315.53,261.32 315.90,261.32 316.27,261.32 316.63,261.32 317.00,261.31 317.37,261.30 317.73,261.30 318.10,261.29 318.47,261.28 318.84,261.26 319.20,261.25 319.57,261.23 319.94,261.21 320.30,261.19 320.67,261.16 321.04,261.13 321.40,261.10 321.77,261.06 322.14,261.02 322.50,260.98 322.87,260.93 323.24,260.88 323.61,260.82 323.97,260.76 324.34,260.70 324.71,260.64 325.07,260.57 325.44,260.49 325.81,260.42 326.18,260.35 326.54,260.27 326.91,260.20 327.28,260.12 327.64,260.05 328.01,259.98 328.38,259.91 328.74,259.85 329.11,259.79 329.48,259.74 329.85,259.70 330.21,259.66 330.58,259.63 330.95,259.61 331.31,259.60 331.68,259.59 332.05,259.60 332.41,259.61 332.78,259.63 333.15,259.66 333.52,259.70 333.88,259.74 334.25,259.79 334.62,259.85 334.98,259.91 335.35,259.98 335.72,260.05 336.08,260.12 336.45,260.20 336.82,260.27 337.19,260.35 337.55,260.42 337.92,260.49 338.29,260.57 338.65,260.64 339.02,260.70 339.39,260.76 339.75,260.82 340.12,260.88 340.49,260.93 340.86,260.98 341.22,261.02 341.59,261.06 341.96,261.10 342.32,261.13 342.69,261.16 343.06,261.19 343.42,261.21 343.79,261.23 344.16,261.25 344.52,261.26 344.89,261.28 345.26,261.29 345.63,261.30 345.99,261.31 346.36,261.31 346.73,261.32 347.09,261.33 347.46,261.33 347.83,261.33 348.20,261.34 348.56,261.34 348.93,261.34 349.30,261.34 349.66,261.34 350.03,261.34 350.40,261.34 350.76,261.34 351.13,261.35 351.50,261.35 351.87,261.35 352.23,261.35 352.60,261.35 352.97,261.35 353.33,261.35 353.70,261.35" stroke="#e6a898"/>
<polyline points="206.90,261.12 207.27,261.05 207.63,260.96 208.00,260.85 208.37,260.72 208.74,260.57 209.10,260.41 209.47,260.23 209.84,260.05 210.20,259.87 210.57,259.69 210.94,259.53 211.30,259.39 211.67,259.29 212.04,259.21 212.41,259.18 212.77,259.18 213.14,259.23 213.51,259.30 213.87,259.40 214.24,259.52 214.61,259.65 214.97,259.79 215.34,259.91 215.71,260.03 216.08,260.12 216.44,260.20 216.81,260.24 217.18,260.27 217.54,260.27 217.91,260.25 218.28,260.21 218.64,260.15 219.01,260.09 219.38,260.02 219.75,259.94 220.11,259.87 220.48,259.80 220.85,259.73 221.21,259.68 221.58,259.64 221.95,259.61 222.31,259.59 222.68,259.59 223.05,259.61 223.42,259.64 223.78,259.68 224.15,259.74 224.52,259.80 224.88,259.88 225.25,259.96 225.62,260.03 225.98,260.11 226.35,260.17 226.72,260.22 227.09,260.25 227.45,260.25 227.82,260.22 228.19,260.15 228.55,260.04 228.92,259.88 229.29,259.67 229.65,259.43 230.02,259.16 230.39,258.87 230.75,258.58 231.12,258.32 231.49,258.08 231.86,257.91 232.22,257.80 232.59,257.78 232.96,257.83 233.32,257.97 233.69,258.18 234.06,258.44 234.43,258.75 234.79,259.08 235.16,259.42 235.53,259.75 235.89,260.05 236.26,260.32 236.63,260.55 236.99,260.74 237.36,260.89 237.73,261.00 238.09,261.08 238.46,261.12 238.83,261.14 239.20,261.12 239.56,261.07 239.93,260.99 240.30,260.87 240.66,260.70 241.03,260.46 241.40,260.16 241.77,259.76 242.13,259.26 242.50,258.63 242.87,257.86 243.23,256.93 243.60,255.83 243.97,254.53 244.33,253.03 244.70,251.33 245.07,249.45 245.44,247.38 245.80,245.17 246.17,242.84 246.54,240.44 246.90,238.03 247.27,235.67 247.64,233.41 248.00,231.33 248.37,229.46 248.74,227.84 249.11,226.48 249.47,225.35 249.84,224.39 250.21,223.61 250.57,222.96 250.94,222.21 251.31,221.09 251.67,219.30 252.04,216.59 252.41,212.79 252.78,207.82 253.14,201.81 253.51,195.04 253.88,187.97 254.24,181.18 254.61,175.34 254.98,171.08 255.34,168.93 255.71,169.22 256.08,172.05 256.44,177.27 256.81,184.51 257.18,193.20 257.55,202.72 257.91,212.43 258.28,221.74 258.65,230.22 259.01,237.55 259.38,243.58 259.75,248.25 260.12,251.63 260.48,253.82 260.85,254.97 261.22,255.24 261.58,254.81 261.95,253.89 262.32,252.68 262.68,251.43 263.05,250.34 263.42,249.61 263.79,249.37 264.15,249.67 264.52,250.48 264.89,251.70 265.25,253.17 265.62,254.74 265.99,256.26 266.35,257.60 266.72,258.72 267.09,259.59 267.46,260.23 267.82,260.67 268.19,260.95 268.56,261.13 268.92,261.23 269.29,261.28 269.66,261.30 270.02,261.30 270.39,261.28 270.76,261.25 271.12,261.19 271.49,261.10 271.86,260.97 272.23,260.79 272.59,260.53 272.96,260.20 273.33,259.77 273.69,259.24 274.06,258.60 274.43,257.87 274.80,257.07 275.16,256.23 275.53,255.39 275.90,254.60 276.26,253.91 276.63,253.38 277.00,253.04 277.36,252.92 277.73,253.04 278.10,253.38 278.47,253.91 278.83,254.60 279.20,255.39 279.57,256.23 279.93,257.07 280.30,257.87 280.67,258.60 281.03,259.24 281.40,259.77 281.77,260.20 282.13,260.53 282.50,260.79 282.87,260.97 283.24,261.10 283.60,261.19 283.97,261.25 284.34,261.29 284.70,261.31 285.07,261.33 285.44,261.34 285.81,261.34 286.17,261.34 286.54,261.34 286.91,261.34 287.27,261.34 287.64,261.34 288.01,261.33 288.37,261.32 288.74,261.30 289.11,261.25 289.48,261.17 289.84,261.04 290.21,260.84 290.58,260.53 290.94,260.07 291.31,259.43 291.68,258.56 292.04,257.44 292.41,256.06 292.78,254.44 293.14,252.65 293.51,250.77 293.88,248.93 294.25,247.29 294.61,245.98 294.98,245.14 295.35,244.85 295.71,245.14 296.08,245.98 296.45,247.29 296.82,248.93 297.18,250.77 297.55,252.65 297.92,254.44 298.28,256.06 298.65,257.44 299.02,258.56 299.38,259.43 299.75,260.07 300.12,260.52 300.49,260.81 300.85,260.98 301.22,261.05 301.59,261.01 301.95,260.85 302.32,260.55 302.69,260.06 303.05,259.35 303.42,258.41 303.79,257.26 304.16,255.95 304.52,254.60 304.89,253.38 305.26,252.44 305.62,251.93 305.99,251.93 306.36,252.44 306.72,253.38 307.09,254.60 307.46,255.94 307.83,257.25 308.19,258.41 308.56,259.35 308.93,260.05 309.29,260.55 309.66,260.87 310.03,261.06 310.39,261.17 310.76,261.22 311.13,261.23 311.50,261.23 311.86,261.21 312.23,261.18 312.60,261.14 312.96,261.10 313.33,261.05 313.70,260.99 314.06,260.93 314.43,260.86 314.80,260.78 315.17,260.70 315.53,260.61 315.90,260.52 316.27,260.42 316.63,260.32 317.00,260.22 317.37,260.12 317.73,260.03 318.10,259.94 318.47,259.85 318.84,259.78 319.20,259.71 319.57,259.66 319.94,259.62 320.30,259.60 320.67,259.59 321.04,259.60 321.40,259.62 321.77,259.66 322.14,259.71 322.50,259.78 322.87,259.85 323.24,259.94 323.61,260.03 323.97,260.12 324.34,260.22 324.71,260.32 325.07,260.42 325.44,260.52 325.81,260.61 326.18,260.70 326.54,260.78 326.91,260.86 327.28,260.93 327.64,260.99 328.01,261.05 328.38,261.10 328.74,261.14 329.11,261.18 329.48,261.21 329.85,261.24 330.21,261.26 330.58,261.28 330.95,261.29 331.31,261.31 331.68,261.31 332.05,261.32 332.41,261.33 332.78,261.33 333.15,261.34 333.52,261.34 333.88,261.34 334.25,261.34 334.62,261.34 334.98,261.34 335.35,261.33 335.72,261.32 336.08,261.30 336.45,261.26 336.82,261.21 337.19,261.13 337.55,261.01 337.92,260.85 338.29,260.64 338.65,260.38 339.02,260.06 339.39,259.69 339.75,259.30 340.12,258.90 340.49,258.52 340.86,258.21 341.22,257.97 341.59,257.85 341.96,257.85 342.32,257.97 342.69,258.21 343.06,258.52 343.42,258.90 343.79,259.30 344.16,259.69 344.52,260.06 344.89,260.38 345.26,260.64 345.63,260.85 345.99,261.01 346.36,261.13 346.73,261.21 347.09,261.26 347.46,261.30 347.83,261.32 348.20,261.33 348.56,261.34 348.93,261.34 349.30,261.35 349.66,261.35 350.03,261.35 350.40,261.35 350.76,261.35 351.13,261.35 351.50,261.35 351.87,261.35 352.23,261.35 352.60,261.35 352.97,261.35 353.33,261.35 353.70,261.35" stroke="#d068d8"/>
<polyline points="206.90,260.18 207.27,259.86 207.63,259.50 208.00,259.14 208.37,258.81 208.74,258.52 209.10,258.31 209.47,258.20 209.84,258.20 210.20,258.31 210.57,258.52 210.94,258.81 211.30,259.14 211.67,259.50 212.04,259.85 212.41,260.18 212.77,260.46 213.14,260.69 213.51,260.87 213.87,261.00 214.24,261.07 214.61,261.10 214.97,261.09 215.34,261.04 215.71,260.94 216.08,260.79 216.44,260.58 216.81,260.31 217.18,259.96 217.54,259.53 217.91,259.01 218.28,258.40 218.64,257.71 219.01,256.94 219.38,256.11 219.75,255.25 220.11,254.38 220.48,253.53 220.85,252.74 221.21,252.04 221.58,251.46 221.95,251.02 222.31,250.73 222.68,250.61 223.05,250.63 223.42,250.79 223.78,251.05 224.15,251.40 224.52,251.80 224.88,252.23 225.25,252.65 225.62,253.05 225.98,253.41 226.35,253.70 226.72,253.93 227.09,254.06 227.45,254.09 227.82,254.00 228.19,253.76 228.55,253.35 228.92,252.74 229.29,251.90 229.65,250.81 230.02,249.45 230.39,247.80 230.75,245.86 231.12,243.66 231.49,241.21 231.86,238.57 232.22,235.79 232.59,232.95 232.96,230.13 233.32,227.42 233.69,224.93 234.06,222.74 234.43,220.94 234.79,219.60 235.16,218.78 235.53,218.50 235.89,218.80 236.26,219.64 236.63,221.01 236.99,222.85 237.36,225.09 237.73,227.66 238.09,230.45 238.46,233.39 238.83,236.39 239.20,239.36 239.56,242.23 239.93,244.96 240.30,247.49 240.66,249.82 241.03,251.92 241.40,253.82 241.77,255.52 242.13,257.05 242.50,258.41 242.87,259.59 243.23,260.56 243.60,261.31 243.97,261.79 244.33,262.03 244.70,262.04 245.07,261.87 245.44,261.58 245.80,261.19 246.17,260.74 246.54,260.22 246.90,259.60 247.27,258.84 247.64,257.91 248.00,256.81 248.37,255.53 248.74,254.09 249.11,252.54 249.47,250.95 249.84,249.41 250.21,248.01 250.57,246.86 250.94,246.04 251.31,245.61 251.67,245.61 252.04,246.04 252.41,246.86 252.78,248.02 253.14,249.41 253.51,250.96 253.88,252.55 254.24,254.10 254.61,255.54 254.98,256.82 255.34,257.91 255.71,258.81 256.08,259.53 256.44,260.08 256.81,260.48 257.18,260.77 257.55,260.98 257.91,261.11 258.28,261.19 258.65,261.24 259.01,261.27 259.38,261.27 259.75,261.26 260.12,261.24 260.48,261.20 260.85,261.14 261.22,261.05 261.58,260.94 261.95,260.79 262.32,260.60 262.68,260.36 263.05,260.07 263.42,259.71 263.79,259.29 264.15,258.80 264.52,258.25 264.89,257.63 265.25,256.96 265.62,256.26 265.99,255.54 266.35,254.83 266.72,254.14 267.09,253.52 267.46,252.98 267.82,252.54 268.19,252.23 268.56,252.07 268.92,252.04 269.29,252.17 269.66,252.44 270.02,252.83 270.39,253.33 270.76,253.91 271.12,254.54 271.49,255.21 271.86,255.87 272.23,256.52 272.59,257.14 272.96,257.69 273.33,258.19 273.69,258.62 274.06,258.97 274.43,259.26 274.80,259.49 275.16,259.65 275.53,259.76 275.90,259.83 276.26,259.86 276.63,259.86 277.00,259.83 277.36,259.78 277.73,259.72 278.10,259.65 278.47,259.57 278.83,259.48 279.20,259.39 279.57,259.29 279.93,259.19 280.30,259.09 280.67,258.99 281.03,258.90 281.40,258.80 281.77,258.70 282.13,258.61 282.50,258.52 282.87,258.43 283.24,258.35 283.60,258.27 283.97,258.20 284.34,258.13 284.70,258.06 285.07,258.01 285.44,257.95 285.81,257.91 286.17,257.87 286.54,257.83 286.91,257.80 287.27,257.78 287.64,257.76 288.01,257.75 288.37,257.74 288.74,257.73 289.11,257.73 289.48,257.74 289.84,257.74 290.21,257.75 290.58,257.75 290.94,257.76 291.31,257.76 291.68,257.76 292.04,257.76 292.41,257.76 292.78,257.75 293.14,257.73 293.51,257.71 293.88,257.68 294.25,257.64 294.61,257.60 294.98,257.55 295.35,257.49 295.71,257.42 296.08,257.35 296.45,257.28 296.82,257.19 297.18,257.11 297.55,257.02 297.92,256.94 298.28,256.86 298.65,256.78 299.02,256.70 299.38,256.63 299.75,256.57 300.12,256.53 300.49,256.49 300.85,256.47 301.22,256.46 301.59,256.47 301.95,256.50 302.32,256.54 302.69,256.60 303.05,256.68 303.42,256.78 303.79,256.89 304.16,257.01 304.52,257.16 304.89,257.31 305.26,257.47 305.62,257.65 305.99,257.83 306.36,258.01 306.72,258.20 307.09,258.38 307.46,258.57 307.83,258.75 308.19,258.92 308.56,259.09 308.93,259.24 309.29,259.38 309.66,259.51 310.03,259.62 310.39,259.72 310.76,259.79 311.13,259.85 311.50,259.88 311.86,259.90 312.23,259.89 312.60,259.87 312.96,259.82 313.33,259.75 313.70,259.66 314.06,259.55 314.43,259.42 314.80,259.28 315.17,259.12 315.53,258.95 315.90,258.78 316.27,258.59 316.63,258.41 317.00,258.22 317.37,258.04 317.73,257.87 318.10,257.71 318.47,257.56 318.84,257.43 319.20,257.31 319.57,257.22 319.94,257.15 320.30,257.11 320.67,257.09 321.04,257.10 321.40,257.14 321.77,257.20 322.14,257.28 322.50,257.38 322.87,257.50 323.24,257.64 323.61,257.79 323.97,257.95 324.34,258.12 324.71,258.29 325.07,258.47 325.44,258.64 325.81,258.80 326.18,258.96 326.54,259.11 326.91,259.24 327.28,259.36 327.64,259.47 328.01,259.56 328.38,259.64 328.74,259.70 329.11,259.75 329.48,259.78 329.85,259.80 330.21,259.81 330.58,259.81 330.95,259.80 331.31,259.78 331.68,259.76 332.05,259.73 332.41,259.70 332.78,259.67 333.15,259.65 333.52,259.62 333.88,259.60 334.25,259.58 334.62,259.57 334.98,259.57 335.35,259.57 335.72,259.58 336.08,259.60 336.45,259.62 336.82,259.65 337.19,259.69 337.55,259.74 337.92,259.79 338.29,259.85 338.65,259.91 339.02,259.98 339.39,260.05 339.75,260.12 340.12,260.20 340.49,260.27 340.86,260.35 341.22,260.42 341.59,260.49 341.96,260.57 342.32,260.64 342.69,260.70 343.06,260.76 343.42,260.82 343.79,260.88 344.16,260.93 344.52,260.98 344.89,261.02 345.26,261.06 345.63,261.10 345.99,261.13 346.36,261.16 346.73,261.19 347.09,261.21 347.46,261.23 347.83,261.25 348.20,261.26 348.56,261.28 348.93,261.29 349.30,261.30 349.66,261.31 350.03,261.31 350.40,261.32 350.76,261.33 351.13,261.33 351.50,261.33 351.87,261.34 352.23,261.34 352.60,261.34 352.97,261.34 353.33,261.34 353.70,261.34" stroke="#4a56c4"/>
</g>
<rect x="206.9" y="149.5" width="147.00" height="113.40" fill="none" stroke="#222" stroke-width="1.1"/>
<line x1="206.9" y1="262.40" x2="209.3" y2="262.40" stroke="#222" stroke-width="0.8"/>
<text x="203.70" y="264.80" font-family='"Liberation Sans", sans-serif' font-size="6.8" font-weight="bold" fill="#111" text-anchor="end" >0</text>
<line x1="206.9" y1="227.30" x2="209.3" y2="227.30" stroke="#222" stroke-width="0.8"/>
<text x="203.70" y="229.70" font-family='"Liberation Sans", sans-serif' font-size="6.8" font-weight="bold" fill="#111" text-anchor="end" >1</text>
<line x1="206.9" y1="192.20" x2="209.3" y2="192.20" stroke="#222" stroke-width="0.8"/>
<text x="203.70" y="194.60" font-family='"Liberation Sans", sans-serif' font-size="6.8" font-weight="bold" fill="#111" text-anchor="end" >2</text>
<line x1="206.9" y1="157.10" x2="209.3" y2="157.10" stroke="#222" stroke-width="0.8"/>
<text x="203.70" y="159.50" font-family='"Liberation Sans", sans-serif' font-size="6.8" font-weight="bold" fill="#111" text-anchor="end" >3</text>
<line x1="206.9" y1="244.85" x2="208.20000000000002" y2="244.85" stroke="#222" stroke-width="0.7"/>
<line x1="206.9" y1="209.75" x2="208.20000000000002" y2="209.75" stroke="#222" stroke-width="0.7"/>
<line x1="206.9" y1="174.65" x2="208.20000000000002" y2="174.65" stroke="#222" stroke-width="0.7"/>
<line x1="206.90" y1="262.9" x2="206.90" y2="260.5" stroke="#222" stroke-width="0.8"/>
<text x="206.90" y="270.90" font-family='"Liberation Sans", sans-serif' font-size="6.8" font-weight="bold" fill="#111" text-anchor="middle" >0</text>
<line x1="225.25" y1="262.9" x2="225.25" y2="261.59999999999997" stroke="#222" stroke-width="0.8"/>
<line x1="243.60" y1="262.9" x2="243.60" y2="260.5" stroke="#222" stroke-width="0.8"/>
<text x="243.60" y="270.90" font-family='"Liberation Sans", sans-serif' font-size="6.8" font-weight="bold" fill="#111" text-anchor="middle" >2</text>
<line x1="261.95" y1="262.9" x2="261.95" y2="261.59999999999997" stroke="#222" stroke-width="0.8"/>
<line x1="280.30" y1="262.9" x2="280.30" y2="260.5" stroke="#222" stroke-width="0.8"/>
<text x="280.30" y="270.90" font-family='"Liberation Sans", sans-serif' font-size="6.8" font-weight="bold" fill="#111" text-anchor="middle" >4</text>
<line x1="298.65" y1="262.9" x2="298.65" y2="261.59999999999997" stroke="#222" stroke-width="0.8"/>
<line x1="317.00" y1="262.9" x2="317.00" y2="260.5" stroke="#222" stroke-width="0.8"/>
<text x="317.00" y="270.90" font-family='"Liberation Sans", sans-serif' font-size="6.8" font-weight="bold" fill="#111" text-anchor="middle" >6</text>
<line x1="335.35" y1="262.9" x2="335.35" y2="261.59999999999997" stroke="#222" stroke-width="0.8"/>
<line x1="353.70" y1="262.9" x2="353.70" y2="260.5" stroke="#222" stroke-width="0.8"/>
<text x="353.70" y="270.90" font-family='"Liberation Sans", sans-serif' font-size="6.8" font-weight="bold" fill="#111" text-anchor="middle" >8</text>
<line x1="306.5" y1="155.6" x2="320" y2="155.6" stroke="#d068d8" stroke-width="1.0"/>
<text x="322.60" y="158.20" font-family='"Liberation Sans", sans-serif' font-size="7.4" font-weight="bold" fill="#111" text-anchor="start" >Ag foil</text>
<line x1="306.5" y1="164.6" x2="320" y2="164.6" stroke="#e6a898" stroke-width="1.0"/>
<text x="322.60" y="167.20" font-family='"Liberation Sans", sans-serif' font-size="7.4" font-weight="bold" fill="#111" text-anchor="start" >Ag<tspan font-size="4.4" dy="1.4">2</tspan><tspan dy="-1.4">O</tspan></text>
<line x1="306.5" y1="174.4" x2="320" y2="174.4" stroke="#4a56c4" stroke-width="1.0"/>
<text x="322.60" y="177.00" font-family='"Liberation Sans", sans-serif' font-size="7.4" font-weight="bold" fill="#111" text-anchor="start" >Ag<tspan font-size="4.4" dy="1.4">SA</tspan><tspan dy="-1.4">-CN</tspan></text>
<text x="236.60" y="196.30" font-family='"Liberation Sans", sans-serif' font-size="7.4" font-weight="bold" fill="#111" text-anchor="middle" >Ag-O</text>
<text x="268.80" y="168.20" font-family='"Liberation Sans", sans-serif' font-size="7.4" font-weight="bold" fill="#111" text-anchor="middle" >Ag-Ag</text>
<text x="281.00" y="278.80" font-family='"Liberation Sans", sans-serif' font-size="8.0" font-weight="bold" fill="#111" text-anchor="middle" >R (&#197;)</text>
<text transform="translate(196.4,201.8) rotate(-90)" font-family='"Liberation Sans", sans-serif' font-size="7.6" font-weight="bold" fill="#111" text-anchor="middle">|FT (<tspan font-style="italic">k</tspan><tspan font-size="4.5" dy="-2.5">3</tspan><tspan dy="2.5" font-style="italic">&#967;</tspan>(<tspan font-style="italic">k</tspan>))| (&#197;<tspan font-size="4.5" dy="-2.5">-4</tspan><tspan dy="2.5">)</tspan></text>
<text x="183.40" y="162.70" font-family='"Liberation Sans", sans-serif' font-size="17" font-weight="normal" fill="#000" text-anchor="start" >d</text>
<g clip-path="url(#ec0)"><g filter="url(#eb)">
<rect x="382" y="3" width="166" height="2" fill="url(#e0_0)"/>
<rect x="382" y="5" width="166" height="2" fill="url(#e0_1)"/>
<rect x="382" y="7" width="166" height="2" fill="url(#e0_2)"/>
<rect x="382" y="9" width="166" height="2" fill="url(#e0_3)"/>
<rect x="382" y="11" width="166" height="2" fill="url(#e0_4)"/>
<rect x="382" y="13" width="166" height="2" fill="url(#e0_5)"/>
<rect x="382" y="15" width="166" height="2" fill="url(#e0_6)"/>
<rect x="382" y="17" width="166" height="2" fill="url(#e0_7)"/>
<rect x="382" y="19" width="166" height="2" fill="url(#e0_8)"/>
<rect x="382" y="21" width="166" height="2" fill="url(#e0_9)"/>
<rect x="382" y="23" width="166" height="2" fill="url(#e0_10)"/>
<rect x="382" y="25" width="166" height="2" fill="url(#e0_11)"/>
<rect x="382" y="27" width="166" height="2" fill="url(#e0_12)"/>
<rect x="382" y="29" width="166" height="2" fill="url(#e0_13)"/>
<rect x="382" y="31" width="166" height="2" fill="url(#e0_14)"/>
<rect x="382" y="33" width="166" height="2" fill="url(#e0_15)"/>
<rect x="382" y="35" width="166" height="2" fill="url(#e0_16)"/>
<rect x="382" y="37" width="166" height="2" fill="url(#e0_17)"/>
<rect x="382" y="39" width="166" height="2" fill="url(#e0_18)"/>
<rect x="382" y="41" width="166" height="2" fill="url(#e0_19)"/>
<rect x="382" y="43" width="166" height="2" fill="url(#e0_20)"/>
<rect x="382" y="45" width="166" height="2" fill="url(#e0_21)"/>
<rect x="382" y="47" width="166" height="2" fill="url(#e0_22)"/>
<rect x="382" y="49" width="166" height="2" fill="url(#e0_23)"/>
<rect x="382" y="51" width="166" height="2" fill="url(#e0_24)"/>
<rect x="382" y="53" width="166" height="2" fill="url(#e0_25)"/>
<rect x="382" y="55" width="166" height="2" fill="url(#e0_26)"/>
<rect x="382" y="57" width="166" height="2" fill="url(#e0_27)"/>
<rect x="382" y="59" width="166" height="2" fill="url(#e0_28)"/>
<rect x="382" y="61" width="166" height="2" fill="url(#e0_29)"/>
<rect x="382" y="63" width="166" height="2" fill="url(#e0_30)"/>
<rect x="382" y="65" width="166" height="2" fill="url(#e0_31)"/>
<rect x="382" y="67" width="166" height="2" fill="url(#e0_32)"/>
<rect x="382" y="69" width="166" height="2" fill="url(#e0_33)"/>
<rect x="382" y="71" width="166" height="2" fill="url(#e0_34)"/>
<rect x="382" y="73" width="166" height="2" fill="url(#e0_35)"/>
<rect x="382" y="75" width="166" height="2" fill="url(#e0_36)"/>
<rect x="382" y="77" width="166" height="2" fill="url(#e0_37)"/>
<rect x="382" y="79" width="166" height="2" fill="url(#e0_38)"/>
</g>
<line x1="507.2" y1="5.6" x2="507.2" y2="77.5" stroke="#f4e8e0" stroke-width="0.7" stroke-dasharray="1.6 1.2" opacity="0.85"/>
</g>
<text x="388.60" y="15.30" font-family='"Liberation Sans", sans-serif' font-size="9.6" font-weight="bold" fill="#ffffff" text-anchor="start" >Ag foil</text>
<text x="383.80" y="69.50" font-family='"Liberation Sans", sans-serif' font-size="6.8" font-weight="bold" fill="#111" text-anchor="end" >1</text>
<text x="383.80" y="49.00" font-family='"Liberation Sans", sans-serif' font-size="6.8" font-weight="bold" fill="#111" text-anchor="end" >2</text>
<text x="383.80" y="28.50" font-family='"Liberation Sans", sans-serif' font-size="6.8" font-weight="bold" fill="#111" text-anchor="end" >3</text>
<text x="383.80" y="8.00" font-family='"Liberation Sans", sans-serif' font-size="6.8" font-weight="bold" fill="#111" text-anchor="end" >4</text>
<text x="387.00" y="85.90" font-family='"Liberation Sans", sans-serif' font-size="6.8" font-weight="bold" fill="#111" text-anchor="middle" >0</text>
<text x="412.95" y="85.90" font-family='"Liberation Sans", sans-serif' font-size="6.8" font-weight="bold" fill="#111" text-anchor="middle" >2</text>
<text x="438.90" y="85.90" font-family='"Liberation Sans", sans-serif' font-size="6.8" font-weight="bold" fill="#111" text-anchor="middle" >4</text>
<text x="464.85" y="85.90" font-family='"Liberation Sans", sans-serif' font-size="6.8" font-weight="bold" fill="#111" text-anchor="middle" >6</text>
<text x="490.80" y="85.90" font-family='"Liberation Sans", sans-serif' font-size="6.8" font-weight="bold" fill="#111" text-anchor="middle" >8</text>
<text x="516.75" y="85.90" font-family='"Liberation Sans", sans-serif' font-size="6.8" font-weight="bold" fill="#111" text-anchor="middle" >10</text>
<text x="542.70" y="85.90" font-family='"Liberation Sans", sans-serif' font-size="6.8" font-weight="bold" fill="#111" text-anchor="middle" >12</text>
<text transform="translate(374.4,41.6) rotate(-90)" font-family='"Liberation Sans", sans-serif' font-size="7.6" font-weight="bold" fill="#111" text-anchor="middle">R + &#916;R (&#197;)</text>
<g clip-path="url(#ec1)"><g filter="url(#eb)">
<rect x="382" y="95" width="166" height="2" fill="url(#e1_0)"/>
<rect x="382" y="97" width="166" height="2" fill="url(#e1_1)"/>
<rect x="382" y="99" width="166" height="2" fill="url(#e1_2)"/>
<rect x="382" y="101" width="166" height="2" fill="url(#e1_3)"/>
<rect x="382" y="103" width="166" height="2" fill="url(#e1_4)"/>
<rect x="382" y="105" width="166" height="2" fill="url(#e1_5)"/>
<rect x="382" y="107" width="166" height="2" fill="url(#e1_6)"/>
<rect x="382" y="109" width="166" height="2" fill="url(#e1_7)"/>
<rect x="382" y="111" width="166" height="2" fill="url(#e1_8)"/>
<rect x="382" y="113" width="166" height="2" fill="url(#e1_9)"/>
<rect x="382" y="115" width="166" height="2" fill="url(#e1_10)"/>
<rect x="382" y="117" width="166" height="2" fill="url(#e1_11)"/>
<rect x="382" y="119" width="166" height="2" fill="url(#e1_12)"/>
<rect x="382" y="121" width="166" height="2" fill="url(#e1_13)"/>
<rect x="382" y="123" width="166" height="2" fill="url(#e1_14)"/>
<rect x="382" y="125" width="166" height="2" fill="url(#e1_15)"/>
<rect x="382" y="127" width="166" height="2" fill="url(#e1_16)"/>
<rect x="382" y="129" width="166" height="2" fill="url(#e1_17)"/>
<rect x="382" y="131" width="166" height="2" fill="url(#e1_18)"/>
<rect x="382" y="133" width="166" height="2" fill="url(#e1_19)"/>
<rect x="382" y="135" width="166" height="2" fill="url(#e1_20)"/>
<rect x="382" y="137" width="166" height="2" fill="url(#e1_21)"/>
<rect x="382" y="139" width="166" height="2" fill="url(#e1_22)"/>
<rect x="382" y="141" width="166" height="2" fill="url(#e1_23)"/>
<rect x="382" y="143" width="166" height="2" fill="url(#e1_24)"/>
<rect x="382" y="145" width="166" height="2" fill="url(#e1_25)"/>
<rect x="382" y="147" width="166" height="2" fill="url(#e1_26)"/>
<rect x="382" y="149" width="166" height="2" fill="url(#e1_27)"/>
<rect x="382" y="151" width="166" height="2" fill="url(#e1_28)"/>
<rect x="382" y="153" width="166" height="2" fill="url(#e1_29)"/>
<rect x="382" y="155" width="166" height="2" fill="url(#e1_30)"/>
<rect x="382" y="157" width="166" height="2" fill="url(#e1_31)"/>
<rect x="382" y="159" width="166" height="2" fill="url(#e1_32)"/>
<rect x="382" y="161" width="166" height="2" fill="url(#e1_33)"/>
<rect x="382" y="163" width="166" height="2" fill="url(#e1_34)"/>
<rect x="382" y="165" width="166" height="2" fill="url(#e1_35)"/>
<rect x="382" y="167" width="166" height="2" fill="url(#e1_36)"/>
<rect x="382" y="169" width="166" height="2" fill="url(#e1_37)"/>
<rect x="382" y="171" width="166" height="2" fill="url(#e1_38)"/>
</g>
<line x1="449.6" y1="97.7" x2="449.6" y2="169.60000000000002" stroke="#f4e8e0" stroke-width="0.7" stroke-dasharray="1.6 1.2" opacity="0.85"/>
</g>
<text x="388.60" y="107.40" font-family='"Liberation Sans", sans-serif' font-size="9.6" font-weight="bold" fill="#ffffff" text-anchor="start" >Ag<tspan font-size="6" dy="2.2">2</tspan><tspan dy="-2.2">O</tspan></text>
<text x="383.80" y="161.60" font-family='"Liberation Sans", sans-serif' font-size="6.8" font-weight="bold" fill="#111" text-anchor="end" >1</text>
<text x="383.80" y="141.10" font-family='"Liberation Sans", sans-serif' font-size="6.8" font-weight="bold" fill="#111" text-anchor="end" >2</text>
<text x="383.80" y="120.60" font-family='"Liberation Sans", sans-serif' font-size="6.8" font-weight="bold" fill="#111" text-anchor="end" >3</text>
<text x="383.80" y="100.10" font-family='"Liberation Sans", sans-serif' font-size="6.8" font-weight="bold" fill="#111" text-anchor="end" >4</text>
<text x="387.00" y="178.00" font-family='"Liberation Sans", sans-serif' font-size="6.8" font-weight="bold" fill="#111" text-anchor="middle" >0</text>
<text x="412.95" y="178.00" font-family='"Liberation Sans", sans-serif' font-size="6.8" font-weight="bold" fill="#111" text-anchor="middle" >2</text>
<text x="438.90" y="178.00" font-family='"Liberation Sans", sans-serif' font-size="6.8" font-weight="bold" fill="#111" text-anchor="middle" >4</text>
<text x="464.85" y="178.00" font-family='"Liberation Sans", sans-serif' font-size="6.8" font-weight="bold" fill="#111" text-anchor="middle" >6</text>
<text x="490.80" y="178.00" font-family='"Liberation Sans", sans-serif' font-size="6.8" font-weight="bold" fill="#111" text-anchor="middle" >8</text>
<text x="516.75" y="178.00" font-family='"Liberation Sans", sans-serif' font-size="6.8" font-weight="bold" fill="#111" text-anchor="middle" >10</text>
<text x="542.70" y="178.00" font-family='"Liberation Sans", sans-serif' font-size="6.8" font-weight="bold" fill="#111" text-anchor="middle" >12</text>
<text transform="translate(374.4,133.7) rotate(-90)" font-family='"Liberation Sans", sans-serif' font-size="7.6" font-weight="bold" fill="#111" text-anchor="middle">R + &#916;R (&#197;)</text>
<g clip-path="url(#ec2)"><g filter="url(#eb)">
<rect x="382" y="185" width="166" height="2" fill="url(#e2_0)"/>
<rect x="382" y="187" width="166" height="2" fill="url(#e2_1)"/>
<rect x="382" y="189" width="166" height="2" fill="url(#e2_2)"/>
<rect x="382" y="191" width="166" height="2" fill="url(#e2_3)"/>
<rect x="382" y="193" width="166" height="2" fill="url(#e2_4)"/>
<rect x="382" y="195" width="166" height="2" fill="url(#e2_5)"/>
<rect x="382" y="197" width="166" height="2" fill="url(#e2_6)"/>
<rect x="382" y="199" width="166" height="2" fill="url(#e2_7)"/>
<rect x="382" y="201" width="166" height="2" fill="url(#e2_8)"/>
<rect x="382" y="203" width="166" height="2" fill="url(#e2_9)"/>
<rect x="382" y="205" width="166" height="2" fill="url(#e2_10)"/>
<rect x="382" y="207" width="166" height="2" fill="url(#e2_11)"/>
<rect x="382" y="209" width="166" height="2" fill="url(#e2_12)"/>
<rect x="382" y="211" width="166" height="2" fill="url(#e2_13)"/>
<rect x="382" y="213" width="166" height="2" fill="url(#e2_14)"/>
<rect x="382" y="215" width="166" height="2" fill="url(#e2_15)"/>
<rect x="382" y="217" width="166" height="2" fill="url(#e2_16)"/>
<rect x="382" y="219" width="166" height="2" fill="url(#e2_17)"/>
<rect x="382" y="221" width="166" height="2" fill="url(#e2_18)"/>
<rect x="382" y="223" width="166" height="2" fill="url(#e2_19)"/>
<rect x="382" y="225" width="166" height="2" fill="url(#e2_20)"/>
<rect x="382" y="227" width="166" height="2" fill="url(#e2_21)"/>
<rect x="382" y="229" width="166" height="2" fill="url(#e2_22)"/>
<rect x="382" y="231" width="166" height="2" fill="url(#e2_23)"/>
<rect x="382" y="233" width="166" height="2" fill="url(#e2_24)"/>
<rect x="382" y="235" width="166" height="2" fill="url(#e2_25)"/>
<rect x="382" y="237" width="166" height="2" fill="url(#e2_26)"/>
<rect x="382" y="239" width="166" height="2" fill="url(#e2_27)"/>
<rect x="382" y="241" width="166" height="2" fill="url(#e2_28)"/>
<rect x="382" y="243" width="166" height="2" fill="url(#e2_29)"/>
<rect x="382" y="245" width="166" height="2" fill="url(#e2_30)"/>
<rect x="382" y="247" width="166" height="2" fill="url(#e2_31)"/>
<rect x="382" y="249" width="166" height="2" fill="url(#e2_32)"/>
<rect x="382" y="251" width="166" height="2" fill="url(#e2_33)"/>
<rect x="382" y="253" width="166" height="2" fill="url(#e2_34)"/>
<rect x="382" y="255" width="166" height="2" fill="url(#e2_35)"/>
<rect x="382" y="257" width="166" height="2" fill="url(#e2_36)"/>
<rect x="382" y="259" width="166" height="2" fill="url(#e2_37)"/>
<rect x="382" y="261" width="166" height="2" fill="url(#e2_38)"/>
</g>
<line x1="433.2" y1="187.6" x2="433.2" y2="259.5" stroke="#f4e8e0" stroke-width="0.7" stroke-dasharray="1.6 1.2" opacity="0.85"/>
</g>
<text x="388.60" y="197.30" font-family='"Liberation Sans", sans-serif' font-size="9.6" font-weight="bold" fill="#ffffff" text-anchor="start" >Ag<tspan font-size="6" dy="2.2">SA</tspan><tspan dy="-2.2">-CN</tspan></text>
<text x="383.80" y="251.50" font-family='"Liberation Sans", sans-serif' font-size="6.8" font-weight="bold" fill="#111" text-anchor="end" >1</text>
<text x="383.80" y="231.00" font-family='"Liberation Sans", sans-serif' font-size="6.8" font-weight="bold" fill="#111" text-anchor="end" >2</text>
<text x="383.80" y="210.50" font-family='"Liberation Sans", sans-serif' font-size="6.8" font-weight="bold" fill="#111" text-anchor="end" >3</text>
<text x="383.80" y="190.00" font-family='"Liberation Sans", sans-serif' font-size="6.8" font-weight="bold" fill="#111" text-anchor="end" >4</text>
<text x="387.00" y="267.90" font-family='"Liberation Sans", sans-serif' font-size="6.8" font-weight="bold" fill="#111" text-anchor="middle" >0</text>
<text x="412.95" y="267.90" font-family='"Liberation Sans", sans-serif' font-size="6.8" font-weight="bold" fill="#111" text-anchor="middle" >2</text>
<text x="438.90" y="267.90" font-family='"Liberation Sans", sans-serif' font-size="6.8" font-weight="bold" fill="#111" text-anchor="middle" >4</text>
<text x="464.85" y="267.90" font-family='"Liberation Sans", sans-serif' font-size="6.8" font-weight="bold" fill="#111" text-anchor="middle" >6</text>
<text x="490.80" y="267.90" font-family='"Liberation Sans", sans-serif' font-size="6.8" font-weight="bold" fill="#111" text-anchor="middle" >8</text>
<text x="516.75" y="267.90" font-family='"Liberation Sans", sans-serif' font-size="6.8" font-weight="bold" fill="#111" text-anchor="middle" >10</text>
<text x="542.70" y="267.90" font-family='"Liberation Sans", sans-serif' font-size="6.8" font-weight="bold" fill="#111" text-anchor="middle" >12</text>
<text transform="translate(374.4,223.6) rotate(-90)" font-family='"Liberation Sans", sans-serif' font-size="7.6" font-weight="bold" fill="#111" text-anchor="middle">R + &#916;R (&#197;)</text>
<text x="465.00" y="277.60" font-family='"Liberation Sans", sans-serif' font-size="7.4" font-weight="bold" fill="#111" text-anchor="middle" >K (&#197;<tspan font-size="4.6" dy="-2.6">-1</tspan><tspan dy="2.6">)</tspan></text>
<text x="366.20" y="17.80" font-family='"Liberation Sans", sans-serif' font-size="17.5" font-weight="bold" fill="#000" text-anchor="start" >e</text>
<rect x="30.90" y="328.33" width="11.90" height="33.37" fill="url(#fbp)"/>
<rect x="42.80" y="323.64" width="11.90" height="38.06" fill="url(#frp)"/>
<rect x="60.40" y="358.15" width="11.90" height="3.55" fill="url(#fbp)"/>
<rect x="72.30" y="361.70" width="11.90" height="0.80" fill="#f05a6a"/>
<rect x="90.40" y="361.70" width="11.90" height="31.52" fill="url(#fbn)"/>
<rect x="102.30" y="361.70" width="11.90" height="30.10" fill="url(#frn)"/>
<rect x="120.20" y="323.64" width="11.90" height="38.06" fill="url(#fbp)"/>
<rect x="132.10" y="328.61" width="11.90" height="33.09" fill="url(#frp)"/>
<rect x="150.00" y="314.84" width="11.90" height="46.86" fill="url(#fbp)"/>
<rect x="161.90" y="334.01" width="11.90" height="27.69" fill="url(#frp)"/>
<line x1="28.2" y1="361.70" x2="177.2" y2="361.70" stroke="#333" stroke-width="0.9"/>
<rect x="28.2" y="292.6" width="149.00" height="110.90" fill="none" stroke="#444" stroke-width="1.0"/>
<line x1="27.4" y1="390.10" x2="30.599999999999998" y2="390.10" stroke="#333" stroke-width="0.7"/>
<text x="25.00" y="391.80" font-family='"Liberation Serif", serif' font-size="5.0" font-weight="normal" fill="#333" text-anchor="end" >-2</text>
<line x1="27.4" y1="375.90" x2="30.599999999999998" y2="375.90" stroke="#333" stroke-width="0.7"/>
<text x="25.00" y="377.60" font-family='"Liberation Serif", serif' font-size="5.0" font-weight="normal" fill="#333" text-anchor="end" >-1</text>
<line x1="27.4" y1="361.70" x2="30.599999999999998" y2="361.70" stroke="#333" stroke-width="0.7"/>
<text x="25.00" y="363.40" font-family='"Liberation Serif", serif' font-size="5.0" font-weight="normal" fill="#333" text-anchor="end" >0</text>
<line x1="27.4" y1="347.50" x2="30.599999999999998" y2="347.50" stroke="#333" stroke-width="0.7"/>
<text x="25.00" y="349.20" font-family='"Liberation Serif", serif' font-size="5.0" font-weight="normal" fill="#333" text-anchor="end" >1</text>
<line x1="27.4" y1="333.30" x2="30.599999999999998" y2="333.30" stroke="#333" stroke-width="0.7"/>
<text x="25.00" y="335.00" font-family='"Liberation Serif", serif' font-size="5.0" font-weight="normal" fill="#333" text-anchor="end" >2</text>
<line x1="27.4" y1="319.10" x2="30.599999999999998" y2="319.10" stroke="#333" stroke-width="0.7"/>
<text x="25.00" y="320.80" font-family='"Liberation Serif", serif' font-size="5.0" font-weight="normal" fill="#333" text-anchor="end" >3</text>
<line x1="27.4" y1="304.90" x2="30.599999999999998" y2="304.90" stroke="#333" stroke-width="0.7"/>
<text x="25.00" y="306.60" font-family='"Liberation Serif", serif' font-size="5.0" font-weight="normal" fill="#333" text-anchor="end" >4</text>
<line x1="28.2" y1="397.20" x2="29.599999999999998" y2="397.20" stroke="#333" stroke-width="0.6"/>
<line x1="28.2" y1="383.00" x2="29.599999999999998" y2="383.00" stroke="#333" stroke-width="0.6"/>
<line x1="28.2" y1="368.80" x2="29.599999999999998" y2="368.80" stroke="#333" stroke-width="0.6"/>
<line x1="28.2" y1="354.60" x2="29.599999999999998" y2="354.60" stroke="#333" stroke-width="0.6"/>
<line x1="28.2" y1="340.40" x2="29.599999999999998" y2="340.40" stroke="#333" stroke-width="0.6"/>
<line x1="28.2" y1="326.20" x2="29.599999999999998" y2="326.20" stroke="#333" stroke-width="0.6"/>
<line x1="28.2" y1="312.00" x2="29.599999999999998" y2="312.00" stroke="#333" stroke-width="0.6"/>
<line x1="28.2" y1="297.80" x2="29.599999999999998" y2="297.80" stroke="#333" stroke-width="0.6"/>
<line x1="42.80" y1="403.5" x2="42.80" y2="401.3" stroke="#333" stroke-width="0.7"/>
<text x="42.80" y="409.90" font-family='"Liberation Serif", serif' font-size="6.1" font-weight="normal" fill="#000" text-anchor="middle" >VS</text>
<line x1="72.30" y1="403.5" x2="72.30" y2="401.3" stroke="#333" stroke-width="0.7"/>
<text x="72.30" y="409.90" font-family='"Liberation Serif", serif' font-size="6.1" font-weight="normal" fill="#000" text-anchor="middle" >S-sub</text>
<line x1="102.30" y1="403.5" x2="102.30" y2="401.3" stroke="#333" stroke-width="0.7"/>
<text x="102.30" y="409.90" font-family='"Liberation Serif", serif' font-size="6.1" font-weight="normal" fill="#000" text-anchor="middle" >Mo-sub</text>
<line x1="132.10" y1="403.5" x2="132.10" y2="401.3" stroke="#333" stroke-width="0.7"/>
<text x="132.10" y="409.90" font-family='"Liberation Serif", serif' font-size="6.1" font-weight="normal" fill="#000" text-anchor="middle" >Mo-top</text>
<line x1="161.90" y1="403.5" x2="161.90" y2="401.3" stroke="#333" stroke-width="0.7"/>
<text x="161.90" y="409.90" font-family='"Liberation Serif", serif' font-size="6.1" font-weight="normal" fill="#000" text-anchor="middle" >Hollow-top</text>
<text x="104.80" y="419.30" font-family='"Liberation Serif", serif' font-size="7.4" font-weight="normal" fill="#000" text-anchor="middle" >Defects Position</text>
<text transform="translate(17.2,348.5) rotate(-90)" font-family='"Liberation Serif", serif' font-size="6.9" fill="#000" text-anchor="middle">Formation Energy (eV)</text>
<rect x="63.6" y="297.6" width="44.2" height="17.5" fill="#fff" stroke="#555" stroke-width="0.7"/>
<rect x="64.4" y="298.3" width="13.8" height="7.0" fill="url(#fbp)"/>
<rect x="64.4" y="306.9" width="13.8" height="6.8" fill="url(#frp)"/>
<text x="79.80" y="304.20" font-family='"Liberation Serif", serif' font-size="5.4" font-weight="normal" fill="#222" text-anchor="start" ><tspan font-style="italic">E</tspan><tspan font-size="3.4" dy="1" font-style="italic">form</tspan><tspan dy="-1"> -slab</tspan></text>
<text x="79.80" y="312.60" font-family='"Liberation Serif", serif' font-size="5.4" font-weight="normal" fill="#222" text-anchor="start" ><tspan font-style="italic">E</tspan><tspan font-size="3.4" dy="1" font-style="italic">form</tspan><tspan dy="-1"> -tube</tspan></text>
<line x1="167.0" y1="299.8" x2="167.0" y2="345.3" stroke="#222" stroke-width="0.6"/>
<polygon points="165.6,311.8 168.4,311.8 167,315.0" fill="#222"/>
<polygon points="165.6,337.0 168.4,337.0 167,333.8" fill="#222"/>
<line x1="161.8" y1="314.9" x2="175" y2="314.9" stroke="#555" stroke-width="0.5" stroke-dasharray="1.5 1"/>
<text x="158.60" y="308.40" font-family='"Liberation Serif", serif' font-size="6.4" font-weight="normal" fill="#222" text-anchor="middle" >40.2%</text>
<text x="5.40" y="306.80" font-family='"Liberation Sans", sans-serif' font-size="19" font-weight="bold" fill="#000" text-anchor="start" >f</text>
<rect x="204.8" y="293.6" width="155.40" height="109.90" fill="none" stroke="#555" stroke-width="1.0"/>
<line x1="206.8" y1="307.3" x2="359.2" y2="307.3" stroke="#222" stroke-width="1.1" stroke-dasharray="3.3 2.2"/>
<text x="250.20" y="302.30" font-family='"Liberation Serif", serif' font-size="7.2" font-weight="normal" fill="#222" text-anchor="start" >Vacuum energy level</text>
<line x1="204.8" y1="306.90" x2="207.0" y2="306.90" stroke="#444" stroke-width="0.7"/>
<text x="201.60" y="308.50" font-family='"Liberation Serif", serif' font-size="4.6" font-weight="normal" fill="#333" text-anchor="end" >0.0</text>
<line x1="204.8" y1="326.00" x2="207.0" y2="326.00" stroke="#444" stroke-width="0.7"/>
<text x="201.60" y="327.60" font-family='"Liberation Serif", serif' font-size="4.6" font-weight="normal" fill="#333" text-anchor="end" >-0.2</text>
<line x1="204.8" y1="342.70" x2="207.0" y2="342.70" stroke="#444" stroke-width="0.7"/>
<text x="201.60" y="344.30" font-family='"Liberation Serif", serif' font-size="4.6" font-weight="normal" fill="#333" text-anchor="end" >-4.8</text>
<line x1="204.8" y1="361.50" x2="207.0" y2="361.50" stroke="#444" stroke-width="0.7"/>
<text x="201.60" y="363.10" font-family='"Liberation Serif", serif' font-size="4.6" font-weight="normal" fill="#333" text-anchor="end" >-5.0</text>
<line x1="204.8" y1="380.30" x2="207.0" y2="380.30" stroke="#444" stroke-width="0.7"/>
<text x="201.60" y="381.90" font-family='"Liberation Serif", serif' font-size="4.6" font-weight="normal" fill="#333" text-anchor="end" >-5.2</text>
<line x1="204.8" y1="399.10" x2="207.0" y2="399.10" stroke="#444" stroke-width="0.7"/>
<text x="201.60" y="400.70" font-family='"Liberation Serif", serif' font-size="4.6" font-weight="normal" fill="#333" text-anchor="end" >-5.4</text>
<line x1="204.8" y1="316.50" x2="206.10000000000002" y2="316.50" stroke="#444" stroke-width="0.6"/>
<line x1="204.8" y1="352.10" x2="206.10000000000002" y2="352.10" stroke="#444" stroke-width="0.6"/>
<line x1="204.8" y1="370.90" x2="206.10000000000002" y2="370.90" stroke="#444" stroke-width="0.6"/>
<line x1="204.8" y1="389.70" x2="206.10000000000002" y2="389.70" stroke="#444" stroke-width="0.6"/>
<path d="M203.20000000000002,327.8 l3.2,-2.2 M203.20000000000002,329.4 l3.2,-2.2" stroke="#444" stroke-width="0.6" fill="none"/>
<rect x="204.0" y="326.4" width="1.6" height="1.6" fill="#fff"/>
<path d="M358.59999999999997,327.8 l3.2,-2.2 M358.59999999999997,329.4 l3.2,-2.2" stroke="#444" stroke-width="0.6" fill="none"/>
<rect x="359.4" y="326.4" width="1.6" height="1.6" fill="#fff"/>
<line x1="205.6" y1="376.54" x2="244.2" y2="376.54" stroke="#ee6a78" stroke-width="1.5"/>
<line x1="205.6" y1="361.50" x2="242" y2="361.50" stroke="#555" stroke-width="0.6" stroke-dasharray="2.4 1.2 0.6 1.2"/>
<line x1="242.0" y1="361.78" x2="283.2" y2="361.78" stroke="#2a8fd0" stroke-width="1.6"/>
<line x1="281.6" y1="372.40" x2="321.6" y2="372.40" stroke="#5cc050" stroke-width="1.5"/>
<line x1="281.0" y1="354.54" x2="320" y2="354.54" stroke="#555" stroke-width="0.6" stroke-dasharray="2.4 1.2 0.6 1.2"/>
<line x1="320.0" y1="354.73" x2="359.8" y2="354.73" stroke="#f2c040" stroke-width="1.6"/>
<line x1="223.6" y1="336.4" x2="223.6" y2="386.2" stroke="#333" stroke-width="0.6"/>
<polygon points="222.4,358.0 224.79999999999998,358.0 223.6,360.6" fill="#222"/>
<polygon points="222.4,380.04 224.79999999999998,380.04 223.6,377.44" fill="#222"/>
<line x1="301.4" y1="322.7" x2="301.4" y2="381.6" stroke="#333" stroke-width="0.6"/>
<polygon points="300.2,351.04400000000004 302.59999999999997,351.04400000000004 301.4,353.64400000000006" fill="#222"/>
<polygon points="300.2,375.904 302.59999999999997,375.904 301.4,373.304" fill="#222"/>
<line x1="263.1" y1="308.6" x2="263.1" y2="360.6" stroke="#333" stroke-width="0.6"/>
<polygon points="261.90000000000003,311.0 264.3,311.0 263.1,308.4" fill="#222"/>
<polygon points="261.90000000000003,358.0 264.3,358.0 263.1,360.6" fill="#222"/>
<text x="226.40" y="351.00" font-family='"Liberation Serif", serif' font-size="7.2" font-weight="normal" fill="#222" text-anchor="start" >0.16</text>
<text x="303.40" y="336.60" font-family='"Liberation Serif", serif' font-size="7.2" font-weight="normal" fill="#222" text-anchor="start" >0.19</text>
<text transform="translate(261.4,334.6) rotate(-90)" font-family='"Liberation Serif", serif' font-size="7.1" fill="#222" text-anchor="middle">Work function</text>
<line x1="223.6" y1="403.5" x2="223.6" y2="401.7" stroke="#444" stroke-width="0.7"/>
<text x="223.60" y="412.00" font-family='"Liberation Serif", serif' font-size="5.6" font-weight="bold" fill="#333" text-anchor="middle" >Mo-sub</text>
<line x1="262.6" y1="403.5" x2="262.6" y2="401.7" stroke="#444" stroke-width="0.7"/>
<text x="262.60" y="412.00" font-family='"Liberation Serif", serif' font-size="5.6" font-weight="bold" fill="#333" text-anchor="middle" >Mo-sub-VS</text>
<line x1="301.4" y1="403.5" x2="301.4" y2="401.7" stroke="#444" stroke-width="0.7"/>
<text x="301.40" y="412.00" font-family='"Liberation Serif", serif' font-size="5.6" font-weight="bold" fill="#333" text-anchor="middle" >Mo-sub+H</text>
<line x1="341.0" y1="403.5" x2="341.0" y2="401.7" stroke="#444" stroke-width="0.7"/>
<text x="341.00" y="412.00" font-family='"Liberation Serif", serif' font-size="5.6" font-weight="bold" fill="#333" text-anchor="middle" >Mo-sub-VS+H</text>
<text transform="translate(190.6,347.2) rotate(-90)" font-family='"Liberation Serif", serif' font-size="10" font-weight="bold" fill="#111" text-anchor="middle">Energy(eV)</text>
<text x="182.20" y="301.60" font-family='"Liberation Sans", sans-serif' font-size="15.5" font-weight="normal" fill="#000" text-anchor="start" >g</text>
<line x1="387.6" y1="378.0" x2="545.8" y2="378.0" stroke="#444" stroke-width="0.8" stroke-dasharray="2.4 1.2 0.6 1.2"/>
<g clip-path="url(#hc)">
<line x1="387.6" y1="357.65" x2="427.3" y2="357.65" stroke="#777" stroke-width="0.7" stroke-dasharray="2.4 1.2 0.6 1.2"/>
<g fill="none" stroke="#e04a6a" stroke-width="0.9"><path d="M386.70,324.24 L400.45,325.75 C404.25,326.02 404.85,330.15 407.45,332.90"/><path d="M386.70,313.38 Q390.85,313.65 391.85,314.75 Q390.85,315.85 386.70,316.12" fill="#e04a6a" fill-opacity="0.3"/><path d="M386.70,295.50 Q390.85,296.88 386.70,298.80 M386.70,299.35 Q390.65,300.73 386.70,302.10" fill="#e04a6a" fill-opacity="0.4"/><polyline points="407.45,378.00 404.95,378.82 402.45,379.93 400.45,381.57 399.65,382.68 397.45,383.23 399.35,385.43 397.65,386.39 395.45,386.94 397.35,389.14 395.65,390.10 393.45,390.65 395.35,392.85 393.65,393.81 391.45,394.36 393.35,396.56 391.65,397.52 389.45,398.07 391.35,400.27 389.65,401.24 387.45,401.79 389.35,403.99 387.65,404.95 386.70,406.32"/><path d="M386.70,401.93 Q395.45,401.93 396.95,403.57 Q395.45,405.23 386.70,405.23"/><path d="M428.20,324.24 L414.45,325.75 C410.65,326.02 410.05,330.15 407.45,332.90"/><path d="M428.20,313.38 Q424.05,313.65 423.05,314.75 Q424.05,315.85 428.20,316.12" fill="#e04a6a" fill-opacity="0.3"/><path d="M428.20,295.50 Q424.05,296.88 428.20,298.80 M428.20,299.35 Q424.25,300.73 428.20,302.10" fill="#e04a6a" fill-opacity="0.4"/><polyline points="407.45,378.00 409.95,378.82 412.45,379.93 414.45,381.57 415.25,382.68 417.45,383.23 415.55,385.43 417.25,386.39 419.45,386.94 417.55,389.14 419.25,390.10 421.45,390.65 419.55,392.85 421.25,393.81 423.45,394.36 421.55,396.56 423.25,397.52 425.45,398.07 423.55,400.27 425.25,401.24 427.45,401.79 425.55,403.99 427.25,404.95 428.20,406.32"/><path d="M428.20,401.93 Q419.45,401.93 417.95,403.57 Q419.45,405.23 428.20,405.23"/><line x1="407.45" y1="332.35" x2="407.45" y2="378.00"/><path d="M407.45,343.91 Q405.14,343.71 403.25,345.11 Q405.14,346.51 407.45,346.31"/><line x1="407.45" y1="345.11" x2="404.09" y2="345.11"/><path d="M407.45,343.91 Q409.76,343.71 411.65,345.11 Q409.76,346.51 407.45,346.31"/><line x1="407.45" y1="345.11" x2="410.81" y2="345.11"/><path d="M407.45,351.61 Q405.14,351.41 403.25,352.81 Q405.14,354.21 407.45,354.01"/><line x1="407.45" y1="352.81" x2="404.09" y2="352.81"/><path d="M407.45,351.61 Q409.76,351.41 411.65,352.81 Q409.76,354.21 407.45,354.01"/><line x1="407.45" y1="352.81" x2="410.81" y2="352.81"/><path d="M407.45,361.29 Q405.14,361.09 403.25,362.49 Q405.14,363.89 407.45,363.69"/><line x1="407.45" y1="362.49" x2="404.09" y2="362.49"/><path d="M407.45,361.29 Q409.76,361.09 411.65,362.49 Q409.76,363.89 407.45,363.69"/><line x1="407.45" y1="362.49" x2="410.81" y2="362.49"/><path d="M407.45,366.90 Q405.14,366.70 403.25,368.10 Q405.14,369.50 407.45,369.30"/><line x1="407.45" y1="368.10" x2="404.09" y2="368.10"/><path d="M407.45,366.90 Q409.76,366.70 411.65,368.10 Q409.76,369.50 407.45,369.30"/><line x1="407.45" y1="368.10" x2="410.81" y2="368.10"/></g>
<line x1="427.3" y1="352.80" x2="466.9" y2="352.80" stroke="#777" stroke-width="0.7" stroke-dasharray="2.4 1.2 0.6 1.2"/>
<g fill="none" stroke="#4a78c6" stroke-width="0.9"><path d="M426.35,324.24 L440.10,325.75 C443.90,326.02 444.50,330.15 447.10,332.90"/><path d="M426.35,313.38 Q430.50,313.65 431.50,314.75 Q430.50,315.85 426.35,316.12" fill="#4a78c6" fill-opacity="0.3"/><path d="M432.10,294.95 L429.10,299.62 L426.35,301.00 M429.10,299.62 L428.30,294.95"/><polyline points="447.10,378.00 444.60,378.82 442.10,379.93 440.10,381.57 439.30,382.68 437.10,383.23 439.00,385.43 437.30,386.39 435.10,386.94 437.00,389.14 435.30,390.10 433.10,390.65 435.00,392.85 433.30,393.81 431.10,394.36 433.00,396.56 431.30,397.52 429.10,398.07 431.00,400.27 429.30,401.24 427.10,401.79 429.00,403.99 427.30,404.95 426.35,406.32"/><path d="M426.35,401.93 Q435.10,401.93 436.60,403.57 Q435.10,405.23 426.35,405.23"/><path d="M467.85,324.24 L454.10,325.75 C450.30,326.02 449.70,330.15 447.10,332.90"/><path d="M467.85,313.38 Q463.70,313.65 462.70,314.75 Q463.70,315.85 467.85,316.12" fill="#4a78c6" fill-opacity="0.3"/><path d="M462.10,294.95 L465.10,299.62 L467.85,301.00 M465.10,299.62 L465.90,294.95"/><polyline points="447.10,378.00 449.60,378.82 452.10,379.93 454.10,381.57 454.90,382.68 457.10,383.23 455.20,385.43 456.90,386.39 459.10,386.94 457.20,389.14 458.90,390.10 461.10,390.65 459.20,392.85 460.90,393.81 463.10,394.36 461.20,396.56 462.90,397.52 465.10,398.07 463.20,400.27 464.90,401.24 467.10,401.79 465.20,403.99 466.90,404.95 467.85,406.32"/><path d="M467.85,401.93 Q459.10,401.93 457.60,403.57 Q459.10,405.23 467.85,405.23"/><line x1="447.10" y1="332.35" x2="447.10" y2="378.00"/><path d="M447.10,336.79 Q444.79,336.59 442.90,337.99 Q444.79,339.39 447.10,339.19"/><line x1="447.10" y1="337.99" x2="443.74" y2="337.99"/><path d="M447.10,336.79 Q449.41,336.59 451.30,337.99 Q449.41,339.39 447.10,339.19"/><line x1="447.10" y1="337.99" x2="450.46" y2="337.99"/><path d="M447.10,341.32 Q444.79,341.12 442.90,342.52 Q444.79,343.92 447.10,343.72"/><line x1="447.10" y1="342.52" x2="443.74" y2="342.52"/><path d="M447.10,341.32 Q449.41,341.12 451.30,342.52 Q449.41,343.92 447.10,343.72"/><line x1="447.10" y1="342.52" x2="450.46" y2="342.52"/><path d="M447.10,343.80 Q444.79,343.60 442.90,345.00 Q444.79,346.40 447.10,346.20"/><line x1="447.10" y1="345.00" x2="443.74" y2="345.00"/><path d="M447.10,343.80 Q449.41,343.60 451.30,345.00 Q449.41,346.40 447.10,346.20"/><line x1="447.10" y1="345.00" x2="450.46" y2="345.00"/><path d="M447.10,361.81 Q444.79,361.61 442.90,363.01 Q444.79,364.41 447.10,364.21"/><line x1="447.10" y1="363.01" x2="443.74" y2="363.01"/><path d="M447.10,361.81 Q449.41,361.61 451.30,363.01 Q449.41,364.41 447.10,364.21"/><line x1="447.10" y1="363.01" x2="450.46" y2="363.01"/><path d="M447.10,367.31 Q444.79,367.11 442.90,368.51 Q444.79,369.91 447.10,369.71"/><line x1="447.10" y1="368.51" x2="443.74" y2="368.51"/><path d="M447.10,367.31 Q449.41,367.11 451.30,368.51 Q449.41,369.91 447.10,369.71"/><line x1="447.10" y1="368.51" x2="450.46" y2="368.51"/></g>
<line x1="466.9" y1="356.70" x2="506.4" y2="356.70" stroke="#777" stroke-width="0.7" stroke-dasharray="2.4 1.2 0.6 1.2"/>
<g fill="none" stroke="#62bc48" stroke-width="0.9"><path d="M465.90,324.24 L479.65,325.75 C483.45,326.02 484.05,330.15 486.65,332.90"/><path d="M465.90,313.38 Q470.05,313.65 471.05,314.75 Q470.05,315.85 465.90,316.12" fill="#62bc48" fill-opacity="0.3"/><path d="M471.65,294.95 L468.65,299.62 L465.90,301.00 M468.65,299.62 L467.85,294.95"/><polyline points="486.65,378.00 484.15,378.82 481.65,379.93 479.65,381.57 478.85,382.68 476.65,383.23 478.55,385.43 476.85,386.39 474.65,386.94 476.55,389.14 474.85,390.10 472.65,390.65 474.55,392.85 472.85,393.81 470.65,394.36 472.55,396.56 470.85,397.52 468.65,398.07 470.55,400.27 468.85,401.24 466.65,401.79 468.55,403.99 466.85,404.95 465.90,406.32"/><path d="M465.90,401.93 Q474.65,401.93 476.15,403.57 Q474.65,405.23 465.90,405.23"/><path d="M507.40,324.24 L493.65,325.75 C489.85,326.02 489.25,330.15 486.65,332.90"/><path d="M507.40,313.38 Q503.25,313.65 502.25,314.75 Q503.25,315.85 507.40,316.12" fill="#62bc48" fill-opacity="0.3"/><path d="M501.65,294.95 L504.65,299.62 L507.40,301.00 M504.65,299.62 L505.45,294.95"/><polyline points="486.65,378.00 489.15,378.82 491.65,379.93 493.65,381.57 494.45,382.68 496.65,383.23 494.75,385.43 496.45,386.39 498.65,386.94 496.75,389.14 498.45,390.10 500.65,390.65 498.75,392.85 500.45,393.81 502.65,394.36 500.75,396.56 502.45,397.52 504.65,398.07 502.75,400.27 504.45,401.24 506.65,401.79 504.75,403.99 506.45,404.95 507.40,406.32"/><path d="M507.40,401.93 Q498.65,401.93 497.15,403.57 Q498.65,405.23 507.40,405.23"/><line x1="486.65" y1="332.35" x2="486.65" y2="378.00"/><path d="M486.65,340.09 Q484.23,339.89 482.25,341.29 Q484.23,342.69 486.65,342.49"/><line x1="486.65" y1="341.29" x2="483.13" y2="341.29"/><path d="M486.65,340.09 Q489.07,339.89 491.05,341.29 Q489.07,342.69 486.65,342.49"/><line x1="486.65" y1="341.29" x2="490.17" y2="341.29"/><path d="M486.65,353.01 Q484.34,352.81 482.45,354.21 Q484.34,355.61 486.65,355.41"/><line x1="486.65" y1="354.21" x2="483.29" y2="354.21"/><path d="M486.65,357.82 Q488.96,357.62 490.85,359.02 Q488.96,360.42 486.65,360.22"/><line x1="486.65" y1="359.02" x2="490.01" y2="359.02"/><path d="M486.65,359.06 Q484.34,358.86 482.45,360.26 Q484.34,361.66 486.65,361.46"/><line x1="486.65" y1="360.26" x2="483.29" y2="360.26"/><path d="M486.65,363.60 Q488.96,363.40 490.85,364.80 Q488.96,366.20 486.65,366.00"/><line x1="486.65" y1="364.80" x2="490.01" y2="364.80"/></g>
<line x1="506.4" y1="351.90" x2="545.8" y2="351.90" stroke="#777" stroke-width="0.7" stroke-dasharray="2.4 1.2 0.6 1.2"/>
<g fill="none" stroke="#f0be2c" stroke-width="0.9"><path d="M505.35,324.24 L519.10,325.75 C522.90,326.02 523.50,330.15 526.10,332.90"/><path d="M505.35,313.38 Q509.50,313.65 510.50,314.75 Q509.50,315.85 505.35,316.12" fill="#f0be2c" fill-opacity="0.3"/><path d="M511.10,294.95 L508.10,299.62 L505.35,301.00 M508.10,299.62 L507.30,294.95"/><polyline points="526.10,378.00 523.60,378.82 521.10,379.93 519.10,381.57 518.30,382.68 516.10,383.23 518.00,385.43 516.30,386.39 514.10,386.94 516.00,389.14 514.30,390.10 512.10,390.65 514.00,392.85 512.30,393.81 510.10,394.36 512.00,396.56 510.30,397.52 508.10,398.07 510.00,400.27 508.30,401.24 506.10,401.79 508.00,403.99 506.30,404.95 505.35,406.32"/><path d="M505.35,401.93 Q514.10,401.93 515.60,403.57 Q514.10,405.23 505.35,405.23"/><path d="M546.85,324.24 L533.10,325.75 C529.30,326.02 528.70,330.15 526.10,332.90"/><path d="M546.85,313.38 Q542.70,313.65 541.70,314.75 Q542.70,315.85 546.85,316.12" fill="#f0be2c" fill-opacity="0.3"/><path d="M541.10,294.95 L544.10,299.62 L546.85,301.00 M544.10,299.62 L544.90,294.95"/><polyline points="526.10,378.00 528.60,378.82 531.10,379.93 533.10,381.57 533.90,382.68 536.10,383.23 534.20,385.43 535.90,386.39 538.10,386.94 536.20,389.14 537.90,390.10 540.10,390.65 538.20,392.85 539.90,393.81 542.10,394.36 540.20,396.56 541.90,397.52 544.10,398.07 542.20,400.27 543.90,401.24 546.10,401.79 544.20,403.99 545.90,404.95 546.85,406.32"/><path d="M546.85,401.93 Q538.10,401.93 536.60,403.57 Q538.10,405.23 546.85,405.23"/><line x1="526.10" y1="332.35" x2="526.10" y2="378.00"/><path d="M526.10,336.79 Q523.90,336.59 522.10,337.99 Q523.90,339.39 526.10,339.19"/><line x1="526.10" y1="337.99" x2="522.90" y2="337.99"/><path d="M526.10,336.79 Q528.30,336.59 530.10,337.99 Q528.30,339.39 526.10,339.19"/><line x1="526.10" y1="337.99" x2="529.30" y2="337.99"/><path d="M526.10,340.50 Q523.90,340.30 522.10,341.70 Q523.90,343.10 526.10,342.90"/><line x1="526.10" y1="341.70" x2="522.90" y2="341.70"/><path d="M526.10,340.50 Q528.30,340.30 530.10,341.70 Q528.30,343.10 526.10,342.90"/><line x1="526.10" y1="341.70" x2="529.30" y2="341.70"/><path d="M526.10,347.65 Q523.90,347.45 522.10,348.85 Q523.90,350.25 526.10,350.05"/><line x1="526.10" y1="348.85" x2="522.90" y2="348.85"/><path d="M526.10,353.70 Q528.30,353.50 530.10,354.90 Q528.30,356.30 526.10,356.10"/><line x1="526.10" y1="354.90" x2="529.30" y2="354.90"/><path d="M526.10,358.79 Q523.90,358.59 522.10,359.99 Q523.90,361.39 526.10,361.19"/><line x1="526.10" y1="359.99" x2="522.90" y2="359.99"/><path d="M526.10,362.09 Q528.30,361.89 530.10,363.29 Q528.30,364.69 526.10,364.49"/><line x1="526.10" y1="363.29" x2="529.30" y2="363.29"/></g>
</g>
<rect x="387.6" y="296.1" width="158.20" height="108.90" fill="none" stroke="#4a4a4a" stroke-width="1.1"/>
<line x1="427.3" y1="296.1" x2="427.3" y2="405.0" stroke="#4a4a4a" stroke-width="1.0"/>
<line x1="466.9" y1="296.1" x2="466.9" y2="405.0" stroke="#4a4a4a" stroke-width="1.0"/>
<line x1="506.4" y1="296.1" x2="506.4" y2="405.0" stroke="#4a4a4a" stroke-width="1.0"/>
<line x1="387.6" y1="405.50" x2="389.40000000000003" y2="405.50" stroke="#444" stroke-width="0.6"/>
<text x="384.40" y="407.10" font-family='"Liberation Serif", serif' font-size="5.0" font-weight="normal" fill="#333" text-anchor="end" >-1</text>
<line x1="387.6" y1="378.00" x2="389.40000000000003" y2="378.00" stroke="#444" stroke-width="0.6"/>
<text x="384.40" y="379.60" font-family='"Liberation Serif", serif' font-size="5.0" font-weight="normal" fill="#333" text-anchor="end" >0</text>
<line x1="387.6" y1="350.50" x2="389.40000000000003" y2="350.50" stroke="#444" stroke-width="0.6"/>
<text x="384.40" y="352.10" font-family='"Liberation Serif", serif' font-size="5.0" font-weight="normal" fill="#333" text-anchor="end" >1</text>
<line x1="387.6" y1="323.00" x2="389.40000000000003" y2="323.00" stroke="#444" stroke-width="0.6"/>
<text x="384.40" y="324.60" font-family='"Liberation Serif", serif' font-size="5.0" font-weight="normal" fill="#333" text-anchor="end" >2</text>
<line x1="387.6" y1="391.75" x2="388.70000000000005" y2="391.75" stroke="#444" stroke-width="0.5"/>
<line x1="387.6" y1="364.25" x2="388.70000000000005" y2="364.25" stroke="#444" stroke-width="0.5"/>
<line x1="387.6" y1="336.75" x2="388.70000000000005" y2="336.75" stroke="#444" stroke-width="0.5"/>
<line x1="387.6" y1="309.25" x2="388.70000000000005" y2="309.25" stroke="#444" stroke-width="0.5"/>
<line x1="407.45" y1="405.0" x2="407.45" y2="403.4" stroke="#333" stroke-width="0.6"/>
<text x="407.45" y="412.20" font-family='"Liberation Serif", serif' font-size="5.1" font-weight="bold" fill="#2a2a2a" text-anchor="middle" >Mo-sub</text>
<line x1="447.10" y1="405.0" x2="447.10" y2="403.4" stroke="#333" stroke-width="0.6"/>
<text x="447.10" y="412.20" font-family='"Liberation Serif", serif' font-size="5.1" font-weight="bold" fill="#2a2a2a" text-anchor="middle" >Mo-sub-VS</text>
<line x1="486.65" y1="405.0" x2="486.65" y2="403.4" stroke="#333" stroke-width="0.6"/>
<text x="486.65" y="412.20" font-family='"Liberation Serif", serif' font-size="5.1" font-weight="bold" fill="#2a2a2a" text-anchor="middle" >Mo-sub+H</text>
<line x1="526.10" y1="405.0" x2="526.10" y2="403.4" stroke="#333" stroke-width="0.6"/>
<text x="526.10" y="412.20" font-family='"Liberation Serif", serif' font-size="5.1" font-weight="bold" fill="#2a2a2a" text-anchor="middle" >Mo-sub-VS+H</text>
<text transform="translate(379.0,345.5) rotate(-90)" font-family='"Liberation Serif", serif' font-size="5.0" fill="#333" text-anchor="middle">Energy (eV)</text>
<text x="367.40" y="306.70" font-family='"Liberation Sans", sans-serif' font-size="18" font-weight="normal" fill="#000" text-anchor="start" >h</text>
</svg></body></html>
